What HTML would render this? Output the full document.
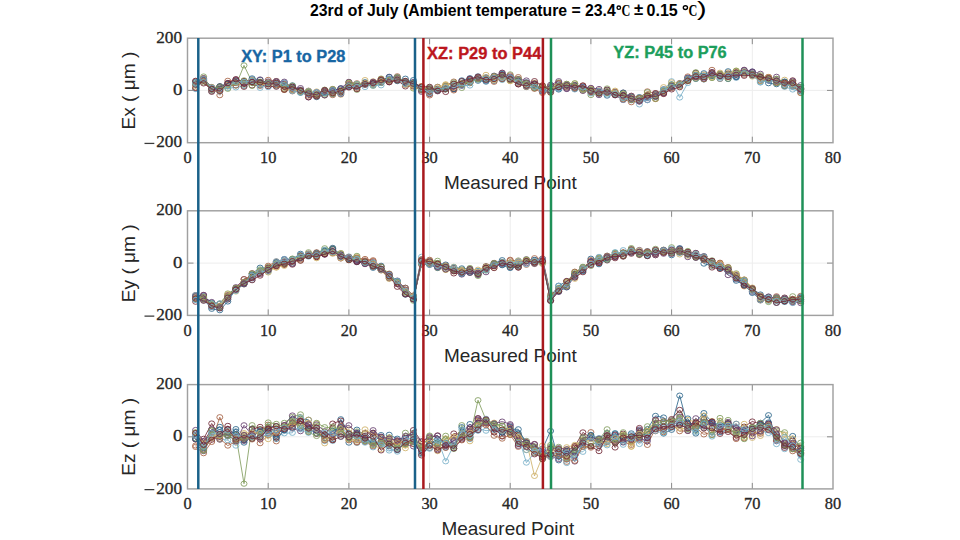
<!DOCTYPE html>
<html><head><meta charset="utf-8"><style>
html,body{margin:0;padding:0;background:#fff;width:960px;height:540px;overflow:hidden}
svg{position:absolute;left:0;top:0}
.tk{font-family:"Liberation Serif",serif;font-size:16.4px;fill:#262626;stroke:#262626;stroke-width:0.3px}
.xl{font-family:"Liberation Sans",sans-serif;font-size:18.2px;fill:#262626}
.ann{font-family:"Liberation Sans",sans-serif;font-size:16px;font-weight:bold;stroke-width:0.35px}
.ti{font-family:"Liberation Sans",sans-serif;font-size:15.8px;font-weight:bold;fill:#000}
.cc{font-family:"Liberation Serif",serif;font-size:16.5px;font-weight:bold;fill:#000}
.pr{font-family:"Liberation Sans",sans-serif;font-size:20.5px;fill:#000}
</style></head><body>
<svg width="960" height="540" viewBox="0 0 960 540">
<defs><clipPath id="c0"><rect x="187.5" y="38.2" width="645.5" height="104.49999999999999"/></clipPath><clipPath id="c1"><rect x="187.5" y="210.8" width="645.5" height="104.59999999999997"/></clipPath><clipPath id="c2"><rect x="187.5" y="384.6" width="645.5" height="104.29999999999995"/></clipPath></defs>
<g stroke="#ededed" stroke-width="1"><line x1="268.2" y1="38.2" x2="268.2" y2="142.7"/><line x1="348.9" y1="38.2" x2="348.9" y2="142.7"/><line x1="429.6" y1="38.2" x2="429.6" y2="142.7"/><line x1="510.2" y1="38.2" x2="510.2" y2="142.7"/><line x1="590.9" y1="38.2" x2="590.9" y2="142.7"/><line x1="671.6" y1="38.2" x2="671.6" y2="142.7"/><line x1="752.3" y1="38.2" x2="752.3" y2="142.7"/><line x1="187.5" y1="90.4" x2="833.0" y2="90.4"/><line x1="268.2" y1="210.8" x2="268.2" y2="315.4"/><line x1="348.9" y1="210.8" x2="348.9" y2="315.4"/><line x1="429.6" y1="210.8" x2="429.6" y2="315.4"/><line x1="510.2" y1="210.8" x2="510.2" y2="315.4"/><line x1="590.9" y1="210.8" x2="590.9" y2="315.4"/><line x1="671.6" y1="210.8" x2="671.6" y2="315.4"/><line x1="752.3" y1="210.8" x2="752.3" y2="315.4"/><line x1="187.5" y1="263.1" x2="833.0" y2="263.1"/><line x1="268.2" y1="384.6" x2="268.2" y2="488.9"/><line x1="348.9" y1="384.6" x2="348.9" y2="488.9"/><line x1="429.6" y1="384.6" x2="429.6" y2="488.9"/><line x1="510.2" y1="384.6" x2="510.2" y2="488.9"/><line x1="590.9" y1="384.6" x2="590.9" y2="488.9"/><line x1="671.6" y1="384.6" x2="671.6" y2="488.9"/><line x1="752.3" y1="384.6" x2="752.3" y2="488.9"/><line x1="187.5" y1="436.8" x2="833.0" y2="436.8"/></g>
<g clip-path="url(#c0)" fill="none" stroke-width="0.85"><path d="M195.6 83.6 L203.6 80.2 L211.7 89.2 L219.8 89.2 L227.8 85.6 L235.9 80.8 L244 82.2 L252.1 80.1 L260.1 83.1 L268.2 82.8 L276.3 83.7 L284.3 89.4 L292.4 86.8 L300.5 90.4 L308.5 92.5 L316.6 97.1 L324.7 95.1 L332.7 94.1 L340.8 92.4 L348.9 85.8 L356.9 85.5 L365 83 L373.1 85 L381.1 80.9 L389.2 79.7 L397.3 81.1 L405.4 78.7 L413.4 83 L421.5 86.9 L429.6 92 L437.6 90.4 L445.7 89 L453.8 85.9 L461.8 83.1 L469.9 80.7 L478 79.3 L486 80.6 L494.1 78.7 L502.2 74.3 L510.2 79.3 L518.3 80.2 L526.4 83 L534.5 88 L542.5 89.3 L550.6 86.6 L558.7 89.5 L566.7 86.4 L574.8 86.4 L582.9 90 L590.9 89.6 L599 91.3 L607.1 95.6 L615.1 92.1 L623.2 94.8 L631.3 96.8 L639.4 97.1 L647.4 95.4 L655.5 94.9 L663.6 92.6 L671.6 84.4 L679.7 85.9 L687.8 80.4 L695.8 78.9 L703.9 79.4 L712 75.8 L720 73.6 L728.1 79 L736.2 76.5 L744.2 71.6 L752.3 71.7 L760.4 76.9 L768.5 83.2 L776.5 84.2 L784.6 81.8 L792.7 86.7 L800.7 91.2" stroke="#2c658a"/><g stroke="#2c658a"><ellipse cx="195.6" cy="83.6" rx="3.0" ry="2.6"/><ellipse cx="203.6" cy="80.2" rx="3.0" ry="2.6"/><ellipse cx="211.7" cy="89.2" rx="3.0" ry="2.6"/><ellipse cx="219.8" cy="89.2" rx="3.0" ry="2.6"/><ellipse cx="227.8" cy="85.6" rx="3.0" ry="2.6"/><ellipse cx="235.9" cy="80.8" rx="3.0" ry="2.6"/><ellipse cx="244" cy="82.2" rx="3.0" ry="2.6"/><ellipse cx="252.1" cy="80.1" rx="3.0" ry="2.6"/><ellipse cx="260.1" cy="83.1" rx="3.0" ry="2.6"/><ellipse cx="268.2" cy="82.8" rx="3.0" ry="2.6"/><ellipse cx="276.3" cy="83.7" rx="3.0" ry="2.6"/><ellipse cx="284.3" cy="89.4" rx="3.0" ry="2.6"/><ellipse cx="292.4" cy="86.8" rx="3.0" ry="2.6"/><ellipse cx="300.5" cy="90.4" rx="3.0" ry="2.6"/><ellipse cx="308.5" cy="92.5" rx="3.0" ry="2.6"/><ellipse cx="316.6" cy="97.1" rx="3.0" ry="2.6"/><ellipse cx="324.7" cy="95.1" rx="3.0" ry="2.6"/><ellipse cx="332.7" cy="94.1" rx="3.0" ry="2.6"/><ellipse cx="340.8" cy="92.4" rx="3.0" ry="2.6"/><ellipse cx="348.9" cy="85.8" rx="3.0" ry="2.6"/><ellipse cx="356.9" cy="85.5" rx="3.0" ry="2.6"/><ellipse cx="365" cy="83" rx="3.0" ry="2.6"/><ellipse cx="373.1" cy="85" rx="3.0" ry="2.6"/><ellipse cx="381.1" cy="80.9" rx="3.0" ry="2.6"/><ellipse cx="389.2" cy="79.7" rx="3.0" ry="2.6"/><ellipse cx="397.3" cy="81.1" rx="3.0" ry="2.6"/><ellipse cx="405.4" cy="78.7" rx="3.0" ry="2.6"/><ellipse cx="413.4" cy="83" rx="3.0" ry="2.6"/><ellipse cx="421.5" cy="86.9" rx="3.0" ry="2.6"/><ellipse cx="429.6" cy="92" rx="3.0" ry="2.6"/><ellipse cx="437.6" cy="90.4" rx="3.0" ry="2.6"/><ellipse cx="445.7" cy="89" rx="3.0" ry="2.6"/><ellipse cx="453.8" cy="85.9" rx="3.0" ry="2.6"/><ellipse cx="461.8" cy="83.1" rx="3.0" ry="2.6"/><ellipse cx="469.9" cy="80.7" rx="3.0" ry="2.6"/><ellipse cx="478" cy="79.3" rx="3.0" ry="2.6"/><ellipse cx="486" cy="80.6" rx="3.0" ry="2.6"/><ellipse cx="494.1" cy="78.7" rx="3.0" ry="2.6"/><ellipse cx="502.2" cy="74.3" rx="3.0" ry="2.6"/><ellipse cx="510.2" cy="79.3" rx="3.0" ry="2.6"/><ellipse cx="518.3" cy="80.2" rx="3.0" ry="2.6"/><ellipse cx="526.4" cy="83" rx="3.0" ry="2.6"/><ellipse cx="534.5" cy="88" rx="3.0" ry="2.6"/><ellipse cx="542.5" cy="89.3" rx="3.0" ry="2.6"/><ellipse cx="550.6" cy="86.6" rx="3.0" ry="2.6"/><ellipse cx="558.7" cy="89.5" rx="3.0" ry="2.6"/><ellipse cx="566.7" cy="86.4" rx="3.0" ry="2.6"/><ellipse cx="574.8" cy="86.4" rx="3.0" ry="2.6"/><ellipse cx="582.9" cy="90" rx="3.0" ry="2.6"/><ellipse cx="590.9" cy="89.6" rx="3.0" ry="2.6"/><ellipse cx="599" cy="91.3" rx="3.0" ry="2.6"/><ellipse cx="607.1" cy="95.6" rx="3.0" ry="2.6"/><ellipse cx="615.1" cy="92.1" rx="3.0" ry="2.6"/><ellipse cx="623.2" cy="94.8" rx="3.0" ry="2.6"/><ellipse cx="631.3" cy="96.8" rx="3.0" ry="2.6"/><ellipse cx="639.4" cy="97.1" rx="3.0" ry="2.6"/><ellipse cx="647.4" cy="95.4" rx="3.0" ry="2.6"/><ellipse cx="655.5" cy="94.9" rx="3.0" ry="2.6"/><ellipse cx="663.6" cy="92.6" rx="3.0" ry="2.6"/><ellipse cx="671.6" cy="84.4" rx="3.0" ry="2.6"/><ellipse cx="679.7" cy="85.9" rx="3.0" ry="2.6"/><ellipse cx="687.8" cy="80.4" rx="3.0" ry="2.6"/><ellipse cx="695.8" cy="78.9" rx="3.0" ry="2.6"/><ellipse cx="703.9" cy="79.4" rx="3.0" ry="2.6"/><ellipse cx="712" cy="75.8" rx="3.0" ry="2.6"/><ellipse cx="720" cy="73.6" rx="3.0" ry="2.6"/><ellipse cx="728.1" cy="79" rx="3.0" ry="2.6"/><ellipse cx="736.2" cy="76.5" rx="3.0" ry="2.6"/><ellipse cx="744.2" cy="71.6" rx="3.0" ry="2.6"/><ellipse cx="752.3" cy="71.7" rx="3.0" ry="2.6"/><ellipse cx="760.4" cy="76.9" rx="3.0" ry="2.6"/><ellipse cx="768.5" cy="83.2" rx="3.0" ry="2.6"/><ellipse cx="776.5" cy="84.2" rx="3.0" ry="2.6"/><ellipse cx="784.6" cy="81.8" rx="3.0" ry="2.6"/><ellipse cx="792.7" cy="86.7" rx="3.0" ry="2.6"/><ellipse cx="800.7" cy="91.2" rx="3.0" ry="2.6"/></g><path d="M195.6 81.3 L203.6 78.3 L211.7 87 L219.8 95.2 L227.8 80.8 L235.9 80.8 L244 81 L252.1 80.1 L260.1 85.9 L268.2 79.9 L276.3 81.1 L284.3 83.8 L292.4 91.3 L300.5 91.7 L308.5 90.7 L316.6 96.3 L324.7 90.8 L332.7 89.1 L340.8 93.2 L348.9 82.1 L356.9 83.3 L365 83.4 L373.1 81.9 L381.1 79.1 L389.2 79.2 L397.3 76.3 L405.4 82.7 L413.4 84 L421.5 86.1 L429.6 89.6 L437.6 89.6 L445.7 85.3 L453.8 81.6 L461.8 84.3 L469.9 83.1 L478 77.6 L486 77.9 L494.1 77.2 L502.2 72.9 L510.2 78.7 L518.3 77.1 L526.4 85.5 L534.5 85.5 L542.5 87 L550.6 86 L558.7 82.9 L566.7 83.9 L574.8 84.9 L582.9 87 L590.9 88.4 L599 90.5 L607.1 90.9 L615.1 91.6 L623.2 95.1 L631.3 96.1 L639.4 97.9 L647.4 91.4 L655.5 93.4 L663.6 89.7 L671.6 85.4 L679.7 83.7 L687.8 76.5 L695.8 76 L703.9 75.5 L712 69.9 L720 79 L728.1 76.6 L736.2 71.9 L744.2 70.3 L752.3 73.2 L760.4 78 L768.5 77 L776.5 78.9 L784.6 82.6 L792.7 80.4 L800.7 87.1" stroke="#a66346"/><g stroke="#a66346"><ellipse cx="195.6" cy="81.3" rx="3.0" ry="2.6"/><ellipse cx="203.6" cy="78.3" rx="3.0" ry="2.6"/><ellipse cx="211.7" cy="87" rx="3.0" ry="2.6"/><ellipse cx="219.8" cy="95.2" rx="3.0" ry="2.6"/><ellipse cx="227.8" cy="80.8" rx="3.0" ry="2.6"/><ellipse cx="235.9" cy="80.8" rx="3.0" ry="2.6"/><ellipse cx="244" cy="81" rx="3.0" ry="2.6"/><ellipse cx="252.1" cy="80.1" rx="3.0" ry="2.6"/><ellipse cx="260.1" cy="85.9" rx="3.0" ry="2.6"/><ellipse cx="268.2" cy="79.9" rx="3.0" ry="2.6"/><ellipse cx="276.3" cy="81.1" rx="3.0" ry="2.6"/><ellipse cx="284.3" cy="83.8" rx="3.0" ry="2.6"/><ellipse cx="292.4" cy="91.3" rx="3.0" ry="2.6"/><ellipse cx="300.5" cy="91.7" rx="3.0" ry="2.6"/><ellipse cx="308.5" cy="90.7" rx="3.0" ry="2.6"/><ellipse cx="316.6" cy="96.3" rx="3.0" ry="2.6"/><ellipse cx="324.7" cy="90.8" rx="3.0" ry="2.6"/><ellipse cx="332.7" cy="89.1" rx="3.0" ry="2.6"/><ellipse cx="340.8" cy="93.2" rx="3.0" ry="2.6"/><ellipse cx="348.9" cy="82.1" rx="3.0" ry="2.6"/><ellipse cx="356.9" cy="83.3" rx="3.0" ry="2.6"/><ellipse cx="365" cy="83.4" rx="3.0" ry="2.6"/><ellipse cx="373.1" cy="81.9" rx="3.0" ry="2.6"/><ellipse cx="381.1" cy="79.1" rx="3.0" ry="2.6"/><ellipse cx="389.2" cy="79.2" rx="3.0" ry="2.6"/><ellipse cx="397.3" cy="76.3" rx="3.0" ry="2.6"/><ellipse cx="405.4" cy="82.7" rx="3.0" ry="2.6"/><ellipse cx="413.4" cy="84" rx="3.0" ry="2.6"/><ellipse cx="421.5" cy="86.1" rx="3.0" ry="2.6"/><ellipse cx="429.6" cy="89.6" rx="3.0" ry="2.6"/><ellipse cx="437.6" cy="89.6" rx="3.0" ry="2.6"/><ellipse cx="445.7" cy="85.3" rx="3.0" ry="2.6"/><ellipse cx="453.8" cy="81.6" rx="3.0" ry="2.6"/><ellipse cx="461.8" cy="84.3" rx="3.0" ry="2.6"/><ellipse cx="469.9" cy="83.1" rx="3.0" ry="2.6"/><ellipse cx="478" cy="77.6" rx="3.0" ry="2.6"/><ellipse cx="486" cy="77.9" rx="3.0" ry="2.6"/><ellipse cx="494.1" cy="77.2" rx="3.0" ry="2.6"/><ellipse cx="502.2" cy="72.9" rx="3.0" ry="2.6"/><ellipse cx="510.2" cy="78.7" rx="3.0" ry="2.6"/><ellipse cx="518.3" cy="77.1" rx="3.0" ry="2.6"/><ellipse cx="526.4" cy="85.5" rx="3.0" ry="2.6"/><ellipse cx="534.5" cy="85.5" rx="3.0" ry="2.6"/><ellipse cx="542.5" cy="87" rx="3.0" ry="2.6"/><ellipse cx="550.6" cy="86" rx="3.0" ry="2.6"/><ellipse cx="558.7" cy="82.9" rx="3.0" ry="2.6"/><ellipse cx="566.7" cy="83.9" rx="3.0" ry="2.6"/><ellipse cx="574.8" cy="84.9" rx="3.0" ry="2.6"/><ellipse cx="582.9" cy="87" rx="3.0" ry="2.6"/><ellipse cx="590.9" cy="88.4" rx="3.0" ry="2.6"/><ellipse cx="599" cy="90.5" rx="3.0" ry="2.6"/><ellipse cx="607.1" cy="90.9" rx="3.0" ry="2.6"/><ellipse cx="615.1" cy="91.6" rx="3.0" ry="2.6"/><ellipse cx="623.2" cy="95.1" rx="3.0" ry="2.6"/><ellipse cx="631.3" cy="96.1" rx="3.0" ry="2.6"/><ellipse cx="639.4" cy="97.9" rx="3.0" ry="2.6"/><ellipse cx="647.4" cy="91.4" rx="3.0" ry="2.6"/><ellipse cx="655.5" cy="93.4" rx="3.0" ry="2.6"/><ellipse cx="663.6" cy="89.7" rx="3.0" ry="2.6"/><ellipse cx="671.6" cy="85.4" rx="3.0" ry="2.6"/><ellipse cx="679.7" cy="83.7" rx="3.0" ry="2.6"/><ellipse cx="687.8" cy="76.5" rx="3.0" ry="2.6"/><ellipse cx="695.8" cy="76" rx="3.0" ry="2.6"/><ellipse cx="703.9" cy="75.5" rx="3.0" ry="2.6"/><ellipse cx="712" cy="69.9" rx="3.0" ry="2.6"/><ellipse cx="720" cy="79" rx="3.0" ry="2.6"/><ellipse cx="728.1" cy="76.6" rx="3.0" ry="2.6"/><ellipse cx="736.2" cy="71.9" rx="3.0" ry="2.6"/><ellipse cx="744.2" cy="70.3" rx="3.0" ry="2.6"/><ellipse cx="752.3" cy="73.2" rx="3.0" ry="2.6"/><ellipse cx="760.4" cy="78" rx="3.0" ry="2.6"/><ellipse cx="768.5" cy="77" rx="3.0" ry="2.6"/><ellipse cx="776.5" cy="78.9" rx="3.0" ry="2.6"/><ellipse cx="784.6" cy="82.6" rx="3.0" ry="2.6"/><ellipse cx="792.7" cy="80.4" rx="3.0" ry="2.6"/><ellipse cx="800.7" cy="87.1" rx="3.0" ry="2.6"/></g><path d="M195.6 85.1 L203.6 80.4 L211.7 89 L219.8 91.3 L227.8 86.4 L235.9 81.2 L244 85.8 L252.1 82.7 L260.1 81.9 L268.2 82.1 L276.3 81.3 L284.3 89.8 L292.4 89.6 L300.5 92.4 L308.5 92.5 L316.6 91.5 L324.7 95.5 L332.7 90.2 L340.8 94.7 L348.9 85.3 L356.9 88.8 L365 84 L373.1 81.4 L381.1 82.1 L389.2 80.3 L397.3 78.3 L405.4 82.3 L413.4 84.6 L421.5 86.4 L429.6 88.7 L437.6 89.7 L445.7 84.8 L453.8 88.3 L461.8 82.7 L469.9 82.1 L478 78.4 L486 77.4 L494.1 77.4 L502.2 75.7 L510.2 81 L518.3 84.1 L526.4 82.8 L534.5 87.2 L542.5 91.8 L550.6 92.7 L558.7 83.3 L566.7 84.4 L574.8 83.4 L582.9 90.5 L590.9 90.9 L599 93.8 L607.1 91.1 L615.1 90.7 L623.2 98.3 L631.3 95.8 L639.4 98.3 L647.4 96.8 L655.5 99.1 L663.6 87.2 L671.6 86.2 L679.7 86.2 L687.8 78.8 L695.8 75.7 L703.9 74.5 L712 77.1 L720 74.2 L728.1 72.4 L736.2 70.6 L744.2 72.7 L752.3 76.5 L760.4 76.2 L768.5 79.4 L776.5 80.5 L784.6 79.8 L792.7 86 L800.7 92.8" stroke="#cfb169"/><g stroke="#cfb169"><ellipse cx="195.6" cy="85.1" rx="3.0" ry="2.6"/><ellipse cx="203.6" cy="80.4" rx="3.0" ry="2.6"/><ellipse cx="211.7" cy="89" rx="3.0" ry="2.6"/><ellipse cx="219.8" cy="91.3" rx="3.0" ry="2.6"/><ellipse cx="227.8" cy="86.4" rx="3.0" ry="2.6"/><ellipse cx="235.9" cy="81.2" rx="3.0" ry="2.6"/><ellipse cx="244" cy="85.8" rx="3.0" ry="2.6"/><ellipse cx="252.1" cy="82.7" rx="3.0" ry="2.6"/><ellipse cx="260.1" cy="81.9" rx="3.0" ry="2.6"/><ellipse cx="268.2" cy="82.1" rx="3.0" ry="2.6"/><ellipse cx="276.3" cy="81.3" rx="3.0" ry="2.6"/><ellipse cx="284.3" cy="89.8" rx="3.0" ry="2.6"/><ellipse cx="292.4" cy="89.6" rx="3.0" ry="2.6"/><ellipse cx="300.5" cy="92.4" rx="3.0" ry="2.6"/><ellipse cx="308.5" cy="92.5" rx="3.0" ry="2.6"/><ellipse cx="316.6" cy="91.5" rx="3.0" ry="2.6"/><ellipse cx="324.7" cy="95.5" rx="3.0" ry="2.6"/><ellipse cx="332.7" cy="90.2" rx="3.0" ry="2.6"/><ellipse cx="340.8" cy="94.7" rx="3.0" ry="2.6"/><ellipse cx="348.9" cy="85.3" rx="3.0" ry="2.6"/><ellipse cx="356.9" cy="88.8" rx="3.0" ry="2.6"/><ellipse cx="365" cy="84" rx="3.0" ry="2.6"/><ellipse cx="373.1" cy="81.4" rx="3.0" ry="2.6"/><ellipse cx="381.1" cy="82.1" rx="3.0" ry="2.6"/><ellipse cx="389.2" cy="80.3" rx="3.0" ry="2.6"/><ellipse cx="397.3" cy="78.3" rx="3.0" ry="2.6"/><ellipse cx="405.4" cy="82.3" rx="3.0" ry="2.6"/><ellipse cx="413.4" cy="84.6" rx="3.0" ry="2.6"/><ellipse cx="421.5" cy="86.4" rx="3.0" ry="2.6"/><ellipse cx="429.6" cy="88.7" rx="3.0" ry="2.6"/><ellipse cx="437.6" cy="89.7" rx="3.0" ry="2.6"/><ellipse cx="445.7" cy="84.8" rx="3.0" ry="2.6"/><ellipse cx="453.8" cy="88.3" rx="3.0" ry="2.6"/><ellipse cx="461.8" cy="82.7" rx="3.0" ry="2.6"/><ellipse cx="469.9" cy="82.1" rx="3.0" ry="2.6"/><ellipse cx="478" cy="78.4" rx="3.0" ry="2.6"/><ellipse cx="486" cy="77.4" rx="3.0" ry="2.6"/><ellipse cx="494.1" cy="77.4" rx="3.0" ry="2.6"/><ellipse cx="502.2" cy="75.7" rx="3.0" ry="2.6"/><ellipse cx="510.2" cy="81" rx="3.0" ry="2.6"/><ellipse cx="518.3" cy="84.1" rx="3.0" ry="2.6"/><ellipse cx="526.4" cy="82.8" rx="3.0" ry="2.6"/><ellipse cx="534.5" cy="87.2" rx="3.0" ry="2.6"/><ellipse cx="542.5" cy="91.8" rx="3.0" ry="2.6"/><ellipse cx="550.6" cy="92.7" rx="3.0" ry="2.6"/><ellipse cx="558.7" cy="83.3" rx="3.0" ry="2.6"/><ellipse cx="566.7" cy="84.4" rx="3.0" ry="2.6"/><ellipse cx="574.8" cy="83.4" rx="3.0" ry="2.6"/><ellipse cx="582.9" cy="90.5" rx="3.0" ry="2.6"/><ellipse cx="590.9" cy="90.9" rx="3.0" ry="2.6"/><ellipse cx="599" cy="93.8" rx="3.0" ry="2.6"/><ellipse cx="607.1" cy="91.1" rx="3.0" ry="2.6"/><ellipse cx="615.1" cy="90.7" rx="3.0" ry="2.6"/><ellipse cx="623.2" cy="98.3" rx="3.0" ry="2.6"/><ellipse cx="631.3" cy="95.8" rx="3.0" ry="2.6"/><ellipse cx="639.4" cy="98.3" rx="3.0" ry="2.6"/><ellipse cx="647.4" cy="96.8" rx="3.0" ry="2.6"/><ellipse cx="655.5" cy="99.1" rx="3.0" ry="2.6"/><ellipse cx="663.6" cy="87.2" rx="3.0" ry="2.6"/><ellipse cx="671.6" cy="86.2" rx="3.0" ry="2.6"/><ellipse cx="679.7" cy="86.2" rx="3.0" ry="2.6"/><ellipse cx="687.8" cy="78.8" rx="3.0" ry="2.6"/><ellipse cx="695.8" cy="75.7" rx="3.0" ry="2.6"/><ellipse cx="703.9" cy="74.5" rx="3.0" ry="2.6"/><ellipse cx="712" cy="77.1" rx="3.0" ry="2.6"/><ellipse cx="720" cy="74.2" rx="3.0" ry="2.6"/><ellipse cx="728.1" cy="72.4" rx="3.0" ry="2.6"/><ellipse cx="736.2" cy="70.6" rx="3.0" ry="2.6"/><ellipse cx="744.2" cy="72.7" rx="3.0" ry="2.6"/><ellipse cx="752.3" cy="76.5" rx="3.0" ry="2.6"/><ellipse cx="760.4" cy="76.2" rx="3.0" ry="2.6"/><ellipse cx="768.5" cy="79.4" rx="3.0" ry="2.6"/><ellipse cx="776.5" cy="80.5" rx="3.0" ry="2.6"/><ellipse cx="784.6" cy="79.8" rx="3.0" ry="2.6"/><ellipse cx="792.7" cy="86" rx="3.0" ry="2.6"/><ellipse cx="800.7" cy="92.8" rx="3.0" ry="2.6"/></g><path d="M195.6 88.5 L203.6 78.1 L211.7 88 L219.8 88.7 L227.8 85.3 L235.9 81.5 L244 83 L252.1 79.6 L260.1 83.8 L268.2 81.5 L276.3 81.1 L284.3 82.7 L292.4 90.1 L300.5 89.7 L308.5 97.4 L316.6 95.9 L324.7 95.3 L332.7 90.1 L340.8 94.1 L348.9 86.6 L356.9 86 L365 84.3 L373.1 85 L381.1 81.1 L389.2 76.8 L397.3 79.7 L405.4 81.3 L413.4 82.2 L421.5 89.9 L429.6 93.4 L437.6 90.1 L445.7 86.2 L453.8 89.3 L461.8 85.8 L469.9 79.3 L478 76.8 L486 78.7 L494.1 76 L502.2 76.6 L510.2 80.2 L518.3 84.1 L526.4 85.3 L534.5 83.1 L542.5 90.6 L550.6 91.4 L558.7 87.4 L566.7 89 L574.8 86.6 L582.9 90.9 L590.9 90 L599 95.1 L607.1 91.9 L615.1 95.2 L623.2 100 L631.3 97.4 L639.4 100.8 L647.4 100 L655.5 97 L663.6 89.4 L671.6 86.8 L679.7 83.1 L687.8 78 L695.8 75 L703.9 76.8 L712 72.1 L720 75 L728.1 74.4 L736.2 77.3 L744.2 70.4 L752.3 72.1 L760.4 78.9 L768.5 80.5 L776.5 76.8 L784.6 86.3 L792.7 84.3 L800.7 85.2" stroke="#67406f"/><g stroke="#67406f"><ellipse cx="195.6" cy="88.5" rx="3.0" ry="2.6"/><ellipse cx="203.6" cy="78.1" rx="3.0" ry="2.6"/><ellipse cx="211.7" cy="88" rx="3.0" ry="2.6"/><ellipse cx="219.8" cy="88.7" rx="3.0" ry="2.6"/><ellipse cx="227.8" cy="85.3" rx="3.0" ry="2.6"/><ellipse cx="235.9" cy="81.5" rx="3.0" ry="2.6"/><ellipse cx="244" cy="83" rx="3.0" ry="2.6"/><ellipse cx="252.1" cy="79.6" rx="3.0" ry="2.6"/><ellipse cx="260.1" cy="83.8" rx="3.0" ry="2.6"/><ellipse cx="268.2" cy="81.5" rx="3.0" ry="2.6"/><ellipse cx="276.3" cy="81.1" rx="3.0" ry="2.6"/><ellipse cx="284.3" cy="82.7" rx="3.0" ry="2.6"/><ellipse cx="292.4" cy="90.1" rx="3.0" ry="2.6"/><ellipse cx="300.5" cy="89.7" rx="3.0" ry="2.6"/><ellipse cx="308.5" cy="97.4" rx="3.0" ry="2.6"/><ellipse cx="316.6" cy="95.9" rx="3.0" ry="2.6"/><ellipse cx="324.7" cy="95.3" rx="3.0" ry="2.6"/><ellipse cx="332.7" cy="90.1" rx="3.0" ry="2.6"/><ellipse cx="340.8" cy="94.1" rx="3.0" ry="2.6"/><ellipse cx="348.9" cy="86.6" rx="3.0" ry="2.6"/><ellipse cx="356.9" cy="86" rx="3.0" ry="2.6"/><ellipse cx="365" cy="84.3" rx="3.0" ry="2.6"/><ellipse cx="373.1" cy="85" rx="3.0" ry="2.6"/><ellipse cx="381.1" cy="81.1" rx="3.0" ry="2.6"/><ellipse cx="389.2" cy="76.8" rx="3.0" ry="2.6"/><ellipse cx="397.3" cy="79.7" rx="3.0" ry="2.6"/><ellipse cx="405.4" cy="81.3" rx="3.0" ry="2.6"/><ellipse cx="413.4" cy="82.2" rx="3.0" ry="2.6"/><ellipse cx="421.5" cy="89.9" rx="3.0" ry="2.6"/><ellipse cx="429.6" cy="93.4" rx="3.0" ry="2.6"/><ellipse cx="437.6" cy="90.1" rx="3.0" ry="2.6"/><ellipse cx="445.7" cy="86.2" rx="3.0" ry="2.6"/><ellipse cx="453.8" cy="89.3" rx="3.0" ry="2.6"/><ellipse cx="461.8" cy="85.8" rx="3.0" ry="2.6"/><ellipse cx="469.9" cy="79.3" rx="3.0" ry="2.6"/><ellipse cx="478" cy="76.8" rx="3.0" ry="2.6"/><ellipse cx="486" cy="78.7" rx="3.0" ry="2.6"/><ellipse cx="494.1" cy="76" rx="3.0" ry="2.6"/><ellipse cx="502.2" cy="76.6" rx="3.0" ry="2.6"/><ellipse cx="510.2" cy="80.2" rx="3.0" ry="2.6"/><ellipse cx="518.3" cy="84.1" rx="3.0" ry="2.6"/><ellipse cx="526.4" cy="85.3" rx="3.0" ry="2.6"/><ellipse cx="534.5" cy="83.1" rx="3.0" ry="2.6"/><ellipse cx="542.5" cy="90.6" rx="3.0" ry="2.6"/><ellipse cx="550.6" cy="91.4" rx="3.0" ry="2.6"/><ellipse cx="558.7" cy="87.4" rx="3.0" ry="2.6"/><ellipse cx="566.7" cy="89" rx="3.0" ry="2.6"/><ellipse cx="574.8" cy="86.6" rx="3.0" ry="2.6"/><ellipse cx="582.9" cy="90.9" rx="3.0" ry="2.6"/><ellipse cx="590.9" cy="90" rx="3.0" ry="2.6"/><ellipse cx="599" cy="95.1" rx="3.0" ry="2.6"/><ellipse cx="607.1" cy="91.9" rx="3.0" ry="2.6"/><ellipse cx="615.1" cy="95.2" rx="3.0" ry="2.6"/><ellipse cx="623.2" cy="100" rx="3.0" ry="2.6"/><ellipse cx="631.3" cy="97.4" rx="3.0" ry="2.6"/><ellipse cx="639.4" cy="100.8" rx="3.0" ry="2.6"/><ellipse cx="647.4" cy="100" rx="3.0" ry="2.6"/><ellipse cx="655.5" cy="97" rx="3.0" ry="2.6"/><ellipse cx="663.6" cy="89.4" rx="3.0" ry="2.6"/><ellipse cx="671.6" cy="86.8" rx="3.0" ry="2.6"/><ellipse cx="679.7" cy="83.1" rx="3.0" ry="2.6"/><ellipse cx="687.8" cy="78" rx="3.0" ry="2.6"/><ellipse cx="695.8" cy="75" rx="3.0" ry="2.6"/><ellipse cx="703.9" cy="76.8" rx="3.0" ry="2.6"/><ellipse cx="712" cy="72.1" rx="3.0" ry="2.6"/><ellipse cx="720" cy="75" rx="3.0" ry="2.6"/><ellipse cx="728.1" cy="74.4" rx="3.0" ry="2.6"/><ellipse cx="736.2" cy="77.3" rx="3.0" ry="2.6"/><ellipse cx="744.2" cy="70.4" rx="3.0" ry="2.6"/><ellipse cx="752.3" cy="72.1" rx="3.0" ry="2.6"/><ellipse cx="760.4" cy="78.9" rx="3.0" ry="2.6"/><ellipse cx="768.5" cy="80.5" rx="3.0" ry="2.6"/><ellipse cx="776.5" cy="76.8" rx="3.0" ry="2.6"/><ellipse cx="784.6" cy="86.3" rx="3.0" ry="2.6"/><ellipse cx="792.7" cy="84.3" rx="3.0" ry="2.6"/><ellipse cx="800.7" cy="85.2" rx="3.0" ry="2.6"/></g><path d="M195.6 83.8 L203.6 76.5 L211.7 89.4 L219.8 86.7 L227.8 83.9 L235.9 85.5 L244 65.4 L252.1 82.3 L260.1 82.4 L268.2 84.2 L276.3 85.1 L284.3 88.6 L292.4 89.9 L300.5 90.1 L308.5 93.9 L316.6 95.9 L324.7 93.8 L332.7 89 L340.8 89.6 L348.9 85.7 L356.9 89.8 L365 83.4 L373.1 83.2 L381.1 78.6 L389.2 80.1 L397.3 80.4 L405.4 81.8 L413.4 88.5 L421.5 87.8 L429.6 90.5 L437.6 90.9 L445.7 86.1 L453.8 82.5 L461.8 87.9 L469.9 83.2 L478 78.3 L486 78.8 L494.1 79 L502.2 79.4 L510.2 74.4 L518.3 79.1 L526.4 86.9 L534.5 88.3 L542.5 86.4 L550.6 87.9 L558.7 82.5 L566.7 84.6 L574.8 88.6 L582.9 88.3 L590.9 95 L599 93.3 L607.1 93.2 L615.1 93.3 L623.2 98.2 L631.3 99.6 L639.4 99.7 L647.4 95.9 L655.5 94.3 L663.6 90 L671.6 86.9 L679.7 83.6 L687.8 79.9 L695.8 78.6 L703.9 79.2 L712 75.3 L720 77.1 L728.1 75.5 L736.2 74 L744.2 72.3 L752.3 75.6 L760.4 81.3 L768.5 79.1 L776.5 78.8 L784.6 82.2 L792.7 86.1 L800.7 88.5" stroke="#829d5f"/><g stroke="#829d5f"><ellipse cx="195.6" cy="83.8" rx="3.0" ry="2.6"/><ellipse cx="203.6" cy="76.5" rx="3.0" ry="2.6"/><ellipse cx="211.7" cy="89.4" rx="3.0" ry="2.6"/><ellipse cx="219.8" cy="86.7" rx="3.0" ry="2.6"/><ellipse cx="227.8" cy="83.9" rx="3.0" ry="2.6"/><ellipse cx="235.9" cy="85.5" rx="3.0" ry="2.6"/><ellipse cx="244" cy="65.4" rx="3.0" ry="2.6"/><ellipse cx="252.1" cy="82.3" rx="3.0" ry="2.6"/><ellipse cx="260.1" cy="82.4" rx="3.0" ry="2.6"/><ellipse cx="268.2" cy="84.2" rx="3.0" ry="2.6"/><ellipse cx="276.3" cy="85.1" rx="3.0" ry="2.6"/><ellipse cx="284.3" cy="88.6" rx="3.0" ry="2.6"/><ellipse cx="292.4" cy="89.9" rx="3.0" ry="2.6"/><ellipse cx="300.5" cy="90.1" rx="3.0" ry="2.6"/><ellipse cx="308.5" cy="93.9" rx="3.0" ry="2.6"/><ellipse cx="316.6" cy="95.9" rx="3.0" ry="2.6"/><ellipse cx="324.7" cy="93.8" rx="3.0" ry="2.6"/><ellipse cx="332.7" cy="89" rx="3.0" ry="2.6"/><ellipse cx="340.8" cy="89.6" rx="3.0" ry="2.6"/><ellipse cx="348.9" cy="85.7" rx="3.0" ry="2.6"/><ellipse cx="356.9" cy="89.8" rx="3.0" ry="2.6"/><ellipse cx="365" cy="83.4" rx="3.0" ry="2.6"/><ellipse cx="373.1" cy="83.2" rx="3.0" ry="2.6"/><ellipse cx="381.1" cy="78.6" rx="3.0" ry="2.6"/><ellipse cx="389.2" cy="80.1" rx="3.0" ry="2.6"/><ellipse cx="397.3" cy="80.4" rx="3.0" ry="2.6"/><ellipse cx="405.4" cy="81.8" rx="3.0" ry="2.6"/><ellipse cx="413.4" cy="88.5" rx="3.0" ry="2.6"/><ellipse cx="421.5" cy="87.8" rx="3.0" ry="2.6"/><ellipse cx="429.6" cy="90.5" rx="3.0" ry="2.6"/><ellipse cx="437.6" cy="90.9" rx="3.0" ry="2.6"/><ellipse cx="445.7" cy="86.1" rx="3.0" ry="2.6"/><ellipse cx="453.8" cy="82.5" rx="3.0" ry="2.6"/><ellipse cx="461.8" cy="87.9" rx="3.0" ry="2.6"/><ellipse cx="469.9" cy="83.2" rx="3.0" ry="2.6"/><ellipse cx="478" cy="78.3" rx="3.0" ry="2.6"/><ellipse cx="486" cy="78.8" rx="3.0" ry="2.6"/><ellipse cx="494.1" cy="79" rx="3.0" ry="2.6"/><ellipse cx="502.2" cy="79.4" rx="3.0" ry="2.6"/><ellipse cx="510.2" cy="74.4" rx="3.0" ry="2.6"/><ellipse cx="518.3" cy="79.1" rx="3.0" ry="2.6"/><ellipse cx="526.4" cy="86.9" rx="3.0" ry="2.6"/><ellipse cx="534.5" cy="88.3" rx="3.0" ry="2.6"/><ellipse cx="542.5" cy="86.4" rx="3.0" ry="2.6"/><ellipse cx="550.6" cy="87.9" rx="3.0" ry="2.6"/><ellipse cx="558.7" cy="82.5" rx="3.0" ry="2.6"/><ellipse cx="566.7" cy="84.6" rx="3.0" ry="2.6"/><ellipse cx="574.8" cy="88.6" rx="3.0" ry="2.6"/><ellipse cx="582.9" cy="88.3" rx="3.0" ry="2.6"/><ellipse cx="590.9" cy="95" rx="3.0" ry="2.6"/><ellipse cx="599" cy="93.3" rx="3.0" ry="2.6"/><ellipse cx="607.1" cy="93.2" rx="3.0" ry="2.6"/><ellipse cx="615.1" cy="93.3" rx="3.0" ry="2.6"/><ellipse cx="623.2" cy="98.2" rx="3.0" ry="2.6"/><ellipse cx="631.3" cy="99.6" rx="3.0" ry="2.6"/><ellipse cx="639.4" cy="99.7" rx="3.0" ry="2.6"/><ellipse cx="647.4" cy="95.9" rx="3.0" ry="2.6"/><ellipse cx="655.5" cy="94.3" rx="3.0" ry="2.6"/><ellipse cx="663.6" cy="90" rx="3.0" ry="2.6"/><ellipse cx="671.6" cy="86.9" rx="3.0" ry="2.6"/><ellipse cx="679.7" cy="83.6" rx="3.0" ry="2.6"/><ellipse cx="687.8" cy="79.9" rx="3.0" ry="2.6"/><ellipse cx="695.8" cy="78.6" rx="3.0" ry="2.6"/><ellipse cx="703.9" cy="79.2" rx="3.0" ry="2.6"/><ellipse cx="712" cy="75.3" rx="3.0" ry="2.6"/><ellipse cx="720" cy="77.1" rx="3.0" ry="2.6"/><ellipse cx="728.1" cy="75.5" rx="3.0" ry="2.6"/><ellipse cx="736.2" cy="74" rx="3.0" ry="2.6"/><ellipse cx="744.2" cy="72.3" rx="3.0" ry="2.6"/><ellipse cx="752.3" cy="75.6" rx="3.0" ry="2.6"/><ellipse cx="760.4" cy="81.3" rx="3.0" ry="2.6"/><ellipse cx="768.5" cy="79.1" rx="3.0" ry="2.6"/><ellipse cx="776.5" cy="78.8" rx="3.0" ry="2.6"/><ellipse cx="784.6" cy="82.2" rx="3.0" ry="2.6"/><ellipse cx="792.7" cy="86.1" rx="3.0" ry="2.6"/><ellipse cx="800.7" cy="88.5" rx="3.0" ry="2.6"/></g><path d="M195.6 89 L203.6 80.2 L211.7 91.1 L219.8 86.3 L227.8 88 L235.9 87.4 L244 85.9 L252.1 79.6 L260.1 85 L268.2 87.1 L276.3 86.3 L284.3 85.5 L292.4 88.1 L300.5 91.7 L308.5 91 L316.6 92.7 L324.7 92.1 L332.7 91.6 L340.8 88.6 L348.9 85 L356.9 83.9 L365 87 L373.1 84.5 L381.1 80.6 L389.2 81.7 L397.3 78.1 L405.4 81.7 L413.4 82.8 L421.5 90.4 L429.6 87.5 L437.6 86.8 L445.7 89.4 L453.8 86.1 L461.8 81.2 L469.9 82.6 L478 77.2 L486 77.2 L494.1 78.2 L502.2 79.9 L510.2 77.8 L518.3 80.6 L526.4 82.1 L534.5 83.9 L542.5 89.9 L550.6 88.2 L558.7 85.2 L566.7 85.9 L574.8 86.7 L582.9 89.4 L590.9 89.8 L599 94 L607.1 94.4 L615.1 94.4 L623.2 99.8 L631.3 100.3 L639.4 104.4 L647.4 98.2 L655.5 94.5 L663.6 89.3 L671.6 81.3 L679.7 97.5 L687.8 83 L695.8 73.1 L703.9 76.9 L712 73 L720 78.7 L728.1 76.2 L736.2 77.8 L744.2 71.1 L752.3 73.4 L760.4 82.5 L768.5 80.1 L776.5 79.8 L784.6 86.8 L792.7 89.5 L800.7 91.7" stroke="#77afc7"/><g stroke="#77afc7"><ellipse cx="195.6" cy="89" rx="3.0" ry="2.6"/><ellipse cx="203.6" cy="80.2" rx="3.0" ry="2.6"/><ellipse cx="211.7" cy="91.1" rx="3.0" ry="2.6"/><ellipse cx="219.8" cy="86.3" rx="3.0" ry="2.6"/><ellipse cx="227.8" cy="88" rx="3.0" ry="2.6"/><ellipse cx="235.9" cy="87.4" rx="3.0" ry="2.6"/><ellipse cx="244" cy="85.9" rx="3.0" ry="2.6"/><ellipse cx="252.1" cy="79.6" rx="3.0" ry="2.6"/><ellipse cx="260.1" cy="85" rx="3.0" ry="2.6"/><ellipse cx="268.2" cy="87.1" rx="3.0" ry="2.6"/><ellipse cx="276.3" cy="86.3" rx="3.0" ry="2.6"/><ellipse cx="284.3" cy="85.5" rx="3.0" ry="2.6"/><ellipse cx="292.4" cy="88.1" rx="3.0" ry="2.6"/><ellipse cx="300.5" cy="91.7" rx="3.0" ry="2.6"/><ellipse cx="308.5" cy="91" rx="3.0" ry="2.6"/><ellipse cx="316.6" cy="92.7" rx="3.0" ry="2.6"/><ellipse cx="324.7" cy="92.1" rx="3.0" ry="2.6"/><ellipse cx="332.7" cy="91.6" rx="3.0" ry="2.6"/><ellipse cx="340.8" cy="88.6" rx="3.0" ry="2.6"/><ellipse cx="348.9" cy="85" rx="3.0" ry="2.6"/><ellipse cx="356.9" cy="83.9" rx="3.0" ry="2.6"/><ellipse cx="365" cy="87" rx="3.0" ry="2.6"/><ellipse cx="373.1" cy="84.5" rx="3.0" ry="2.6"/><ellipse cx="381.1" cy="80.6" rx="3.0" ry="2.6"/><ellipse cx="389.2" cy="81.7" rx="3.0" ry="2.6"/><ellipse cx="397.3" cy="78.1" rx="3.0" ry="2.6"/><ellipse cx="405.4" cy="81.7" rx="3.0" ry="2.6"/><ellipse cx="413.4" cy="82.8" rx="3.0" ry="2.6"/><ellipse cx="421.5" cy="90.4" rx="3.0" ry="2.6"/><ellipse cx="429.6" cy="87.5" rx="3.0" ry="2.6"/><ellipse cx="437.6" cy="86.8" rx="3.0" ry="2.6"/><ellipse cx="445.7" cy="89.4" rx="3.0" ry="2.6"/><ellipse cx="453.8" cy="86.1" rx="3.0" ry="2.6"/><ellipse cx="461.8" cy="81.2" rx="3.0" ry="2.6"/><ellipse cx="469.9" cy="82.6" rx="3.0" ry="2.6"/><ellipse cx="478" cy="77.2" rx="3.0" ry="2.6"/><ellipse cx="486" cy="77.2" rx="3.0" ry="2.6"/><ellipse cx="494.1" cy="78.2" rx="3.0" ry="2.6"/><ellipse cx="502.2" cy="79.9" rx="3.0" ry="2.6"/><ellipse cx="510.2" cy="77.8" rx="3.0" ry="2.6"/><ellipse cx="518.3" cy="80.6" rx="3.0" ry="2.6"/><ellipse cx="526.4" cy="82.1" rx="3.0" ry="2.6"/><ellipse cx="534.5" cy="83.9" rx="3.0" ry="2.6"/><ellipse cx="542.5" cy="89.9" rx="3.0" ry="2.6"/><ellipse cx="550.6" cy="88.2" rx="3.0" ry="2.6"/><ellipse cx="558.7" cy="85.2" rx="3.0" ry="2.6"/><ellipse cx="566.7" cy="85.9" rx="3.0" ry="2.6"/><ellipse cx="574.8" cy="86.7" rx="3.0" ry="2.6"/><ellipse cx="582.9" cy="89.4" rx="3.0" ry="2.6"/><ellipse cx="590.9" cy="89.8" rx="3.0" ry="2.6"/><ellipse cx="599" cy="94" rx="3.0" ry="2.6"/><ellipse cx="607.1" cy="94.4" rx="3.0" ry="2.6"/><ellipse cx="615.1" cy="94.4" rx="3.0" ry="2.6"/><ellipse cx="623.2" cy="99.8" rx="3.0" ry="2.6"/><ellipse cx="631.3" cy="100.3" rx="3.0" ry="2.6"/><ellipse cx="639.4" cy="104.4" rx="3.0" ry="2.6"/><ellipse cx="647.4" cy="98.2" rx="3.0" ry="2.6"/><ellipse cx="655.5" cy="94.5" rx="3.0" ry="2.6"/><ellipse cx="663.6" cy="89.3" rx="3.0" ry="2.6"/><ellipse cx="671.6" cy="81.3" rx="3.0" ry="2.6"/><ellipse cx="679.7" cy="97.5" rx="3.0" ry="2.6"/><ellipse cx="687.8" cy="83" rx="3.0" ry="2.6"/><ellipse cx="695.8" cy="73.1" rx="3.0" ry="2.6"/><ellipse cx="703.9" cy="76.9" rx="3.0" ry="2.6"/><ellipse cx="712" cy="73" rx="3.0" ry="2.6"/><ellipse cx="720" cy="78.7" rx="3.0" ry="2.6"/><ellipse cx="728.1" cy="76.2" rx="3.0" ry="2.6"/><ellipse cx="736.2" cy="77.8" rx="3.0" ry="2.6"/><ellipse cx="744.2" cy="71.1" rx="3.0" ry="2.6"/><ellipse cx="752.3" cy="73.4" rx="3.0" ry="2.6"/><ellipse cx="760.4" cy="82.5" rx="3.0" ry="2.6"/><ellipse cx="768.5" cy="80.1" rx="3.0" ry="2.6"/><ellipse cx="776.5" cy="79.8" rx="3.0" ry="2.6"/><ellipse cx="784.6" cy="86.8" rx="3.0" ry="2.6"/><ellipse cx="792.7" cy="89.5" rx="3.0" ry="2.6"/><ellipse cx="800.7" cy="91.7" rx="3.0" ry="2.6"/></g><path d="M195.6 87.9 L203.6 79.9 L211.7 88.4 L219.8 86.3 L227.8 84 L235.9 80.3 L244 81 L252.1 85.4 L260.1 85 L268.2 86.1 L276.3 86.7 L284.3 86.4 L292.4 88.9 L300.5 90.7 L308.5 97.2 L316.6 96.4 L324.7 91.8 L332.7 93 L340.8 92.4 L348.9 86.9 L356.9 87.3 L365 83 L373.1 83.2 L381.1 82 L389.2 82.2 L397.3 80.4 L405.4 86.4 L413.4 86.5 L421.5 89.6 L429.6 94.1 L437.6 88.7 L445.7 88.3 L453.8 88.9 L461.8 85.2 L469.9 82.2 L478 77.7 L486 77.7 L494.1 78 L502.2 78.9 L510.2 78.2 L518.3 81.2 L526.4 82.6 L534.5 84.6 L542.5 91.2 L550.6 92.5 L558.7 86.8 L566.7 87.6 L574.8 88.9 L582.9 88.9 L590.9 92 L599 91.3 L607.1 91.7 L615.1 95 L623.2 92.7 L631.3 99.7 L639.4 98.1 L647.4 96.2 L655.5 93.1 L663.6 94 L671.6 87.6 L679.7 84.5 L687.8 78.5 L695.8 72.8 L703.9 77 L712 72.4 L720 75 L728.1 73.6 L736.2 72.7 L744.2 72.8 L752.3 74 L760.4 80.7 L768.5 77.3 L776.5 82.9 L784.6 82.4 L792.7 81.7 L800.7 89.6" stroke="#712a38"/><g stroke="#712a38"><ellipse cx="195.6" cy="87.9" rx="3.0" ry="2.6"/><ellipse cx="203.6" cy="79.9" rx="3.0" ry="2.6"/><ellipse cx="211.7" cy="88.4" rx="3.0" ry="2.6"/><ellipse cx="219.8" cy="86.3" rx="3.0" ry="2.6"/><ellipse cx="227.8" cy="84" rx="3.0" ry="2.6"/><ellipse cx="235.9" cy="80.3" rx="3.0" ry="2.6"/><ellipse cx="244" cy="81" rx="3.0" ry="2.6"/><ellipse cx="252.1" cy="85.4" rx="3.0" ry="2.6"/><ellipse cx="260.1" cy="85" rx="3.0" ry="2.6"/><ellipse cx="268.2" cy="86.1" rx="3.0" ry="2.6"/><ellipse cx="276.3" cy="86.7" rx="3.0" ry="2.6"/><ellipse cx="284.3" cy="86.4" rx="3.0" ry="2.6"/><ellipse cx="292.4" cy="88.9" rx="3.0" ry="2.6"/><ellipse cx="300.5" cy="90.7" rx="3.0" ry="2.6"/><ellipse cx="308.5" cy="97.2" rx="3.0" ry="2.6"/><ellipse cx="316.6" cy="96.4" rx="3.0" ry="2.6"/><ellipse cx="324.7" cy="91.8" rx="3.0" ry="2.6"/><ellipse cx="332.7" cy="93" rx="3.0" ry="2.6"/><ellipse cx="340.8" cy="92.4" rx="3.0" ry="2.6"/><ellipse cx="348.9" cy="86.9" rx="3.0" ry="2.6"/><ellipse cx="356.9" cy="87.3" rx="3.0" ry="2.6"/><ellipse cx="365" cy="83" rx="3.0" ry="2.6"/><ellipse cx="373.1" cy="83.2" rx="3.0" ry="2.6"/><ellipse cx="381.1" cy="82" rx="3.0" ry="2.6"/><ellipse cx="389.2" cy="82.2" rx="3.0" ry="2.6"/><ellipse cx="397.3" cy="80.4" rx="3.0" ry="2.6"/><ellipse cx="405.4" cy="86.4" rx="3.0" ry="2.6"/><ellipse cx="413.4" cy="86.5" rx="3.0" ry="2.6"/><ellipse cx="421.5" cy="89.6" rx="3.0" ry="2.6"/><ellipse cx="429.6" cy="94.1" rx="3.0" ry="2.6"/><ellipse cx="437.6" cy="88.7" rx="3.0" ry="2.6"/><ellipse cx="445.7" cy="88.3" rx="3.0" ry="2.6"/><ellipse cx="453.8" cy="88.9" rx="3.0" ry="2.6"/><ellipse cx="461.8" cy="85.2" rx="3.0" ry="2.6"/><ellipse cx="469.9" cy="82.2" rx="3.0" ry="2.6"/><ellipse cx="478" cy="77.7" rx="3.0" ry="2.6"/><ellipse cx="486" cy="77.7" rx="3.0" ry="2.6"/><ellipse cx="494.1" cy="78" rx="3.0" ry="2.6"/><ellipse cx="502.2" cy="78.9" rx="3.0" ry="2.6"/><ellipse cx="510.2" cy="78.2" rx="3.0" ry="2.6"/><ellipse cx="518.3" cy="81.2" rx="3.0" ry="2.6"/><ellipse cx="526.4" cy="82.6" rx="3.0" ry="2.6"/><ellipse cx="534.5" cy="84.6" rx="3.0" ry="2.6"/><ellipse cx="542.5" cy="91.2" rx="3.0" ry="2.6"/><ellipse cx="550.6" cy="92.5" rx="3.0" ry="2.6"/><ellipse cx="558.7" cy="86.8" rx="3.0" ry="2.6"/><ellipse cx="566.7" cy="87.6" rx="3.0" ry="2.6"/><ellipse cx="574.8" cy="88.9" rx="3.0" ry="2.6"/><ellipse cx="582.9" cy="88.9" rx="3.0" ry="2.6"/><ellipse cx="590.9" cy="92" rx="3.0" ry="2.6"/><ellipse cx="599" cy="91.3" rx="3.0" ry="2.6"/><ellipse cx="607.1" cy="91.7" rx="3.0" ry="2.6"/><ellipse cx="615.1" cy="95" rx="3.0" ry="2.6"/><ellipse cx="623.2" cy="92.7" rx="3.0" ry="2.6"/><ellipse cx="631.3" cy="99.7" rx="3.0" ry="2.6"/><ellipse cx="639.4" cy="98.1" rx="3.0" ry="2.6"/><ellipse cx="647.4" cy="96.2" rx="3.0" ry="2.6"/><ellipse cx="655.5" cy="93.1" rx="3.0" ry="2.6"/><ellipse cx="663.6" cy="94" rx="3.0" ry="2.6"/><ellipse cx="671.6" cy="87.6" rx="3.0" ry="2.6"/><ellipse cx="679.7" cy="84.5" rx="3.0" ry="2.6"/><ellipse cx="687.8" cy="78.5" rx="3.0" ry="2.6"/><ellipse cx="695.8" cy="72.8" rx="3.0" ry="2.6"/><ellipse cx="703.9" cy="77" rx="3.0" ry="2.6"/><ellipse cx="712" cy="72.4" rx="3.0" ry="2.6"/><ellipse cx="720" cy="75" rx="3.0" ry="2.6"/><ellipse cx="728.1" cy="73.6" rx="3.0" ry="2.6"/><ellipse cx="736.2" cy="72.7" rx="3.0" ry="2.6"/><ellipse cx="744.2" cy="72.8" rx="3.0" ry="2.6"/><ellipse cx="752.3" cy="74" rx="3.0" ry="2.6"/><ellipse cx="760.4" cy="80.7" rx="3.0" ry="2.6"/><ellipse cx="768.5" cy="77.3" rx="3.0" ry="2.6"/><ellipse cx="776.5" cy="82.9" rx="3.0" ry="2.6"/><ellipse cx="784.6" cy="82.4" rx="3.0" ry="2.6"/><ellipse cx="792.7" cy="81.7" rx="3.0" ry="2.6"/><ellipse cx="800.7" cy="89.6" rx="3.0" ry="2.6"/></g><path d="M195.6 82 L203.6 79.4 L211.7 90 L219.8 86.5 L227.8 83.7 L235.9 81.4 L244 84.5 L252.1 78.4 L260.1 79.9 L268.2 83.3 L276.3 83.3 L284.3 86.6 L292.4 85.4 L300.5 92.7 L308.5 91.9 L316.6 94.3 L324.7 92.7 L332.7 90.5 L340.8 88.4 L348.9 86.3 L356.9 86.6 L365 82.2 L373.1 83.5 L381.1 80.6 L389.2 77.1 L397.3 77.1 L405.4 83.2 L413.4 80.1 L421.5 89.1 L429.6 88.8 L437.6 90 L445.7 88.2 L453.8 89.1 L461.8 80.4 L469.9 78.2 L478 80.7 L486 81.6 L494.1 80.8 L502.2 74.1 L510.2 78.3 L518.3 80.6 L526.4 84.3 L534.5 84.9 L542.5 91.4 L550.6 89.1 L558.7 88.5 L566.7 85.6 L574.8 85.3 L582.9 87.1 L590.9 90.9 L599 92.8 L607.1 91.9 L615.1 94.6 L623.2 92.6 L631.3 96.9 L639.4 100.1 L647.4 96.9 L655.5 96.3 L663.6 91.6 L671.6 86.2 L679.7 83.8 L687.8 78.1 L695.8 74.9 L703.9 73.3 L712 76 L720 76 L728.1 71.3 L736.2 77 L744.2 73 L752.3 74.1 L760.4 77.6 L768.5 78.3 L776.5 80.7 L784.6 81.6 L792.7 84.8 L800.7 87" stroke="#2c658a"/><g stroke="#2c658a"><ellipse cx="195.6" cy="82" rx="3.0" ry="2.6"/><ellipse cx="203.6" cy="79.4" rx="3.0" ry="2.6"/><ellipse cx="211.7" cy="90" rx="3.0" ry="2.6"/><ellipse cx="219.8" cy="86.5" rx="3.0" ry="2.6"/><ellipse cx="227.8" cy="83.7" rx="3.0" ry="2.6"/><ellipse cx="235.9" cy="81.4" rx="3.0" ry="2.6"/><ellipse cx="244" cy="84.5" rx="3.0" ry="2.6"/><ellipse cx="252.1" cy="78.4" rx="3.0" ry="2.6"/><ellipse cx="260.1" cy="79.9" rx="3.0" ry="2.6"/><ellipse cx="268.2" cy="83.3" rx="3.0" ry="2.6"/><ellipse cx="276.3" cy="83.3" rx="3.0" ry="2.6"/><ellipse cx="284.3" cy="86.6" rx="3.0" ry="2.6"/><ellipse cx="292.4" cy="85.4" rx="3.0" ry="2.6"/><ellipse cx="300.5" cy="92.7" rx="3.0" ry="2.6"/><ellipse cx="308.5" cy="91.9" rx="3.0" ry="2.6"/><ellipse cx="316.6" cy="94.3" rx="3.0" ry="2.6"/><ellipse cx="324.7" cy="92.7" rx="3.0" ry="2.6"/><ellipse cx="332.7" cy="90.5" rx="3.0" ry="2.6"/><ellipse cx="340.8" cy="88.4" rx="3.0" ry="2.6"/><ellipse cx="348.9" cy="86.3" rx="3.0" ry="2.6"/><ellipse cx="356.9" cy="86.6" rx="3.0" ry="2.6"/><ellipse cx="365" cy="82.2" rx="3.0" ry="2.6"/><ellipse cx="373.1" cy="83.5" rx="3.0" ry="2.6"/><ellipse cx="381.1" cy="80.6" rx="3.0" ry="2.6"/><ellipse cx="389.2" cy="77.1" rx="3.0" ry="2.6"/><ellipse cx="397.3" cy="77.1" rx="3.0" ry="2.6"/><ellipse cx="405.4" cy="83.2" rx="3.0" ry="2.6"/><ellipse cx="413.4" cy="80.1" rx="3.0" ry="2.6"/><ellipse cx="421.5" cy="89.1" rx="3.0" ry="2.6"/><ellipse cx="429.6" cy="88.8" rx="3.0" ry="2.6"/><ellipse cx="437.6" cy="90" rx="3.0" ry="2.6"/><ellipse cx="445.7" cy="88.2" rx="3.0" ry="2.6"/><ellipse cx="453.8" cy="89.1" rx="3.0" ry="2.6"/><ellipse cx="461.8" cy="80.4" rx="3.0" ry="2.6"/><ellipse cx="469.9" cy="78.2" rx="3.0" ry="2.6"/><ellipse cx="478" cy="80.7" rx="3.0" ry="2.6"/><ellipse cx="486" cy="81.6" rx="3.0" ry="2.6"/><ellipse cx="494.1" cy="80.8" rx="3.0" ry="2.6"/><ellipse cx="502.2" cy="74.1" rx="3.0" ry="2.6"/><ellipse cx="510.2" cy="78.3" rx="3.0" ry="2.6"/><ellipse cx="518.3" cy="80.6" rx="3.0" ry="2.6"/><ellipse cx="526.4" cy="84.3" rx="3.0" ry="2.6"/><ellipse cx="534.5" cy="84.9" rx="3.0" ry="2.6"/><ellipse cx="542.5" cy="91.4" rx="3.0" ry="2.6"/><ellipse cx="550.6" cy="89.1" rx="3.0" ry="2.6"/><ellipse cx="558.7" cy="88.5" rx="3.0" ry="2.6"/><ellipse cx="566.7" cy="85.6" rx="3.0" ry="2.6"/><ellipse cx="574.8" cy="85.3" rx="3.0" ry="2.6"/><ellipse cx="582.9" cy="87.1" rx="3.0" ry="2.6"/><ellipse cx="590.9" cy="90.9" rx="3.0" ry="2.6"/><ellipse cx="599" cy="92.8" rx="3.0" ry="2.6"/><ellipse cx="607.1" cy="91.9" rx="3.0" ry="2.6"/><ellipse cx="615.1" cy="94.6" rx="3.0" ry="2.6"/><ellipse cx="623.2" cy="92.6" rx="3.0" ry="2.6"/><ellipse cx="631.3" cy="96.9" rx="3.0" ry="2.6"/><ellipse cx="639.4" cy="100.1" rx="3.0" ry="2.6"/><ellipse cx="647.4" cy="96.9" rx="3.0" ry="2.6"/><ellipse cx="655.5" cy="96.3" rx="3.0" ry="2.6"/><ellipse cx="663.6" cy="91.6" rx="3.0" ry="2.6"/><ellipse cx="671.6" cy="86.2" rx="3.0" ry="2.6"/><ellipse cx="679.7" cy="83.8" rx="3.0" ry="2.6"/><ellipse cx="687.8" cy="78.1" rx="3.0" ry="2.6"/><ellipse cx="695.8" cy="74.9" rx="3.0" ry="2.6"/><ellipse cx="703.9" cy="73.3" rx="3.0" ry="2.6"/><ellipse cx="712" cy="76" rx="3.0" ry="2.6"/><ellipse cx="720" cy="76" rx="3.0" ry="2.6"/><ellipse cx="728.1" cy="71.3" rx="3.0" ry="2.6"/><ellipse cx="736.2" cy="77" rx="3.0" ry="2.6"/><ellipse cx="744.2" cy="73" rx="3.0" ry="2.6"/><ellipse cx="752.3" cy="74.1" rx="3.0" ry="2.6"/><ellipse cx="760.4" cy="77.6" rx="3.0" ry="2.6"/><ellipse cx="768.5" cy="78.3" rx="3.0" ry="2.6"/><ellipse cx="776.5" cy="80.7" rx="3.0" ry="2.6"/><ellipse cx="784.6" cy="81.6" rx="3.0" ry="2.6"/><ellipse cx="792.7" cy="84.8" rx="3.0" ry="2.6"/><ellipse cx="800.7" cy="87" rx="3.0" ry="2.6"/></g><path d="M195.6 87.5 L203.6 80.7 L211.7 91.8 L219.8 90.5 L227.8 84.9 L235.9 85.5 L244 82.8 L252.1 81.8 L260.1 84 L268.2 83.6 L276.3 85.4 L284.3 89.9 L292.4 89.7 L300.5 91.5 L308.5 95.7 L316.6 94.8 L324.7 90.9 L332.7 95.1 L340.8 91.2 L348.9 83.8 L356.9 87.6 L365 84.9 L373.1 85 L381.1 79.3 L389.2 80.9 L397.3 78.9 L405.4 84.8 L413.4 85.2 L421.5 90.4 L429.6 95.4 L437.6 86.9 L445.7 87.5 L453.8 90.4 L461.8 83.9 L469.9 82.6 L478 78.5 L486 78.9 L494.1 81.8 L502.2 78.3 L510.2 75.5 L518.3 83 L526.4 87 L534.5 88.8 L542.5 92.9 L550.6 89.7 L558.7 83.2 L566.7 85.8 L574.8 86.7 L582.9 85.6 L590.9 92.8 L599 93.6 L607.1 92.4 L615.1 93.7 L623.2 99.3 L631.3 102.2 L639.4 100.5 L647.4 96.7 L655.5 98.9 L663.6 91.3 L671.6 87.9 L679.7 84.7 L687.8 80.7 L695.8 77.5 L703.9 79.1 L712 73.6 L720 74.4 L728.1 77.1 L736.2 72.7 L744.2 74.7 L752.3 75.6 L760.4 77.6 L768.5 77.3 L776.5 82.3 L784.6 83.8 L792.7 85.8 L800.7 93" stroke="#a66346"/><g stroke="#a66346"><ellipse cx="195.6" cy="87.5" rx="3.0" ry="2.6"/><ellipse cx="203.6" cy="80.7" rx="3.0" ry="2.6"/><ellipse cx="211.7" cy="91.8" rx="3.0" ry="2.6"/><ellipse cx="219.8" cy="90.5" rx="3.0" ry="2.6"/><ellipse cx="227.8" cy="84.9" rx="3.0" ry="2.6"/><ellipse cx="235.9" cy="85.5" rx="3.0" ry="2.6"/><ellipse cx="244" cy="82.8" rx="3.0" ry="2.6"/><ellipse cx="252.1" cy="81.8" rx="3.0" ry="2.6"/><ellipse cx="260.1" cy="84" rx="3.0" ry="2.6"/><ellipse cx="268.2" cy="83.6" rx="3.0" ry="2.6"/><ellipse cx="276.3" cy="85.4" rx="3.0" ry="2.6"/><ellipse cx="284.3" cy="89.9" rx="3.0" ry="2.6"/><ellipse cx="292.4" cy="89.7" rx="3.0" ry="2.6"/><ellipse cx="300.5" cy="91.5" rx="3.0" ry="2.6"/><ellipse cx="308.5" cy="95.7" rx="3.0" ry="2.6"/><ellipse cx="316.6" cy="94.8" rx="3.0" ry="2.6"/><ellipse cx="324.7" cy="90.9" rx="3.0" ry="2.6"/><ellipse cx="332.7" cy="95.1" rx="3.0" ry="2.6"/><ellipse cx="340.8" cy="91.2" rx="3.0" ry="2.6"/><ellipse cx="348.9" cy="83.8" rx="3.0" ry="2.6"/><ellipse cx="356.9" cy="87.6" rx="3.0" ry="2.6"/><ellipse cx="365" cy="84.9" rx="3.0" ry="2.6"/><ellipse cx="373.1" cy="85" rx="3.0" ry="2.6"/><ellipse cx="381.1" cy="79.3" rx="3.0" ry="2.6"/><ellipse cx="389.2" cy="80.9" rx="3.0" ry="2.6"/><ellipse cx="397.3" cy="78.9" rx="3.0" ry="2.6"/><ellipse cx="405.4" cy="84.8" rx="3.0" ry="2.6"/><ellipse cx="413.4" cy="85.2" rx="3.0" ry="2.6"/><ellipse cx="421.5" cy="90.4" rx="3.0" ry="2.6"/><ellipse cx="429.6" cy="95.4" rx="3.0" ry="2.6"/><ellipse cx="437.6" cy="86.9" rx="3.0" ry="2.6"/><ellipse cx="445.7" cy="87.5" rx="3.0" ry="2.6"/><ellipse cx="453.8" cy="90.4" rx="3.0" ry="2.6"/><ellipse cx="461.8" cy="83.9" rx="3.0" ry="2.6"/><ellipse cx="469.9" cy="82.6" rx="3.0" ry="2.6"/><ellipse cx="478" cy="78.5" rx="3.0" ry="2.6"/><ellipse cx="486" cy="78.9" rx="3.0" ry="2.6"/><ellipse cx="494.1" cy="81.8" rx="3.0" ry="2.6"/><ellipse cx="502.2" cy="78.3" rx="3.0" ry="2.6"/><ellipse cx="510.2" cy="75.5" rx="3.0" ry="2.6"/><ellipse cx="518.3" cy="83" rx="3.0" ry="2.6"/><ellipse cx="526.4" cy="87" rx="3.0" ry="2.6"/><ellipse cx="534.5" cy="88.8" rx="3.0" ry="2.6"/><ellipse cx="542.5" cy="92.9" rx="3.0" ry="2.6"/><ellipse cx="550.6" cy="89.7" rx="3.0" ry="2.6"/><ellipse cx="558.7" cy="83.2" rx="3.0" ry="2.6"/><ellipse cx="566.7" cy="85.8" rx="3.0" ry="2.6"/><ellipse cx="574.8" cy="86.7" rx="3.0" ry="2.6"/><ellipse cx="582.9" cy="85.6" rx="3.0" ry="2.6"/><ellipse cx="590.9" cy="92.8" rx="3.0" ry="2.6"/><ellipse cx="599" cy="93.6" rx="3.0" ry="2.6"/><ellipse cx="607.1" cy="92.4" rx="3.0" ry="2.6"/><ellipse cx="615.1" cy="93.7" rx="3.0" ry="2.6"/><ellipse cx="623.2" cy="99.3" rx="3.0" ry="2.6"/><ellipse cx="631.3" cy="102.2" rx="3.0" ry="2.6"/><ellipse cx="639.4" cy="100.5" rx="3.0" ry="2.6"/><ellipse cx="647.4" cy="96.7" rx="3.0" ry="2.6"/><ellipse cx="655.5" cy="98.9" rx="3.0" ry="2.6"/><ellipse cx="663.6" cy="91.3" rx="3.0" ry="2.6"/><ellipse cx="671.6" cy="87.9" rx="3.0" ry="2.6"/><ellipse cx="679.7" cy="84.7" rx="3.0" ry="2.6"/><ellipse cx="687.8" cy="80.7" rx="3.0" ry="2.6"/><ellipse cx="695.8" cy="77.5" rx="3.0" ry="2.6"/><ellipse cx="703.9" cy="79.1" rx="3.0" ry="2.6"/><ellipse cx="712" cy="73.6" rx="3.0" ry="2.6"/><ellipse cx="720" cy="74.4" rx="3.0" ry="2.6"/><ellipse cx="728.1" cy="77.1" rx="3.0" ry="2.6"/><ellipse cx="736.2" cy="72.7" rx="3.0" ry="2.6"/><ellipse cx="744.2" cy="74.7" rx="3.0" ry="2.6"/><ellipse cx="752.3" cy="75.6" rx="3.0" ry="2.6"/><ellipse cx="760.4" cy="77.6" rx="3.0" ry="2.6"/><ellipse cx="768.5" cy="77.3" rx="3.0" ry="2.6"/><ellipse cx="776.5" cy="82.3" rx="3.0" ry="2.6"/><ellipse cx="784.6" cy="83.8" rx="3.0" ry="2.6"/><ellipse cx="792.7" cy="85.8" rx="3.0" ry="2.6"/><ellipse cx="800.7" cy="93" rx="3.0" ry="2.6"/></g><path d="M195.6 85.8 L203.6 78.7 L211.7 90.7 L219.8 90.8 L227.8 84.9 L235.9 82.3 L244 84 L252.1 80.2 L260.1 84 L268.2 84.6 L276.3 82.9 L284.3 89 L292.4 89.8 L300.5 91.3 L308.5 91.5 L316.6 93.7 L324.7 90.6 L332.7 93.4 L340.8 90.6 L348.9 82.8 L356.9 86.6 L365 80.1 L373.1 84.7 L381.1 81.3 L389.2 79.9 L397.3 77.3 L405.4 84.7 L413.4 87.7 L421.5 87.9 L429.6 88.8 L437.6 87.3 L445.7 84.3 L453.8 85 L461.8 83.6 L469.9 79.1 L478 77.4 L486 74.9 L494.1 80 L502.2 77.4 L510.2 81.1 L518.3 78.8 L526.4 84.4 L534.5 82.8 L542.5 85.4 L550.6 89.1 L558.7 86 L566.7 86.5 L574.8 87.7 L582.9 89.4 L590.9 89.1 L599 90.9 L607.1 92.1 L615.1 93.9 L623.2 94 L631.3 97.5 L639.4 100.1 L647.4 94.5 L655.5 95.2 L663.6 92.1 L671.6 82.4 L679.7 83.5 L687.8 81.2 L695.8 73.8 L703.9 76.4 L712 77.8 L720 72.7 L728.1 74.3 L736.2 71.3 L744.2 71.5 L752.3 74.8 L760.4 81.1 L768.5 77.2 L776.5 80.2 L784.6 82.9 L792.7 84.2 L800.7 88.4" stroke="#cfb169"/><g stroke="#cfb169"><ellipse cx="195.6" cy="85.8" rx="3.0" ry="2.6"/><ellipse cx="203.6" cy="78.7" rx="3.0" ry="2.6"/><ellipse cx="211.7" cy="90.7" rx="3.0" ry="2.6"/><ellipse cx="219.8" cy="90.8" rx="3.0" ry="2.6"/><ellipse cx="227.8" cy="84.9" rx="3.0" ry="2.6"/><ellipse cx="235.9" cy="82.3" rx="3.0" ry="2.6"/><ellipse cx="244" cy="84" rx="3.0" ry="2.6"/><ellipse cx="252.1" cy="80.2" rx="3.0" ry="2.6"/><ellipse cx="260.1" cy="84" rx="3.0" ry="2.6"/><ellipse cx="268.2" cy="84.6" rx="3.0" ry="2.6"/><ellipse cx="276.3" cy="82.9" rx="3.0" ry="2.6"/><ellipse cx="284.3" cy="89" rx="3.0" ry="2.6"/><ellipse cx="292.4" cy="89.8" rx="3.0" ry="2.6"/><ellipse cx="300.5" cy="91.3" rx="3.0" ry="2.6"/><ellipse cx="308.5" cy="91.5" rx="3.0" ry="2.6"/><ellipse cx="316.6" cy="93.7" rx="3.0" ry="2.6"/><ellipse cx="324.7" cy="90.6" rx="3.0" ry="2.6"/><ellipse cx="332.7" cy="93.4" rx="3.0" ry="2.6"/><ellipse cx="340.8" cy="90.6" rx="3.0" ry="2.6"/><ellipse cx="348.9" cy="82.8" rx="3.0" ry="2.6"/><ellipse cx="356.9" cy="86.6" rx="3.0" ry="2.6"/><ellipse cx="365" cy="80.1" rx="3.0" ry="2.6"/><ellipse cx="373.1" cy="84.7" rx="3.0" ry="2.6"/><ellipse cx="381.1" cy="81.3" rx="3.0" ry="2.6"/><ellipse cx="389.2" cy="79.9" rx="3.0" ry="2.6"/><ellipse cx="397.3" cy="77.3" rx="3.0" ry="2.6"/><ellipse cx="405.4" cy="84.7" rx="3.0" ry="2.6"/><ellipse cx="413.4" cy="87.7" rx="3.0" ry="2.6"/><ellipse cx="421.5" cy="87.9" rx="3.0" ry="2.6"/><ellipse cx="429.6" cy="88.8" rx="3.0" ry="2.6"/><ellipse cx="437.6" cy="87.3" rx="3.0" ry="2.6"/><ellipse cx="445.7" cy="84.3" rx="3.0" ry="2.6"/><ellipse cx="453.8" cy="85" rx="3.0" ry="2.6"/><ellipse cx="461.8" cy="83.6" rx="3.0" ry="2.6"/><ellipse cx="469.9" cy="79.1" rx="3.0" ry="2.6"/><ellipse cx="478" cy="77.4" rx="3.0" ry="2.6"/><ellipse cx="486" cy="74.9" rx="3.0" ry="2.6"/><ellipse cx="494.1" cy="80" rx="3.0" ry="2.6"/><ellipse cx="502.2" cy="77.4" rx="3.0" ry="2.6"/><ellipse cx="510.2" cy="81.1" rx="3.0" ry="2.6"/><ellipse cx="518.3" cy="78.8" rx="3.0" ry="2.6"/><ellipse cx="526.4" cy="84.4" rx="3.0" ry="2.6"/><ellipse cx="534.5" cy="82.8" rx="3.0" ry="2.6"/><ellipse cx="542.5" cy="85.4" rx="3.0" ry="2.6"/><ellipse cx="550.6" cy="89.1" rx="3.0" ry="2.6"/><ellipse cx="558.7" cy="86" rx="3.0" ry="2.6"/><ellipse cx="566.7" cy="86.5" rx="3.0" ry="2.6"/><ellipse cx="574.8" cy="87.7" rx="3.0" ry="2.6"/><ellipse cx="582.9" cy="89.4" rx="3.0" ry="2.6"/><ellipse cx="590.9" cy="89.1" rx="3.0" ry="2.6"/><ellipse cx="599" cy="90.9" rx="3.0" ry="2.6"/><ellipse cx="607.1" cy="92.1" rx="3.0" ry="2.6"/><ellipse cx="615.1" cy="93.9" rx="3.0" ry="2.6"/><ellipse cx="623.2" cy="94" rx="3.0" ry="2.6"/><ellipse cx="631.3" cy="97.5" rx="3.0" ry="2.6"/><ellipse cx="639.4" cy="100.1" rx="3.0" ry="2.6"/><ellipse cx="647.4" cy="94.5" rx="3.0" ry="2.6"/><ellipse cx="655.5" cy="95.2" rx="3.0" ry="2.6"/><ellipse cx="663.6" cy="92.1" rx="3.0" ry="2.6"/><ellipse cx="671.6" cy="82.4" rx="3.0" ry="2.6"/><ellipse cx="679.7" cy="83.5" rx="3.0" ry="2.6"/><ellipse cx="687.8" cy="81.2" rx="3.0" ry="2.6"/><ellipse cx="695.8" cy="73.8" rx="3.0" ry="2.6"/><ellipse cx="703.9" cy="76.4" rx="3.0" ry="2.6"/><ellipse cx="712" cy="77.8" rx="3.0" ry="2.6"/><ellipse cx="720" cy="72.7" rx="3.0" ry="2.6"/><ellipse cx="728.1" cy="74.3" rx="3.0" ry="2.6"/><ellipse cx="736.2" cy="71.3" rx="3.0" ry="2.6"/><ellipse cx="744.2" cy="71.5" rx="3.0" ry="2.6"/><ellipse cx="752.3" cy="74.8" rx="3.0" ry="2.6"/><ellipse cx="760.4" cy="81.1" rx="3.0" ry="2.6"/><ellipse cx="768.5" cy="77.2" rx="3.0" ry="2.6"/><ellipse cx="776.5" cy="80.2" rx="3.0" ry="2.6"/><ellipse cx="784.6" cy="82.9" rx="3.0" ry="2.6"/><ellipse cx="792.7" cy="84.2" rx="3.0" ry="2.6"/><ellipse cx="800.7" cy="88.4" rx="3.0" ry="2.6"/></g><path d="M195.6 84.7 L203.6 79 L211.7 91.6 L219.8 87.4 L227.8 83 L235.9 79.5 L244 83.1 L252.1 81.8 L260.1 79.5 L268.2 83.5 L276.3 81.8 L284.3 81.7 L292.4 87.7 L300.5 88.1 L308.5 94.2 L316.6 92.3 L324.7 90.8 L332.7 91.2 L340.8 88.3 L348.9 81.9 L356.9 86.1 L365 84.6 L373.1 81.8 L381.1 82.9 L389.2 78.7 L397.3 77.7 L405.4 82.1 L413.4 82.2 L421.5 91.8 L429.6 88.3 L437.6 91.3 L445.7 89 L453.8 86.1 L461.8 84.5 L469.9 78.7 L478 77.4 L486 78.7 L494.1 75.7 L502.2 72.7 L510.2 76.8 L518.3 79.2 L526.4 80.5 L534.5 83.6 L542.5 91.3 L550.6 84.8 L558.7 81.2 L566.7 88.7 L574.8 85.5 L582.9 86.7 L590.9 87.9 L599 89 L607.1 92.3 L615.1 95.2 L623.2 95.2 L631.3 95.8 L639.4 101.6 L647.4 97.5 L655.5 94.4 L663.6 92.9 L671.6 85.5 L679.7 84.8 L687.8 77.7 L695.8 77 L703.9 78.4 L712 74.8 L720 75.6 L728.1 75.9 L736.2 72.6 L744.2 69.8 L752.3 71.5 L760.4 73.8 L768.5 80.3 L776.5 80.6 L784.6 85.5 L792.7 80.6 L800.7 89.6" stroke="#67406f"/><g stroke="#67406f"><ellipse cx="195.6" cy="84.7" rx="3.0" ry="2.6"/><ellipse cx="203.6" cy="79" rx="3.0" ry="2.6"/><ellipse cx="211.7" cy="91.6" rx="3.0" ry="2.6"/><ellipse cx="219.8" cy="87.4" rx="3.0" ry="2.6"/><ellipse cx="227.8" cy="83" rx="3.0" ry="2.6"/><ellipse cx="235.9" cy="79.5" rx="3.0" ry="2.6"/><ellipse cx="244" cy="83.1" rx="3.0" ry="2.6"/><ellipse cx="252.1" cy="81.8" rx="3.0" ry="2.6"/><ellipse cx="260.1" cy="79.5" rx="3.0" ry="2.6"/><ellipse cx="268.2" cy="83.5" rx="3.0" ry="2.6"/><ellipse cx="276.3" cy="81.8" rx="3.0" ry="2.6"/><ellipse cx="284.3" cy="81.7" rx="3.0" ry="2.6"/><ellipse cx="292.4" cy="87.7" rx="3.0" ry="2.6"/><ellipse cx="300.5" cy="88.1" rx="3.0" ry="2.6"/><ellipse cx="308.5" cy="94.2" rx="3.0" ry="2.6"/><ellipse cx="316.6" cy="92.3" rx="3.0" ry="2.6"/><ellipse cx="324.7" cy="90.8" rx="3.0" ry="2.6"/><ellipse cx="332.7" cy="91.2" rx="3.0" ry="2.6"/><ellipse cx="340.8" cy="88.3" rx="3.0" ry="2.6"/><ellipse cx="348.9" cy="81.9" rx="3.0" ry="2.6"/><ellipse cx="356.9" cy="86.1" rx="3.0" ry="2.6"/><ellipse cx="365" cy="84.6" rx="3.0" ry="2.6"/><ellipse cx="373.1" cy="81.8" rx="3.0" ry="2.6"/><ellipse cx="381.1" cy="82.9" rx="3.0" ry="2.6"/><ellipse cx="389.2" cy="78.7" rx="3.0" ry="2.6"/><ellipse cx="397.3" cy="77.7" rx="3.0" ry="2.6"/><ellipse cx="405.4" cy="82.1" rx="3.0" ry="2.6"/><ellipse cx="413.4" cy="82.2" rx="3.0" ry="2.6"/><ellipse cx="421.5" cy="91.8" rx="3.0" ry="2.6"/><ellipse cx="429.6" cy="88.3" rx="3.0" ry="2.6"/><ellipse cx="437.6" cy="91.3" rx="3.0" ry="2.6"/><ellipse cx="445.7" cy="89" rx="3.0" ry="2.6"/><ellipse cx="453.8" cy="86.1" rx="3.0" ry="2.6"/><ellipse cx="461.8" cy="84.5" rx="3.0" ry="2.6"/><ellipse cx="469.9" cy="78.7" rx="3.0" ry="2.6"/><ellipse cx="478" cy="77.4" rx="3.0" ry="2.6"/><ellipse cx="486" cy="78.7" rx="3.0" ry="2.6"/><ellipse cx="494.1" cy="75.7" rx="3.0" ry="2.6"/><ellipse cx="502.2" cy="72.7" rx="3.0" ry="2.6"/><ellipse cx="510.2" cy="76.8" rx="3.0" ry="2.6"/><ellipse cx="518.3" cy="79.2" rx="3.0" ry="2.6"/><ellipse cx="526.4" cy="80.5" rx="3.0" ry="2.6"/><ellipse cx="534.5" cy="83.6" rx="3.0" ry="2.6"/><ellipse cx="542.5" cy="91.3" rx="3.0" ry="2.6"/><ellipse cx="550.6" cy="84.8" rx="3.0" ry="2.6"/><ellipse cx="558.7" cy="81.2" rx="3.0" ry="2.6"/><ellipse cx="566.7" cy="88.7" rx="3.0" ry="2.6"/><ellipse cx="574.8" cy="85.5" rx="3.0" ry="2.6"/><ellipse cx="582.9" cy="86.7" rx="3.0" ry="2.6"/><ellipse cx="590.9" cy="87.9" rx="3.0" ry="2.6"/><ellipse cx="599" cy="89" rx="3.0" ry="2.6"/><ellipse cx="607.1" cy="92.3" rx="3.0" ry="2.6"/><ellipse cx="615.1" cy="95.2" rx="3.0" ry="2.6"/><ellipse cx="623.2" cy="95.2" rx="3.0" ry="2.6"/><ellipse cx="631.3" cy="95.8" rx="3.0" ry="2.6"/><ellipse cx="639.4" cy="101.6" rx="3.0" ry="2.6"/><ellipse cx="647.4" cy="97.5" rx="3.0" ry="2.6"/><ellipse cx="655.5" cy="94.4" rx="3.0" ry="2.6"/><ellipse cx="663.6" cy="92.9" rx="3.0" ry="2.6"/><ellipse cx="671.6" cy="85.5" rx="3.0" ry="2.6"/><ellipse cx="679.7" cy="84.8" rx="3.0" ry="2.6"/><ellipse cx="687.8" cy="77.7" rx="3.0" ry="2.6"/><ellipse cx="695.8" cy="77" rx="3.0" ry="2.6"/><ellipse cx="703.9" cy="78.4" rx="3.0" ry="2.6"/><ellipse cx="712" cy="74.8" rx="3.0" ry="2.6"/><ellipse cx="720" cy="75.6" rx="3.0" ry="2.6"/><ellipse cx="728.1" cy="75.9" rx="3.0" ry="2.6"/><ellipse cx="736.2" cy="72.6" rx="3.0" ry="2.6"/><ellipse cx="744.2" cy="69.8" rx="3.0" ry="2.6"/><ellipse cx="752.3" cy="71.5" rx="3.0" ry="2.6"/><ellipse cx="760.4" cy="73.8" rx="3.0" ry="2.6"/><ellipse cx="768.5" cy="80.3" rx="3.0" ry="2.6"/><ellipse cx="776.5" cy="80.6" rx="3.0" ry="2.6"/><ellipse cx="784.6" cy="85.5" rx="3.0" ry="2.6"/><ellipse cx="792.7" cy="80.6" rx="3.0" ry="2.6"/><ellipse cx="800.7" cy="89.6" rx="3.0" ry="2.6"/></g><path d="M195.6 83.4 L203.6 82.3 L211.7 87.4 L219.8 87.1 L227.8 88.8 L235.9 82.3 L244 80.4 L252.1 85.9 L260.1 81.7 L268.2 83 L276.3 83 L284.3 84.9 L292.4 85.7 L300.5 91.7 L308.5 91.5 L316.6 94.2 L324.7 89.7 L332.7 93.7 L340.8 91.5 L348.9 82.7 L356.9 84.3 L365 84.3 L373.1 85.8 L381.1 83 L389.2 79.9 L397.3 77.5 L405.4 81.2 L413.4 82.9 L421.5 89.3 L429.6 87.7 L437.6 89.5 L445.7 89.3 L453.8 83.7 L461.8 84.1 L469.9 81.7 L478 79.4 L486 79 L494.1 76.1 L502.2 75.9 L510.2 79.9 L518.3 79.7 L526.4 83.3 L534.5 86.8 L542.5 87.6 L550.6 89.8 L558.7 86.2 L566.7 83.9 L574.8 83.3 L582.9 89.6 L590.9 89.6 L599 92.8 L607.1 88.5 L615.1 94.6 L623.2 93.5 L631.3 99.9 L639.4 98.2 L647.4 92.2 L655.5 98.7 L663.6 90.6 L671.6 84.5 L679.7 84.7 L687.8 80.6 L695.8 72.3 L703.9 77 L712 78 L720 74.3 L728.1 78.7 L736.2 70.8 L744.2 73.1 L752.3 74.2 L760.4 75.3 L768.5 79 L776.5 83.2 L784.6 85.9 L792.7 82.5 L800.7 87.1" stroke="#829d5f"/><g stroke="#829d5f"><ellipse cx="195.6" cy="83.4" rx="3.0" ry="2.6"/><ellipse cx="203.6" cy="82.3" rx="3.0" ry="2.6"/><ellipse cx="211.7" cy="87.4" rx="3.0" ry="2.6"/><ellipse cx="219.8" cy="87.1" rx="3.0" ry="2.6"/><ellipse cx="227.8" cy="88.8" rx="3.0" ry="2.6"/><ellipse cx="235.9" cy="82.3" rx="3.0" ry="2.6"/><ellipse cx="244" cy="80.4" rx="3.0" ry="2.6"/><ellipse cx="252.1" cy="85.9" rx="3.0" ry="2.6"/><ellipse cx="260.1" cy="81.7" rx="3.0" ry="2.6"/><ellipse cx="268.2" cy="83" rx="3.0" ry="2.6"/><ellipse cx="276.3" cy="83" rx="3.0" ry="2.6"/><ellipse cx="284.3" cy="84.9" rx="3.0" ry="2.6"/><ellipse cx="292.4" cy="85.7" rx="3.0" ry="2.6"/><ellipse cx="300.5" cy="91.7" rx="3.0" ry="2.6"/><ellipse cx="308.5" cy="91.5" rx="3.0" ry="2.6"/><ellipse cx="316.6" cy="94.2" rx="3.0" ry="2.6"/><ellipse cx="324.7" cy="89.7" rx="3.0" ry="2.6"/><ellipse cx="332.7" cy="93.7" rx="3.0" ry="2.6"/><ellipse cx="340.8" cy="91.5" rx="3.0" ry="2.6"/><ellipse cx="348.9" cy="82.7" rx="3.0" ry="2.6"/><ellipse cx="356.9" cy="84.3" rx="3.0" ry="2.6"/><ellipse cx="365" cy="84.3" rx="3.0" ry="2.6"/><ellipse cx="373.1" cy="85.8" rx="3.0" ry="2.6"/><ellipse cx="381.1" cy="83" rx="3.0" ry="2.6"/><ellipse cx="389.2" cy="79.9" rx="3.0" ry="2.6"/><ellipse cx="397.3" cy="77.5" rx="3.0" ry="2.6"/><ellipse cx="405.4" cy="81.2" rx="3.0" ry="2.6"/><ellipse cx="413.4" cy="82.9" rx="3.0" ry="2.6"/><ellipse cx="421.5" cy="89.3" rx="3.0" ry="2.6"/><ellipse cx="429.6" cy="87.7" rx="3.0" ry="2.6"/><ellipse cx="437.6" cy="89.5" rx="3.0" ry="2.6"/><ellipse cx="445.7" cy="89.3" rx="3.0" ry="2.6"/><ellipse cx="453.8" cy="83.7" rx="3.0" ry="2.6"/><ellipse cx="461.8" cy="84.1" rx="3.0" ry="2.6"/><ellipse cx="469.9" cy="81.7" rx="3.0" ry="2.6"/><ellipse cx="478" cy="79.4" rx="3.0" ry="2.6"/><ellipse cx="486" cy="79" rx="3.0" ry="2.6"/><ellipse cx="494.1" cy="76.1" rx="3.0" ry="2.6"/><ellipse cx="502.2" cy="75.9" rx="3.0" ry="2.6"/><ellipse cx="510.2" cy="79.9" rx="3.0" ry="2.6"/><ellipse cx="518.3" cy="79.7" rx="3.0" ry="2.6"/><ellipse cx="526.4" cy="83.3" rx="3.0" ry="2.6"/><ellipse cx="534.5" cy="86.8" rx="3.0" ry="2.6"/><ellipse cx="542.5" cy="87.6" rx="3.0" ry="2.6"/><ellipse cx="550.6" cy="89.8" rx="3.0" ry="2.6"/><ellipse cx="558.7" cy="86.2" rx="3.0" ry="2.6"/><ellipse cx="566.7" cy="83.9" rx="3.0" ry="2.6"/><ellipse cx="574.8" cy="83.3" rx="3.0" ry="2.6"/><ellipse cx="582.9" cy="89.6" rx="3.0" ry="2.6"/><ellipse cx="590.9" cy="89.6" rx="3.0" ry="2.6"/><ellipse cx="599" cy="92.8" rx="3.0" ry="2.6"/><ellipse cx="607.1" cy="88.5" rx="3.0" ry="2.6"/><ellipse cx="615.1" cy="94.6" rx="3.0" ry="2.6"/><ellipse cx="623.2" cy="93.5" rx="3.0" ry="2.6"/><ellipse cx="631.3" cy="99.9" rx="3.0" ry="2.6"/><ellipse cx="639.4" cy="98.2" rx="3.0" ry="2.6"/><ellipse cx="647.4" cy="92.2" rx="3.0" ry="2.6"/><ellipse cx="655.5" cy="98.7" rx="3.0" ry="2.6"/><ellipse cx="663.6" cy="90.6" rx="3.0" ry="2.6"/><ellipse cx="671.6" cy="84.5" rx="3.0" ry="2.6"/><ellipse cx="679.7" cy="84.7" rx="3.0" ry="2.6"/><ellipse cx="687.8" cy="80.6" rx="3.0" ry="2.6"/><ellipse cx="695.8" cy="72.3" rx="3.0" ry="2.6"/><ellipse cx="703.9" cy="77" rx="3.0" ry="2.6"/><ellipse cx="712" cy="78" rx="3.0" ry="2.6"/><ellipse cx="720" cy="74.3" rx="3.0" ry="2.6"/><ellipse cx="728.1" cy="78.7" rx="3.0" ry="2.6"/><ellipse cx="736.2" cy="70.8" rx="3.0" ry="2.6"/><ellipse cx="744.2" cy="73.1" rx="3.0" ry="2.6"/><ellipse cx="752.3" cy="74.2" rx="3.0" ry="2.6"/><ellipse cx="760.4" cy="75.3" rx="3.0" ry="2.6"/><ellipse cx="768.5" cy="79" rx="3.0" ry="2.6"/><ellipse cx="776.5" cy="83.2" rx="3.0" ry="2.6"/><ellipse cx="784.6" cy="85.9" rx="3.0" ry="2.6"/><ellipse cx="792.7" cy="82.5" rx="3.0" ry="2.6"/><ellipse cx="800.7" cy="87.1" rx="3.0" ry="2.6"/></g><path d="M195.6 83.3 L203.6 79.1 L211.7 87.7 L219.8 91.5 L227.8 86.3 L235.9 81.7 L244 82 L252.1 80.9 L260.1 87.8 L268.2 83.7 L276.3 83.6 L284.3 82.7 L292.4 91 L300.5 92.6 L308.5 93.9 L316.6 92.2 L324.7 92.8 L332.7 90.3 L340.8 93.6 L348.9 86.4 L356.9 87 L365 84.3 L373.1 85.5 L381.1 85.3 L389.2 78.7 L397.3 79.5 L405.4 83.9 L413.4 84.2 L421.5 87.8 L429.6 93.2 L437.6 89.5 L445.7 87.7 L453.8 85.1 L461.8 85.6 L469.9 85.5 L478 76.3 L486 78.4 L494.1 78 L502.2 77.9 L510.2 77.5 L518.3 82.1 L526.4 86.5 L534.5 86.9 L542.5 91.1 L550.6 91.1 L558.7 88.6 L566.7 84.8 L574.8 89.4 L582.9 87.4 L590.9 93.3 L599 90.9 L607.1 90.1 L615.1 93.8 L623.2 98.1 L631.3 99.1 L639.4 100.2 L647.4 100.2 L655.5 96.8 L663.6 90 L671.6 87.1 L679.7 85 L687.8 78.4 L695.8 75.2 L703.9 75.9 L712 74 L720 77.4 L728.1 75.8 L736.2 74.5 L744.2 73.2 L752.3 75.6 L760.4 82.2 L768.5 80.6 L776.5 81 L784.6 85.1 L792.7 85.7 L800.7 88.2" stroke="#77afc7"/><g stroke="#77afc7"><ellipse cx="195.6" cy="83.3" rx="3.0" ry="2.6"/><ellipse cx="203.6" cy="79.1" rx="3.0" ry="2.6"/><ellipse cx="211.7" cy="87.7" rx="3.0" ry="2.6"/><ellipse cx="219.8" cy="91.5" rx="3.0" ry="2.6"/><ellipse cx="227.8" cy="86.3" rx="3.0" ry="2.6"/><ellipse cx="235.9" cy="81.7" rx="3.0" ry="2.6"/><ellipse cx="244" cy="82" rx="3.0" ry="2.6"/><ellipse cx="252.1" cy="80.9" rx="3.0" ry="2.6"/><ellipse cx="260.1" cy="87.8" rx="3.0" ry="2.6"/><ellipse cx="268.2" cy="83.7" rx="3.0" ry="2.6"/><ellipse cx="276.3" cy="83.6" rx="3.0" ry="2.6"/><ellipse cx="284.3" cy="82.7" rx="3.0" ry="2.6"/><ellipse cx="292.4" cy="91" rx="3.0" ry="2.6"/><ellipse cx="300.5" cy="92.6" rx="3.0" ry="2.6"/><ellipse cx="308.5" cy="93.9" rx="3.0" ry="2.6"/><ellipse cx="316.6" cy="92.2" rx="3.0" ry="2.6"/><ellipse cx="324.7" cy="92.8" rx="3.0" ry="2.6"/><ellipse cx="332.7" cy="90.3" rx="3.0" ry="2.6"/><ellipse cx="340.8" cy="93.6" rx="3.0" ry="2.6"/><ellipse cx="348.9" cy="86.4" rx="3.0" ry="2.6"/><ellipse cx="356.9" cy="87" rx="3.0" ry="2.6"/><ellipse cx="365" cy="84.3" rx="3.0" ry="2.6"/><ellipse cx="373.1" cy="85.5" rx="3.0" ry="2.6"/><ellipse cx="381.1" cy="85.3" rx="3.0" ry="2.6"/><ellipse cx="389.2" cy="78.7" rx="3.0" ry="2.6"/><ellipse cx="397.3" cy="79.5" rx="3.0" ry="2.6"/><ellipse cx="405.4" cy="83.9" rx="3.0" ry="2.6"/><ellipse cx="413.4" cy="84.2" rx="3.0" ry="2.6"/><ellipse cx="421.5" cy="87.8" rx="3.0" ry="2.6"/><ellipse cx="429.6" cy="93.2" rx="3.0" ry="2.6"/><ellipse cx="437.6" cy="89.5" rx="3.0" ry="2.6"/><ellipse cx="445.7" cy="87.7" rx="3.0" ry="2.6"/><ellipse cx="453.8" cy="85.1" rx="3.0" ry="2.6"/><ellipse cx="461.8" cy="85.6" rx="3.0" ry="2.6"/><ellipse cx="469.9" cy="85.5" rx="3.0" ry="2.6"/><ellipse cx="478" cy="76.3" rx="3.0" ry="2.6"/><ellipse cx="486" cy="78.4" rx="3.0" ry="2.6"/><ellipse cx="494.1" cy="78" rx="3.0" ry="2.6"/><ellipse cx="502.2" cy="77.9" rx="3.0" ry="2.6"/><ellipse cx="510.2" cy="77.5" rx="3.0" ry="2.6"/><ellipse cx="518.3" cy="82.1" rx="3.0" ry="2.6"/><ellipse cx="526.4" cy="86.5" rx="3.0" ry="2.6"/><ellipse cx="534.5" cy="86.9" rx="3.0" ry="2.6"/><ellipse cx="542.5" cy="91.1" rx="3.0" ry="2.6"/><ellipse cx="550.6" cy="91.1" rx="3.0" ry="2.6"/><ellipse cx="558.7" cy="88.6" rx="3.0" ry="2.6"/><ellipse cx="566.7" cy="84.8" rx="3.0" ry="2.6"/><ellipse cx="574.8" cy="89.4" rx="3.0" ry="2.6"/><ellipse cx="582.9" cy="87.4" rx="3.0" ry="2.6"/><ellipse cx="590.9" cy="93.3" rx="3.0" ry="2.6"/><ellipse cx="599" cy="90.9" rx="3.0" ry="2.6"/><ellipse cx="607.1" cy="90.1" rx="3.0" ry="2.6"/><ellipse cx="615.1" cy="93.8" rx="3.0" ry="2.6"/><ellipse cx="623.2" cy="98.1" rx="3.0" ry="2.6"/><ellipse cx="631.3" cy="99.1" rx="3.0" ry="2.6"/><ellipse cx="639.4" cy="100.2" rx="3.0" ry="2.6"/><ellipse cx="647.4" cy="100.2" rx="3.0" ry="2.6"/><ellipse cx="655.5" cy="96.8" rx="3.0" ry="2.6"/><ellipse cx="663.6" cy="90" rx="3.0" ry="2.6"/><ellipse cx="671.6" cy="87.1" rx="3.0" ry="2.6"/><ellipse cx="679.7" cy="85" rx="3.0" ry="2.6"/><ellipse cx="687.8" cy="78.4" rx="3.0" ry="2.6"/><ellipse cx="695.8" cy="75.2" rx="3.0" ry="2.6"/><ellipse cx="703.9" cy="75.9" rx="3.0" ry="2.6"/><ellipse cx="712" cy="74" rx="3.0" ry="2.6"/><ellipse cx="720" cy="77.4" rx="3.0" ry="2.6"/><ellipse cx="728.1" cy="75.8" rx="3.0" ry="2.6"/><ellipse cx="736.2" cy="74.5" rx="3.0" ry="2.6"/><ellipse cx="744.2" cy="73.2" rx="3.0" ry="2.6"/><ellipse cx="752.3" cy="75.6" rx="3.0" ry="2.6"/><ellipse cx="760.4" cy="82.2" rx="3.0" ry="2.6"/><ellipse cx="768.5" cy="80.6" rx="3.0" ry="2.6"/><ellipse cx="776.5" cy="81" rx="3.0" ry="2.6"/><ellipse cx="784.6" cy="85.1" rx="3.0" ry="2.6"/><ellipse cx="792.7" cy="85.7" rx="3.0" ry="2.6"/><ellipse cx="800.7" cy="88.2" rx="3.0" ry="2.6"/></g><path d="M195.6 80.8 L203.6 83.4 L211.7 88.9 L219.8 91 L227.8 83.1 L235.9 79.2 L244 86.8 L252.1 82 L260.1 82.4 L268.2 84.2 L276.3 82.9 L284.3 89.6 L292.4 86.7 L300.5 90.6 L308.5 93.4 L316.6 94.7 L324.7 90 L332.7 93.2 L340.8 90.9 L348.9 87.5 L356.9 89.1 L365 84.1 L373.1 83.1 L381.1 79.9 L389.2 82.2 L397.3 79.7 L405.4 80.9 L413.4 83.8 L421.5 86.7 L429.6 86.8 L437.6 90.7 L445.7 92 L453.8 83.8 L461.8 81.1 L469.9 79.3 L478 76.6 L486 79.9 L494.1 79 L502.2 74.9 L510.2 79.4 L518.3 84.4 L526.4 85.9 L534.5 81.1 L542.5 85.5 L550.6 90.7 L558.7 87.1 L566.7 85.1 L574.8 87.7 L582.9 85.5 L590.9 90.8 L599 93.4 L607.1 89.7 L615.1 94.9 L623.2 95.6 L631.3 98.7 L639.4 100.6 L647.4 95.4 L655.5 96.5 L663.6 93.6 L671.6 89.4 L679.7 87.2 L687.8 80.9 L695.8 76.3 L703.9 77.1 L712 73.5 L720 76 L728.1 76.8 L736.2 74.8 L744.2 75.8 L752.3 75 L760.4 77 L768.5 78.2 L776.5 80.7 L784.6 82.9 L792.7 83.1 L800.7 88.7" stroke="#712a38"/><g stroke="#712a38"><ellipse cx="195.6" cy="80.8" rx="3.0" ry="2.6"/><ellipse cx="203.6" cy="83.4" rx="3.0" ry="2.6"/><ellipse cx="211.7" cy="88.9" rx="3.0" ry="2.6"/><ellipse cx="219.8" cy="91" rx="3.0" ry="2.6"/><ellipse cx="227.8" cy="83.1" rx="3.0" ry="2.6"/><ellipse cx="235.9" cy="79.2" rx="3.0" ry="2.6"/><ellipse cx="244" cy="86.8" rx="3.0" ry="2.6"/><ellipse cx="252.1" cy="82" rx="3.0" ry="2.6"/><ellipse cx="260.1" cy="82.4" rx="3.0" ry="2.6"/><ellipse cx="268.2" cy="84.2" rx="3.0" ry="2.6"/><ellipse cx="276.3" cy="82.9" rx="3.0" ry="2.6"/><ellipse cx="284.3" cy="89.6" rx="3.0" ry="2.6"/><ellipse cx="292.4" cy="86.7" rx="3.0" ry="2.6"/><ellipse cx="300.5" cy="90.6" rx="3.0" ry="2.6"/><ellipse cx="308.5" cy="93.4" rx="3.0" ry="2.6"/><ellipse cx="316.6" cy="94.7" rx="3.0" ry="2.6"/><ellipse cx="324.7" cy="90" rx="3.0" ry="2.6"/><ellipse cx="332.7" cy="93.2" rx="3.0" ry="2.6"/><ellipse cx="340.8" cy="90.9" rx="3.0" ry="2.6"/><ellipse cx="348.9" cy="87.5" rx="3.0" ry="2.6"/><ellipse cx="356.9" cy="89.1" rx="3.0" ry="2.6"/><ellipse cx="365" cy="84.1" rx="3.0" ry="2.6"/><ellipse cx="373.1" cy="83.1" rx="3.0" ry="2.6"/><ellipse cx="381.1" cy="79.9" rx="3.0" ry="2.6"/><ellipse cx="389.2" cy="82.2" rx="3.0" ry="2.6"/><ellipse cx="397.3" cy="79.7" rx="3.0" ry="2.6"/><ellipse cx="405.4" cy="80.9" rx="3.0" ry="2.6"/><ellipse cx="413.4" cy="83.8" rx="3.0" ry="2.6"/><ellipse cx="421.5" cy="86.7" rx="3.0" ry="2.6"/><ellipse cx="429.6" cy="86.8" rx="3.0" ry="2.6"/><ellipse cx="437.6" cy="90.7" rx="3.0" ry="2.6"/><ellipse cx="445.7" cy="92" rx="3.0" ry="2.6"/><ellipse cx="453.8" cy="83.8" rx="3.0" ry="2.6"/><ellipse cx="461.8" cy="81.1" rx="3.0" ry="2.6"/><ellipse cx="469.9" cy="79.3" rx="3.0" ry="2.6"/><ellipse cx="478" cy="76.6" rx="3.0" ry="2.6"/><ellipse cx="486" cy="79.9" rx="3.0" ry="2.6"/><ellipse cx="494.1" cy="79" rx="3.0" ry="2.6"/><ellipse cx="502.2" cy="74.9" rx="3.0" ry="2.6"/><ellipse cx="510.2" cy="79.4" rx="3.0" ry="2.6"/><ellipse cx="518.3" cy="84.4" rx="3.0" ry="2.6"/><ellipse cx="526.4" cy="85.9" rx="3.0" ry="2.6"/><ellipse cx="534.5" cy="81.1" rx="3.0" ry="2.6"/><ellipse cx="542.5" cy="85.5" rx="3.0" ry="2.6"/><ellipse cx="550.6" cy="90.7" rx="3.0" ry="2.6"/><ellipse cx="558.7" cy="87.1" rx="3.0" ry="2.6"/><ellipse cx="566.7" cy="85.1" rx="3.0" ry="2.6"/><ellipse cx="574.8" cy="87.7" rx="3.0" ry="2.6"/><ellipse cx="582.9" cy="85.5" rx="3.0" ry="2.6"/><ellipse cx="590.9" cy="90.8" rx="3.0" ry="2.6"/><ellipse cx="599" cy="93.4" rx="3.0" ry="2.6"/><ellipse cx="607.1" cy="89.7" rx="3.0" ry="2.6"/><ellipse cx="615.1" cy="94.9" rx="3.0" ry="2.6"/><ellipse cx="623.2" cy="95.6" rx="3.0" ry="2.6"/><ellipse cx="631.3" cy="98.7" rx="3.0" ry="2.6"/><ellipse cx="639.4" cy="100.6" rx="3.0" ry="2.6"/><ellipse cx="647.4" cy="95.4" rx="3.0" ry="2.6"/><ellipse cx="655.5" cy="96.5" rx="3.0" ry="2.6"/><ellipse cx="663.6" cy="93.6" rx="3.0" ry="2.6"/><ellipse cx="671.6" cy="89.4" rx="3.0" ry="2.6"/><ellipse cx="679.7" cy="87.2" rx="3.0" ry="2.6"/><ellipse cx="687.8" cy="80.9" rx="3.0" ry="2.6"/><ellipse cx="695.8" cy="76.3" rx="3.0" ry="2.6"/><ellipse cx="703.9" cy="77.1" rx="3.0" ry="2.6"/><ellipse cx="712" cy="73.5" rx="3.0" ry="2.6"/><ellipse cx="720" cy="76" rx="3.0" ry="2.6"/><ellipse cx="728.1" cy="76.8" rx="3.0" ry="2.6"/><ellipse cx="736.2" cy="74.8" rx="3.0" ry="2.6"/><ellipse cx="744.2" cy="75.8" rx="3.0" ry="2.6"/><ellipse cx="752.3" cy="75" rx="3.0" ry="2.6"/><ellipse cx="760.4" cy="77" rx="3.0" ry="2.6"/><ellipse cx="768.5" cy="78.2" rx="3.0" ry="2.6"/><ellipse cx="776.5" cy="80.7" rx="3.0" ry="2.6"/><ellipse cx="784.6" cy="82.9" rx="3.0" ry="2.6"/><ellipse cx="792.7" cy="83.1" rx="3.0" ry="2.6"/><ellipse cx="800.7" cy="88.7" rx="3.0" ry="2.6"/></g></g>
<g clip-path="url(#c1)" fill="none" stroke-width="0.85"><path d="M195.6 296.8 L203.6 296.2 L211.7 302.8 L219.8 307.5 L227.8 297.2 L235.9 289.7 L244 283.6 L252.1 273.6 L260.1 267.7 L268.2 268.5 L276.3 262 L284.3 259.4 L292.4 259 L300.5 253.8 L308.5 255.5 L316.6 255.1 L324.7 250.2 L332.7 247.9 L340.8 254.5 L348.9 258.9 L356.9 259.5 L365 262.7 L373.1 265.2 L381.1 265.8 L389.2 276.8 L397.3 282.1 L405.4 287.8 L413.4 296 L421.5 259.3 L429.6 262.6 L437.6 263.1 L445.7 264.6 L453.8 268 L461.8 268.4 L469.9 269.2 L478 271 L486 268.7 L494.1 263.1 L502.2 260.2 L510.2 265.7 L518.3 262.9 L526.4 261.1 L534.5 262.6 L542.5 260.5 L550.6 296.2 L558.7 285.7 L566.7 281.3 L574.8 274 L582.9 270.4 L590.9 258.7 L599 259.3 L607.1 255.8 L615.1 256.5 L623.2 253.2 L631.3 252.8 L639.4 252.2 L647.4 251.2 L655.5 251.8 L663.6 249.8 L671.6 251.8 L679.7 248.2 L687.8 254.6 L695.8 257.7 L703.9 259 L712 264.2 L720 267.8 L728.1 270.8 L736.2 275.9 L744.2 284.1 L752.3 288.2 L760.4 294.5 L768.5 296.9 L776.5 298.4 L784.6 298.9 L792.7 299.4 L800.7 299.3" stroke="#2c658a"/><g stroke="#2c658a"><ellipse cx="195.6" cy="296.8" rx="3.0" ry="2.6"/><ellipse cx="203.6" cy="296.2" rx="3.0" ry="2.6"/><ellipse cx="211.7" cy="302.8" rx="3.0" ry="2.6"/><ellipse cx="219.8" cy="307.5" rx="3.0" ry="2.6"/><ellipse cx="227.8" cy="297.2" rx="3.0" ry="2.6"/><ellipse cx="235.9" cy="289.7" rx="3.0" ry="2.6"/><ellipse cx="244" cy="283.6" rx="3.0" ry="2.6"/><ellipse cx="252.1" cy="273.6" rx="3.0" ry="2.6"/><ellipse cx="260.1" cy="267.7" rx="3.0" ry="2.6"/><ellipse cx="268.2" cy="268.5" rx="3.0" ry="2.6"/><ellipse cx="276.3" cy="262" rx="3.0" ry="2.6"/><ellipse cx="284.3" cy="259.4" rx="3.0" ry="2.6"/><ellipse cx="292.4" cy="259" rx="3.0" ry="2.6"/><ellipse cx="300.5" cy="253.8" rx="3.0" ry="2.6"/><ellipse cx="308.5" cy="255.5" rx="3.0" ry="2.6"/><ellipse cx="316.6" cy="255.1" rx="3.0" ry="2.6"/><ellipse cx="324.7" cy="250.2" rx="3.0" ry="2.6"/><ellipse cx="332.7" cy="247.9" rx="3.0" ry="2.6"/><ellipse cx="340.8" cy="254.5" rx="3.0" ry="2.6"/><ellipse cx="348.9" cy="258.9" rx="3.0" ry="2.6"/><ellipse cx="356.9" cy="259.5" rx="3.0" ry="2.6"/><ellipse cx="365" cy="262.7" rx="3.0" ry="2.6"/><ellipse cx="373.1" cy="265.2" rx="3.0" ry="2.6"/><ellipse cx="381.1" cy="265.8" rx="3.0" ry="2.6"/><ellipse cx="389.2" cy="276.8" rx="3.0" ry="2.6"/><ellipse cx="397.3" cy="282.1" rx="3.0" ry="2.6"/><ellipse cx="405.4" cy="287.8" rx="3.0" ry="2.6"/><ellipse cx="413.4" cy="296" rx="3.0" ry="2.6"/><ellipse cx="421.5" cy="259.3" rx="3.0" ry="2.6"/><ellipse cx="429.6" cy="262.6" rx="3.0" ry="2.6"/><ellipse cx="437.6" cy="263.1" rx="3.0" ry="2.6"/><ellipse cx="445.7" cy="264.6" rx="3.0" ry="2.6"/><ellipse cx="453.8" cy="268" rx="3.0" ry="2.6"/><ellipse cx="461.8" cy="268.4" rx="3.0" ry="2.6"/><ellipse cx="469.9" cy="269.2" rx="3.0" ry="2.6"/><ellipse cx="478" cy="271" rx="3.0" ry="2.6"/><ellipse cx="486" cy="268.7" rx="3.0" ry="2.6"/><ellipse cx="494.1" cy="263.1" rx="3.0" ry="2.6"/><ellipse cx="502.2" cy="260.2" rx="3.0" ry="2.6"/><ellipse cx="510.2" cy="265.7" rx="3.0" ry="2.6"/><ellipse cx="518.3" cy="262.9" rx="3.0" ry="2.6"/><ellipse cx="526.4" cy="261.1" rx="3.0" ry="2.6"/><ellipse cx="534.5" cy="262.6" rx="3.0" ry="2.6"/><ellipse cx="542.5" cy="260.5" rx="3.0" ry="2.6"/><ellipse cx="550.6" cy="296.2" rx="3.0" ry="2.6"/><ellipse cx="558.7" cy="285.7" rx="3.0" ry="2.6"/><ellipse cx="566.7" cy="281.3" rx="3.0" ry="2.6"/><ellipse cx="574.8" cy="274" rx="3.0" ry="2.6"/><ellipse cx="582.9" cy="270.4" rx="3.0" ry="2.6"/><ellipse cx="590.9" cy="258.7" rx="3.0" ry="2.6"/><ellipse cx="599" cy="259.3" rx="3.0" ry="2.6"/><ellipse cx="607.1" cy="255.8" rx="3.0" ry="2.6"/><ellipse cx="615.1" cy="256.5" rx="3.0" ry="2.6"/><ellipse cx="623.2" cy="253.2" rx="3.0" ry="2.6"/><ellipse cx="631.3" cy="252.8" rx="3.0" ry="2.6"/><ellipse cx="639.4" cy="252.2" rx="3.0" ry="2.6"/><ellipse cx="647.4" cy="251.2" rx="3.0" ry="2.6"/><ellipse cx="655.5" cy="251.8" rx="3.0" ry="2.6"/><ellipse cx="663.6" cy="249.8" rx="3.0" ry="2.6"/><ellipse cx="671.6" cy="251.8" rx="3.0" ry="2.6"/><ellipse cx="679.7" cy="248.2" rx="3.0" ry="2.6"/><ellipse cx="687.8" cy="254.6" rx="3.0" ry="2.6"/><ellipse cx="695.8" cy="257.7" rx="3.0" ry="2.6"/><ellipse cx="703.9" cy="259" rx="3.0" ry="2.6"/><ellipse cx="712" cy="264.2" rx="3.0" ry="2.6"/><ellipse cx="720" cy="267.8" rx="3.0" ry="2.6"/><ellipse cx="728.1" cy="270.8" rx="3.0" ry="2.6"/><ellipse cx="736.2" cy="275.9" rx="3.0" ry="2.6"/><ellipse cx="744.2" cy="284.1" rx="3.0" ry="2.6"/><ellipse cx="752.3" cy="288.2" rx="3.0" ry="2.6"/><ellipse cx="760.4" cy="294.5" rx="3.0" ry="2.6"/><ellipse cx="768.5" cy="296.9" rx="3.0" ry="2.6"/><ellipse cx="776.5" cy="298.4" rx="3.0" ry="2.6"/><ellipse cx="784.6" cy="298.9" rx="3.0" ry="2.6"/><ellipse cx="792.7" cy="299.4" rx="3.0" ry="2.6"/><ellipse cx="800.7" cy="299.3" rx="3.0" ry="2.6"/></g><path d="M195.6 298 L203.6 299.9 L211.7 305.2 L219.8 308.1 L227.8 295.4 L235.9 289.3 L244 281.9 L252.1 273.1 L260.1 272.8 L268.2 270.6 L276.3 265.7 L284.3 264.8 L292.4 263.8 L300.5 255.4 L308.5 254.3 L316.6 257.2 L324.7 253.8 L332.7 249.4 L340.8 256.1 L348.9 258 L356.9 258.3 L365 259 L373.1 260.3 L381.1 266.7 L389.2 275.4 L397.3 281.8 L405.4 287.8 L413.4 295.5 L421.5 260.5 L429.6 260.7 L437.6 263.3 L445.7 267.4 L453.8 270 L461.8 273.1 L469.9 270.3 L478 274.8 L486 266.1 L494.1 262.9 L502.2 264.8 L510.2 260.5 L518.3 261.2 L526.4 264.8 L534.5 258.2 L542.5 258.5 L550.6 294.3 L558.7 291.2 L566.7 281.5 L574.8 273.8 L582.9 267.2 L590.9 261.7 L599 257.5 L607.1 258.5 L615.1 256.7 L623.2 255.7 L631.3 251.8 L639.4 253.5 L647.4 251.4 L655.5 251.4 L663.6 250.2 L671.6 251.5 L679.7 251.6 L687.8 251.7 L695.8 253.1 L703.9 258.5 L712 263.4 L720 263.1 L728.1 271.2 L736.2 275.2 L744.2 279.8 L752.3 288.4 L760.4 295.6 L768.5 300.2 L776.5 296.3 L784.6 298.8 L792.7 302.1 L800.7 297.9" stroke="#a66346"/><g stroke="#a66346"><ellipse cx="195.6" cy="298" rx="3.0" ry="2.6"/><ellipse cx="203.6" cy="299.9" rx="3.0" ry="2.6"/><ellipse cx="211.7" cy="305.2" rx="3.0" ry="2.6"/><ellipse cx="219.8" cy="308.1" rx="3.0" ry="2.6"/><ellipse cx="227.8" cy="295.4" rx="3.0" ry="2.6"/><ellipse cx="235.9" cy="289.3" rx="3.0" ry="2.6"/><ellipse cx="244" cy="281.9" rx="3.0" ry="2.6"/><ellipse cx="252.1" cy="273.1" rx="3.0" ry="2.6"/><ellipse cx="260.1" cy="272.8" rx="3.0" ry="2.6"/><ellipse cx="268.2" cy="270.6" rx="3.0" ry="2.6"/><ellipse cx="276.3" cy="265.7" rx="3.0" ry="2.6"/><ellipse cx="284.3" cy="264.8" rx="3.0" ry="2.6"/><ellipse cx="292.4" cy="263.8" rx="3.0" ry="2.6"/><ellipse cx="300.5" cy="255.4" rx="3.0" ry="2.6"/><ellipse cx="308.5" cy="254.3" rx="3.0" ry="2.6"/><ellipse cx="316.6" cy="257.2" rx="3.0" ry="2.6"/><ellipse cx="324.7" cy="253.8" rx="3.0" ry="2.6"/><ellipse cx="332.7" cy="249.4" rx="3.0" ry="2.6"/><ellipse cx="340.8" cy="256.1" rx="3.0" ry="2.6"/><ellipse cx="348.9" cy="258" rx="3.0" ry="2.6"/><ellipse cx="356.9" cy="258.3" rx="3.0" ry="2.6"/><ellipse cx="365" cy="259" rx="3.0" ry="2.6"/><ellipse cx="373.1" cy="260.3" rx="3.0" ry="2.6"/><ellipse cx="381.1" cy="266.7" rx="3.0" ry="2.6"/><ellipse cx="389.2" cy="275.4" rx="3.0" ry="2.6"/><ellipse cx="397.3" cy="281.8" rx="3.0" ry="2.6"/><ellipse cx="405.4" cy="287.8" rx="3.0" ry="2.6"/><ellipse cx="413.4" cy="295.5" rx="3.0" ry="2.6"/><ellipse cx="421.5" cy="260.5" rx="3.0" ry="2.6"/><ellipse cx="429.6" cy="260.7" rx="3.0" ry="2.6"/><ellipse cx="437.6" cy="263.3" rx="3.0" ry="2.6"/><ellipse cx="445.7" cy="267.4" rx="3.0" ry="2.6"/><ellipse cx="453.8" cy="270" rx="3.0" ry="2.6"/><ellipse cx="461.8" cy="273.1" rx="3.0" ry="2.6"/><ellipse cx="469.9" cy="270.3" rx="3.0" ry="2.6"/><ellipse cx="478" cy="274.8" rx="3.0" ry="2.6"/><ellipse cx="486" cy="266.1" rx="3.0" ry="2.6"/><ellipse cx="494.1" cy="262.9" rx="3.0" ry="2.6"/><ellipse cx="502.2" cy="264.8" rx="3.0" ry="2.6"/><ellipse cx="510.2" cy="260.5" rx="3.0" ry="2.6"/><ellipse cx="518.3" cy="261.2" rx="3.0" ry="2.6"/><ellipse cx="526.4" cy="264.8" rx="3.0" ry="2.6"/><ellipse cx="534.5" cy="258.2" rx="3.0" ry="2.6"/><ellipse cx="542.5" cy="258.5" rx="3.0" ry="2.6"/><ellipse cx="550.6" cy="294.3" rx="3.0" ry="2.6"/><ellipse cx="558.7" cy="291.2" rx="3.0" ry="2.6"/><ellipse cx="566.7" cy="281.5" rx="3.0" ry="2.6"/><ellipse cx="574.8" cy="273.8" rx="3.0" ry="2.6"/><ellipse cx="582.9" cy="267.2" rx="3.0" ry="2.6"/><ellipse cx="590.9" cy="261.7" rx="3.0" ry="2.6"/><ellipse cx="599" cy="257.5" rx="3.0" ry="2.6"/><ellipse cx="607.1" cy="258.5" rx="3.0" ry="2.6"/><ellipse cx="615.1" cy="256.7" rx="3.0" ry="2.6"/><ellipse cx="623.2" cy="255.7" rx="3.0" ry="2.6"/><ellipse cx="631.3" cy="251.8" rx="3.0" ry="2.6"/><ellipse cx="639.4" cy="253.5" rx="3.0" ry="2.6"/><ellipse cx="647.4" cy="251.4" rx="3.0" ry="2.6"/><ellipse cx="655.5" cy="251.4" rx="3.0" ry="2.6"/><ellipse cx="663.6" cy="250.2" rx="3.0" ry="2.6"/><ellipse cx="671.6" cy="251.5" rx="3.0" ry="2.6"/><ellipse cx="679.7" cy="251.6" rx="3.0" ry="2.6"/><ellipse cx="687.8" cy="251.7" rx="3.0" ry="2.6"/><ellipse cx="695.8" cy="253.1" rx="3.0" ry="2.6"/><ellipse cx="703.9" cy="258.5" rx="3.0" ry="2.6"/><ellipse cx="712" cy="263.4" rx="3.0" ry="2.6"/><ellipse cx="720" cy="263.1" rx="3.0" ry="2.6"/><ellipse cx="728.1" cy="271.2" rx="3.0" ry="2.6"/><ellipse cx="736.2" cy="275.2" rx="3.0" ry="2.6"/><ellipse cx="744.2" cy="279.8" rx="3.0" ry="2.6"/><ellipse cx="752.3" cy="288.4" rx="3.0" ry="2.6"/><ellipse cx="760.4" cy="295.6" rx="3.0" ry="2.6"/><ellipse cx="768.5" cy="300.2" rx="3.0" ry="2.6"/><ellipse cx="776.5" cy="296.3" rx="3.0" ry="2.6"/><ellipse cx="784.6" cy="298.8" rx="3.0" ry="2.6"/><ellipse cx="792.7" cy="302.1" rx="3.0" ry="2.6"/><ellipse cx="800.7" cy="297.9" rx="3.0" ry="2.6"/></g><path d="M195.6 296.7 L203.6 299 L211.7 306.7 L219.8 307.2 L227.8 298.4 L235.9 288.9 L244 284.4 L252.1 276.4 L260.1 272.1 L268.2 269.4 L276.3 267.6 L284.3 260.6 L292.4 261.6 L300.5 260.5 L308.5 254.2 L316.6 254.3 L324.7 250.3 L332.7 253.7 L340.8 253.1 L348.9 258.8 L356.9 256.8 L365 263 L373.1 263.6 L381.1 270.4 L389.2 278.9 L397.3 281.4 L405.4 290.6 L413.4 296.5 L421.5 259.6 L429.6 263.8 L437.6 268.1 L445.7 269.9 L453.8 271.5 L461.8 273.4 L469.9 269.5 L478 272.6 L486 270 L494.1 264.7 L502.2 264 L510.2 263.9 L518.3 262.6 L526.4 261 L534.5 264 L542.5 263.9 L550.6 296.2 L558.7 290 L566.7 281.6 L574.8 278.8 L582.9 269.3 L590.9 263.2 L599 263.3 L607.1 257.9 L615.1 254.3 L623.2 252.4 L631.3 249.1 L639.4 255.1 L647.4 255.9 L655.5 252.1 L663.6 249.7 L671.6 251.1 L679.7 254.4 L687.8 253.2 L695.8 254.2 L703.9 258.8 L712 264.9 L720 266.6 L728.1 269.9 L736.2 278.6 L744.2 286.4 L752.3 288.5 L760.4 297.4 L768.5 299.3 L776.5 297.7 L784.6 301.4 L792.7 300.5 L800.7 300.9" stroke="#cfb169"/><g stroke="#cfb169"><ellipse cx="195.6" cy="296.7" rx="3.0" ry="2.6"/><ellipse cx="203.6" cy="299" rx="3.0" ry="2.6"/><ellipse cx="211.7" cy="306.7" rx="3.0" ry="2.6"/><ellipse cx="219.8" cy="307.2" rx="3.0" ry="2.6"/><ellipse cx="227.8" cy="298.4" rx="3.0" ry="2.6"/><ellipse cx="235.9" cy="288.9" rx="3.0" ry="2.6"/><ellipse cx="244" cy="284.4" rx="3.0" ry="2.6"/><ellipse cx="252.1" cy="276.4" rx="3.0" ry="2.6"/><ellipse cx="260.1" cy="272.1" rx="3.0" ry="2.6"/><ellipse cx="268.2" cy="269.4" rx="3.0" ry="2.6"/><ellipse cx="276.3" cy="267.6" rx="3.0" ry="2.6"/><ellipse cx="284.3" cy="260.6" rx="3.0" ry="2.6"/><ellipse cx="292.4" cy="261.6" rx="3.0" ry="2.6"/><ellipse cx="300.5" cy="260.5" rx="3.0" ry="2.6"/><ellipse cx="308.5" cy="254.2" rx="3.0" ry="2.6"/><ellipse cx="316.6" cy="254.3" rx="3.0" ry="2.6"/><ellipse cx="324.7" cy="250.3" rx="3.0" ry="2.6"/><ellipse cx="332.7" cy="253.7" rx="3.0" ry="2.6"/><ellipse cx="340.8" cy="253.1" rx="3.0" ry="2.6"/><ellipse cx="348.9" cy="258.8" rx="3.0" ry="2.6"/><ellipse cx="356.9" cy="256.8" rx="3.0" ry="2.6"/><ellipse cx="365" cy="263" rx="3.0" ry="2.6"/><ellipse cx="373.1" cy="263.6" rx="3.0" ry="2.6"/><ellipse cx="381.1" cy="270.4" rx="3.0" ry="2.6"/><ellipse cx="389.2" cy="278.9" rx="3.0" ry="2.6"/><ellipse cx="397.3" cy="281.4" rx="3.0" ry="2.6"/><ellipse cx="405.4" cy="290.6" rx="3.0" ry="2.6"/><ellipse cx="413.4" cy="296.5" rx="3.0" ry="2.6"/><ellipse cx="421.5" cy="259.6" rx="3.0" ry="2.6"/><ellipse cx="429.6" cy="263.8" rx="3.0" ry="2.6"/><ellipse cx="437.6" cy="268.1" rx="3.0" ry="2.6"/><ellipse cx="445.7" cy="269.9" rx="3.0" ry="2.6"/><ellipse cx="453.8" cy="271.5" rx="3.0" ry="2.6"/><ellipse cx="461.8" cy="273.4" rx="3.0" ry="2.6"/><ellipse cx="469.9" cy="269.5" rx="3.0" ry="2.6"/><ellipse cx="478" cy="272.6" rx="3.0" ry="2.6"/><ellipse cx="486" cy="270" rx="3.0" ry="2.6"/><ellipse cx="494.1" cy="264.7" rx="3.0" ry="2.6"/><ellipse cx="502.2" cy="264" rx="3.0" ry="2.6"/><ellipse cx="510.2" cy="263.9" rx="3.0" ry="2.6"/><ellipse cx="518.3" cy="262.6" rx="3.0" ry="2.6"/><ellipse cx="526.4" cy="261" rx="3.0" ry="2.6"/><ellipse cx="534.5" cy="264" rx="3.0" ry="2.6"/><ellipse cx="542.5" cy="263.9" rx="3.0" ry="2.6"/><ellipse cx="550.6" cy="296.2" rx="3.0" ry="2.6"/><ellipse cx="558.7" cy="290" rx="3.0" ry="2.6"/><ellipse cx="566.7" cy="281.6" rx="3.0" ry="2.6"/><ellipse cx="574.8" cy="278.8" rx="3.0" ry="2.6"/><ellipse cx="582.9" cy="269.3" rx="3.0" ry="2.6"/><ellipse cx="590.9" cy="263.2" rx="3.0" ry="2.6"/><ellipse cx="599" cy="263.3" rx="3.0" ry="2.6"/><ellipse cx="607.1" cy="257.9" rx="3.0" ry="2.6"/><ellipse cx="615.1" cy="254.3" rx="3.0" ry="2.6"/><ellipse cx="623.2" cy="252.4" rx="3.0" ry="2.6"/><ellipse cx="631.3" cy="249.1" rx="3.0" ry="2.6"/><ellipse cx="639.4" cy="255.1" rx="3.0" ry="2.6"/><ellipse cx="647.4" cy="255.9" rx="3.0" ry="2.6"/><ellipse cx="655.5" cy="252.1" rx="3.0" ry="2.6"/><ellipse cx="663.6" cy="249.7" rx="3.0" ry="2.6"/><ellipse cx="671.6" cy="251.1" rx="3.0" ry="2.6"/><ellipse cx="679.7" cy="254.4" rx="3.0" ry="2.6"/><ellipse cx="687.8" cy="253.2" rx="3.0" ry="2.6"/><ellipse cx="695.8" cy="254.2" rx="3.0" ry="2.6"/><ellipse cx="703.9" cy="258.8" rx="3.0" ry="2.6"/><ellipse cx="712" cy="264.9" rx="3.0" ry="2.6"/><ellipse cx="720" cy="266.6" rx="3.0" ry="2.6"/><ellipse cx="728.1" cy="269.9" rx="3.0" ry="2.6"/><ellipse cx="736.2" cy="278.6" rx="3.0" ry="2.6"/><ellipse cx="744.2" cy="286.4" rx="3.0" ry="2.6"/><ellipse cx="752.3" cy="288.5" rx="3.0" ry="2.6"/><ellipse cx="760.4" cy="297.4" rx="3.0" ry="2.6"/><ellipse cx="768.5" cy="299.3" rx="3.0" ry="2.6"/><ellipse cx="776.5" cy="297.7" rx="3.0" ry="2.6"/><ellipse cx="784.6" cy="301.4" rx="3.0" ry="2.6"/><ellipse cx="792.7" cy="300.5" rx="3.0" ry="2.6"/><ellipse cx="800.7" cy="300.9" rx="3.0" ry="2.6"/></g><path d="M195.6 295.1 L203.6 297.1 L211.7 302 L219.8 303.8 L227.8 295.2 L235.9 287.2 L244 279.1 L252.1 276.9 L260.1 271.3 L268.2 270.6 L276.3 262.3 L284.3 259.2 L292.4 259.6 L300.5 255.4 L308.5 253.6 L316.6 253.7 L324.7 253.8 L332.7 248.7 L340.8 255.6 L348.9 259.5 L356.9 260.4 L365 263.1 L373.1 262.2 L381.1 266.8 L389.2 278.2 L397.3 280.6 L405.4 289.6 L413.4 299.3 L421.5 262.8 L429.6 263 L437.6 265.1 L445.7 267 L453.8 269.9 L461.8 274.1 L469.9 269.1 L478 274.9 L486 266.8 L494.1 266.2 L502.2 263.9 L510.2 264.8 L518.3 263.9 L526.4 259.3 L534.5 260.1 L542.5 259 L550.6 297.1 L558.7 291.9 L566.7 283.5 L574.8 275.7 L582.9 269.4 L590.9 261.2 L599 260.9 L607.1 257.2 L615.1 256.5 L623.2 256.6 L631.3 249.8 L639.4 250 L647.4 251.9 L655.5 253.7 L663.6 253.7 L671.6 250.1 L679.7 248.7 L687.8 253 L695.8 252.9 L703.9 256.1 L712 260.9 L720 266.9 L728.1 268.3 L736.2 275.1 L744.2 284.8 L752.3 288.8 L760.4 299.8 L768.5 298.4 L776.5 297.2 L784.6 301.2 L792.7 302.6 L800.7 296.9" stroke="#67406f"/><g stroke="#67406f"><ellipse cx="195.6" cy="295.1" rx="3.0" ry="2.6"/><ellipse cx="203.6" cy="297.1" rx="3.0" ry="2.6"/><ellipse cx="211.7" cy="302" rx="3.0" ry="2.6"/><ellipse cx="219.8" cy="303.8" rx="3.0" ry="2.6"/><ellipse cx="227.8" cy="295.2" rx="3.0" ry="2.6"/><ellipse cx="235.9" cy="287.2" rx="3.0" ry="2.6"/><ellipse cx="244" cy="279.1" rx="3.0" ry="2.6"/><ellipse cx="252.1" cy="276.9" rx="3.0" ry="2.6"/><ellipse cx="260.1" cy="271.3" rx="3.0" ry="2.6"/><ellipse cx="268.2" cy="270.6" rx="3.0" ry="2.6"/><ellipse cx="276.3" cy="262.3" rx="3.0" ry="2.6"/><ellipse cx="284.3" cy="259.2" rx="3.0" ry="2.6"/><ellipse cx="292.4" cy="259.6" rx="3.0" ry="2.6"/><ellipse cx="300.5" cy="255.4" rx="3.0" ry="2.6"/><ellipse cx="308.5" cy="253.6" rx="3.0" ry="2.6"/><ellipse cx="316.6" cy="253.7" rx="3.0" ry="2.6"/><ellipse cx="324.7" cy="253.8" rx="3.0" ry="2.6"/><ellipse cx="332.7" cy="248.7" rx="3.0" ry="2.6"/><ellipse cx="340.8" cy="255.6" rx="3.0" ry="2.6"/><ellipse cx="348.9" cy="259.5" rx="3.0" ry="2.6"/><ellipse cx="356.9" cy="260.4" rx="3.0" ry="2.6"/><ellipse cx="365" cy="263.1" rx="3.0" ry="2.6"/><ellipse cx="373.1" cy="262.2" rx="3.0" ry="2.6"/><ellipse cx="381.1" cy="266.8" rx="3.0" ry="2.6"/><ellipse cx="389.2" cy="278.2" rx="3.0" ry="2.6"/><ellipse cx="397.3" cy="280.6" rx="3.0" ry="2.6"/><ellipse cx="405.4" cy="289.6" rx="3.0" ry="2.6"/><ellipse cx="413.4" cy="299.3" rx="3.0" ry="2.6"/><ellipse cx="421.5" cy="262.8" rx="3.0" ry="2.6"/><ellipse cx="429.6" cy="263" rx="3.0" ry="2.6"/><ellipse cx="437.6" cy="265.1" rx="3.0" ry="2.6"/><ellipse cx="445.7" cy="267" rx="3.0" ry="2.6"/><ellipse cx="453.8" cy="269.9" rx="3.0" ry="2.6"/><ellipse cx="461.8" cy="274.1" rx="3.0" ry="2.6"/><ellipse cx="469.9" cy="269.1" rx="3.0" ry="2.6"/><ellipse cx="478" cy="274.9" rx="3.0" ry="2.6"/><ellipse cx="486" cy="266.8" rx="3.0" ry="2.6"/><ellipse cx="494.1" cy="266.2" rx="3.0" ry="2.6"/><ellipse cx="502.2" cy="263.9" rx="3.0" ry="2.6"/><ellipse cx="510.2" cy="264.8" rx="3.0" ry="2.6"/><ellipse cx="518.3" cy="263.9" rx="3.0" ry="2.6"/><ellipse cx="526.4" cy="259.3" rx="3.0" ry="2.6"/><ellipse cx="534.5" cy="260.1" rx="3.0" ry="2.6"/><ellipse cx="542.5" cy="259" rx="3.0" ry="2.6"/><ellipse cx="550.6" cy="297.1" rx="3.0" ry="2.6"/><ellipse cx="558.7" cy="291.9" rx="3.0" ry="2.6"/><ellipse cx="566.7" cy="283.5" rx="3.0" ry="2.6"/><ellipse cx="574.8" cy="275.7" rx="3.0" ry="2.6"/><ellipse cx="582.9" cy="269.4" rx="3.0" ry="2.6"/><ellipse cx="590.9" cy="261.2" rx="3.0" ry="2.6"/><ellipse cx="599" cy="260.9" rx="3.0" ry="2.6"/><ellipse cx="607.1" cy="257.2" rx="3.0" ry="2.6"/><ellipse cx="615.1" cy="256.5" rx="3.0" ry="2.6"/><ellipse cx="623.2" cy="256.6" rx="3.0" ry="2.6"/><ellipse cx="631.3" cy="249.8" rx="3.0" ry="2.6"/><ellipse cx="639.4" cy="250" rx="3.0" ry="2.6"/><ellipse cx="647.4" cy="251.9" rx="3.0" ry="2.6"/><ellipse cx="655.5" cy="253.7" rx="3.0" ry="2.6"/><ellipse cx="663.6" cy="253.7" rx="3.0" ry="2.6"/><ellipse cx="671.6" cy="250.1" rx="3.0" ry="2.6"/><ellipse cx="679.7" cy="248.7" rx="3.0" ry="2.6"/><ellipse cx="687.8" cy="253" rx="3.0" ry="2.6"/><ellipse cx="695.8" cy="252.9" rx="3.0" ry="2.6"/><ellipse cx="703.9" cy="256.1" rx="3.0" ry="2.6"/><ellipse cx="712" cy="260.9" rx="3.0" ry="2.6"/><ellipse cx="720" cy="266.9" rx="3.0" ry="2.6"/><ellipse cx="728.1" cy="268.3" rx="3.0" ry="2.6"/><ellipse cx="736.2" cy="275.1" rx="3.0" ry="2.6"/><ellipse cx="744.2" cy="284.8" rx="3.0" ry="2.6"/><ellipse cx="752.3" cy="288.8" rx="3.0" ry="2.6"/><ellipse cx="760.4" cy="299.8" rx="3.0" ry="2.6"/><ellipse cx="768.5" cy="298.4" rx="3.0" ry="2.6"/><ellipse cx="776.5" cy="297.2" rx="3.0" ry="2.6"/><ellipse cx="784.6" cy="301.2" rx="3.0" ry="2.6"/><ellipse cx="792.7" cy="302.6" rx="3.0" ry="2.6"/><ellipse cx="800.7" cy="296.9" rx="3.0" ry="2.6"/></g><path d="M195.6 295.4 L203.6 299.2 L211.7 303.5 L219.8 303.5 L227.8 293.5 L235.9 288.8 L244 281.9 L252.1 277 L260.1 269.4 L268.2 266.9 L276.3 263.2 L284.3 264.3 L292.4 259.4 L300.5 257.1 L308.5 252.3 L316.6 253.7 L324.7 248.3 L332.7 248.7 L340.8 255.8 L348.9 257 L356.9 255.9 L365 262.8 L373.1 263.1 L381.1 266.7 L389.2 273.6 L397.3 281.5 L405.4 293.7 L413.4 300.7 L421.5 259.8 L429.6 261.1 L437.6 260.8 L445.7 269.4 L453.8 267.3 L461.8 269.5 L469.9 272.7 L478 273.7 L486 268.3 L494.1 265 L502.2 263.1 L510.2 262.5 L518.3 264.6 L526.4 260.9 L534.5 262.9 L542.5 261.2 L550.6 296.9 L558.7 290.3 L566.7 282.2 L574.8 271.9 L582.9 267.7 L590.9 262.6 L599 258.3 L607.1 256.7 L615.1 252.7 L623.2 255.8 L631.3 249.9 L639.4 253.6 L647.4 253.8 L655.5 248.9 L663.6 252.1 L671.6 247.3 L679.7 249.9 L687.8 251 L695.8 256.5 L703.9 256.7 L712 260.4 L720 266.4 L728.1 270.6 L736.2 273.4 L744.2 281.9 L752.3 289 L760.4 298.5 L768.5 297.6 L776.5 297.8 L784.6 299.1 L792.7 296.3 L800.7 300" stroke="#829d5f"/><g stroke="#829d5f"><ellipse cx="195.6" cy="295.4" rx="3.0" ry="2.6"/><ellipse cx="203.6" cy="299.2" rx="3.0" ry="2.6"/><ellipse cx="211.7" cy="303.5" rx="3.0" ry="2.6"/><ellipse cx="219.8" cy="303.5" rx="3.0" ry="2.6"/><ellipse cx="227.8" cy="293.5" rx="3.0" ry="2.6"/><ellipse cx="235.9" cy="288.8" rx="3.0" ry="2.6"/><ellipse cx="244" cy="281.9" rx="3.0" ry="2.6"/><ellipse cx="252.1" cy="277" rx="3.0" ry="2.6"/><ellipse cx="260.1" cy="269.4" rx="3.0" ry="2.6"/><ellipse cx="268.2" cy="266.9" rx="3.0" ry="2.6"/><ellipse cx="276.3" cy="263.2" rx="3.0" ry="2.6"/><ellipse cx="284.3" cy="264.3" rx="3.0" ry="2.6"/><ellipse cx="292.4" cy="259.4" rx="3.0" ry="2.6"/><ellipse cx="300.5" cy="257.1" rx="3.0" ry="2.6"/><ellipse cx="308.5" cy="252.3" rx="3.0" ry="2.6"/><ellipse cx="316.6" cy="253.7" rx="3.0" ry="2.6"/><ellipse cx="324.7" cy="248.3" rx="3.0" ry="2.6"/><ellipse cx="332.7" cy="248.7" rx="3.0" ry="2.6"/><ellipse cx="340.8" cy="255.8" rx="3.0" ry="2.6"/><ellipse cx="348.9" cy="257" rx="3.0" ry="2.6"/><ellipse cx="356.9" cy="255.9" rx="3.0" ry="2.6"/><ellipse cx="365" cy="262.8" rx="3.0" ry="2.6"/><ellipse cx="373.1" cy="263.1" rx="3.0" ry="2.6"/><ellipse cx="381.1" cy="266.7" rx="3.0" ry="2.6"/><ellipse cx="389.2" cy="273.6" rx="3.0" ry="2.6"/><ellipse cx="397.3" cy="281.5" rx="3.0" ry="2.6"/><ellipse cx="405.4" cy="293.7" rx="3.0" ry="2.6"/><ellipse cx="413.4" cy="300.7" rx="3.0" ry="2.6"/><ellipse cx="421.5" cy="259.8" rx="3.0" ry="2.6"/><ellipse cx="429.6" cy="261.1" rx="3.0" ry="2.6"/><ellipse cx="437.6" cy="260.8" rx="3.0" ry="2.6"/><ellipse cx="445.7" cy="269.4" rx="3.0" ry="2.6"/><ellipse cx="453.8" cy="267.3" rx="3.0" ry="2.6"/><ellipse cx="461.8" cy="269.5" rx="3.0" ry="2.6"/><ellipse cx="469.9" cy="272.7" rx="3.0" ry="2.6"/><ellipse cx="478" cy="273.7" rx="3.0" ry="2.6"/><ellipse cx="486" cy="268.3" rx="3.0" ry="2.6"/><ellipse cx="494.1" cy="265" rx="3.0" ry="2.6"/><ellipse cx="502.2" cy="263.1" rx="3.0" ry="2.6"/><ellipse cx="510.2" cy="262.5" rx="3.0" ry="2.6"/><ellipse cx="518.3" cy="264.6" rx="3.0" ry="2.6"/><ellipse cx="526.4" cy="260.9" rx="3.0" ry="2.6"/><ellipse cx="534.5" cy="262.9" rx="3.0" ry="2.6"/><ellipse cx="542.5" cy="261.2" rx="3.0" ry="2.6"/><ellipse cx="550.6" cy="296.9" rx="3.0" ry="2.6"/><ellipse cx="558.7" cy="290.3" rx="3.0" ry="2.6"/><ellipse cx="566.7" cy="282.2" rx="3.0" ry="2.6"/><ellipse cx="574.8" cy="271.9" rx="3.0" ry="2.6"/><ellipse cx="582.9" cy="267.7" rx="3.0" ry="2.6"/><ellipse cx="590.9" cy="262.6" rx="3.0" ry="2.6"/><ellipse cx="599" cy="258.3" rx="3.0" ry="2.6"/><ellipse cx="607.1" cy="256.7" rx="3.0" ry="2.6"/><ellipse cx="615.1" cy="252.7" rx="3.0" ry="2.6"/><ellipse cx="623.2" cy="255.8" rx="3.0" ry="2.6"/><ellipse cx="631.3" cy="249.9" rx="3.0" ry="2.6"/><ellipse cx="639.4" cy="253.6" rx="3.0" ry="2.6"/><ellipse cx="647.4" cy="253.8" rx="3.0" ry="2.6"/><ellipse cx="655.5" cy="248.9" rx="3.0" ry="2.6"/><ellipse cx="663.6" cy="252.1" rx="3.0" ry="2.6"/><ellipse cx="671.6" cy="247.3" rx="3.0" ry="2.6"/><ellipse cx="679.7" cy="249.9" rx="3.0" ry="2.6"/><ellipse cx="687.8" cy="251" rx="3.0" ry="2.6"/><ellipse cx="695.8" cy="256.5" rx="3.0" ry="2.6"/><ellipse cx="703.9" cy="256.7" rx="3.0" ry="2.6"/><ellipse cx="712" cy="260.4" rx="3.0" ry="2.6"/><ellipse cx="720" cy="266.4" rx="3.0" ry="2.6"/><ellipse cx="728.1" cy="270.6" rx="3.0" ry="2.6"/><ellipse cx="736.2" cy="273.4" rx="3.0" ry="2.6"/><ellipse cx="744.2" cy="281.9" rx="3.0" ry="2.6"/><ellipse cx="752.3" cy="289" rx="3.0" ry="2.6"/><ellipse cx="760.4" cy="298.5" rx="3.0" ry="2.6"/><ellipse cx="768.5" cy="297.6" rx="3.0" ry="2.6"/><ellipse cx="776.5" cy="297.8" rx="3.0" ry="2.6"/><ellipse cx="784.6" cy="299.1" rx="3.0" ry="2.6"/><ellipse cx="792.7" cy="296.3" rx="3.0" ry="2.6"/><ellipse cx="800.7" cy="300" rx="3.0" ry="2.6"/></g><path d="M195.6 295.4 L203.6 298.6 L211.7 303.5 L219.8 303.4 L227.8 299.2 L235.9 290.4 L244 284.3 L252.1 279.9 L260.1 270.3 L268.2 272.1 L276.3 262.4 L284.3 259 L292.4 263.6 L300.5 256.8 L308.5 256.6 L316.6 252.7 L324.7 252.6 L332.7 251.2 L340.8 254.8 L348.9 256.5 L356.9 259.7 L365 261.7 L373.1 264.8 L381.1 268.6 L389.2 278 L397.3 282.2 L405.4 294.6 L413.4 299.2 L421.5 256.8 L429.6 261.6 L437.6 266.4 L445.7 267.3 L453.8 271.1 L461.8 273.9 L469.9 270.9 L478 270.8 L486 267.8 L494.1 264.2 L502.2 264.4 L510.2 265.3 L518.3 260.5 L526.4 261.3 L534.5 263.4 L542.5 263.4 L550.6 300.3 L558.7 285.9 L566.7 284.7 L574.8 274.9 L582.9 267.3 L590.9 262.5 L599 260.1 L607.1 258.5 L615.1 256.6 L623.2 250.2 L631.3 252.4 L639.4 251 L647.4 255.4 L655.5 252.5 L663.6 250 L671.6 248.6 L679.7 253 L687.8 252.5 L695.8 253.9 L703.9 260.2 L712 262.1 L720 267.8 L728.1 271.8 L736.2 276.6 L744.2 285.4 L752.3 288.3 L760.4 299.1 L768.5 301 L776.5 299.1 L784.6 298 L792.7 300.1 L800.7 297" stroke="#77afc7"/><g stroke="#77afc7"><ellipse cx="195.6" cy="295.4" rx="3.0" ry="2.6"/><ellipse cx="203.6" cy="298.6" rx="3.0" ry="2.6"/><ellipse cx="211.7" cy="303.5" rx="3.0" ry="2.6"/><ellipse cx="219.8" cy="303.4" rx="3.0" ry="2.6"/><ellipse cx="227.8" cy="299.2" rx="3.0" ry="2.6"/><ellipse cx="235.9" cy="290.4" rx="3.0" ry="2.6"/><ellipse cx="244" cy="284.3" rx="3.0" ry="2.6"/><ellipse cx="252.1" cy="279.9" rx="3.0" ry="2.6"/><ellipse cx="260.1" cy="270.3" rx="3.0" ry="2.6"/><ellipse cx="268.2" cy="272.1" rx="3.0" ry="2.6"/><ellipse cx="276.3" cy="262.4" rx="3.0" ry="2.6"/><ellipse cx="284.3" cy="259" rx="3.0" ry="2.6"/><ellipse cx="292.4" cy="263.6" rx="3.0" ry="2.6"/><ellipse cx="300.5" cy="256.8" rx="3.0" ry="2.6"/><ellipse cx="308.5" cy="256.6" rx="3.0" ry="2.6"/><ellipse cx="316.6" cy="252.7" rx="3.0" ry="2.6"/><ellipse cx="324.7" cy="252.6" rx="3.0" ry="2.6"/><ellipse cx="332.7" cy="251.2" rx="3.0" ry="2.6"/><ellipse cx="340.8" cy="254.8" rx="3.0" ry="2.6"/><ellipse cx="348.9" cy="256.5" rx="3.0" ry="2.6"/><ellipse cx="356.9" cy="259.7" rx="3.0" ry="2.6"/><ellipse cx="365" cy="261.7" rx="3.0" ry="2.6"/><ellipse cx="373.1" cy="264.8" rx="3.0" ry="2.6"/><ellipse cx="381.1" cy="268.6" rx="3.0" ry="2.6"/><ellipse cx="389.2" cy="278" rx="3.0" ry="2.6"/><ellipse cx="397.3" cy="282.2" rx="3.0" ry="2.6"/><ellipse cx="405.4" cy="294.6" rx="3.0" ry="2.6"/><ellipse cx="413.4" cy="299.2" rx="3.0" ry="2.6"/><ellipse cx="421.5" cy="256.8" rx="3.0" ry="2.6"/><ellipse cx="429.6" cy="261.6" rx="3.0" ry="2.6"/><ellipse cx="437.6" cy="266.4" rx="3.0" ry="2.6"/><ellipse cx="445.7" cy="267.3" rx="3.0" ry="2.6"/><ellipse cx="453.8" cy="271.1" rx="3.0" ry="2.6"/><ellipse cx="461.8" cy="273.9" rx="3.0" ry="2.6"/><ellipse cx="469.9" cy="270.9" rx="3.0" ry="2.6"/><ellipse cx="478" cy="270.8" rx="3.0" ry="2.6"/><ellipse cx="486" cy="267.8" rx="3.0" ry="2.6"/><ellipse cx="494.1" cy="264.2" rx="3.0" ry="2.6"/><ellipse cx="502.2" cy="264.4" rx="3.0" ry="2.6"/><ellipse cx="510.2" cy="265.3" rx="3.0" ry="2.6"/><ellipse cx="518.3" cy="260.5" rx="3.0" ry="2.6"/><ellipse cx="526.4" cy="261.3" rx="3.0" ry="2.6"/><ellipse cx="534.5" cy="263.4" rx="3.0" ry="2.6"/><ellipse cx="542.5" cy="263.4" rx="3.0" ry="2.6"/><ellipse cx="550.6" cy="300.3" rx="3.0" ry="2.6"/><ellipse cx="558.7" cy="285.9" rx="3.0" ry="2.6"/><ellipse cx="566.7" cy="284.7" rx="3.0" ry="2.6"/><ellipse cx="574.8" cy="274.9" rx="3.0" ry="2.6"/><ellipse cx="582.9" cy="267.3" rx="3.0" ry="2.6"/><ellipse cx="590.9" cy="262.5" rx="3.0" ry="2.6"/><ellipse cx="599" cy="260.1" rx="3.0" ry="2.6"/><ellipse cx="607.1" cy="258.5" rx="3.0" ry="2.6"/><ellipse cx="615.1" cy="256.6" rx="3.0" ry="2.6"/><ellipse cx="623.2" cy="250.2" rx="3.0" ry="2.6"/><ellipse cx="631.3" cy="252.4" rx="3.0" ry="2.6"/><ellipse cx="639.4" cy="251" rx="3.0" ry="2.6"/><ellipse cx="647.4" cy="255.4" rx="3.0" ry="2.6"/><ellipse cx="655.5" cy="252.5" rx="3.0" ry="2.6"/><ellipse cx="663.6" cy="250" rx="3.0" ry="2.6"/><ellipse cx="671.6" cy="248.6" rx="3.0" ry="2.6"/><ellipse cx="679.7" cy="253" rx="3.0" ry="2.6"/><ellipse cx="687.8" cy="252.5" rx="3.0" ry="2.6"/><ellipse cx="695.8" cy="253.9" rx="3.0" ry="2.6"/><ellipse cx="703.9" cy="260.2" rx="3.0" ry="2.6"/><ellipse cx="712" cy="262.1" rx="3.0" ry="2.6"/><ellipse cx="720" cy="267.8" rx="3.0" ry="2.6"/><ellipse cx="728.1" cy="271.8" rx="3.0" ry="2.6"/><ellipse cx="736.2" cy="276.6" rx="3.0" ry="2.6"/><ellipse cx="744.2" cy="285.4" rx="3.0" ry="2.6"/><ellipse cx="752.3" cy="288.3" rx="3.0" ry="2.6"/><ellipse cx="760.4" cy="299.1" rx="3.0" ry="2.6"/><ellipse cx="768.5" cy="301" rx="3.0" ry="2.6"/><ellipse cx="776.5" cy="299.1" rx="3.0" ry="2.6"/><ellipse cx="784.6" cy="298" rx="3.0" ry="2.6"/><ellipse cx="792.7" cy="300.1" rx="3.0" ry="2.6"/><ellipse cx="800.7" cy="297" rx="3.0" ry="2.6"/></g><path d="M195.6 301.7 L203.6 295.1 L211.7 305.8 L219.8 306.2 L227.8 299.5 L235.9 288.1 L244 283.1 L252.1 276.6 L260.1 272.3 L268.2 267.8 L276.3 265.7 L284.3 264.7 L292.4 264.6 L300.5 255.3 L308.5 255.9 L316.6 257.2 L324.7 254.2 L332.7 252.7 L340.8 258.4 L348.9 259.3 L356.9 261.4 L365 263.9 L373.1 266.8 L381.1 269.9 L389.2 277.9 L397.3 283.4 L405.4 292 L413.4 298.9 L421.5 264.6 L429.6 263.9 L437.6 266.7 L445.7 267.5 L453.8 273.4 L461.8 273.4 L469.9 271.3 L478 274 L486 267.9 L494.1 266.1 L502.2 262.2 L510.2 267.2 L518.3 267.5 L526.4 260.7 L534.5 262.1 L542.5 260.4 L550.6 298.8 L558.7 289.5 L566.7 286 L574.8 274.2 L582.9 269.9 L590.9 261.6 L599 260.7 L607.1 260.4 L615.1 258.2 L623.2 252.5 L631.3 252.4 L639.4 254.5 L647.4 253 L655.5 254 L663.6 252.7 L671.6 251.5 L679.7 251.9 L687.8 252 L695.8 255.8 L703.9 256.7 L712 260.9 L720 264.2 L728.1 269.6 L736.2 277.6 L744.2 283 L752.3 289.6 L760.4 299.8 L768.5 299.6 L776.5 300.7 L784.6 297.6 L792.7 299.6 L800.7 301.4" stroke="#712a38"/><g stroke="#712a38"><ellipse cx="195.6" cy="301.7" rx="3.0" ry="2.6"/><ellipse cx="203.6" cy="295.1" rx="3.0" ry="2.6"/><ellipse cx="211.7" cy="305.8" rx="3.0" ry="2.6"/><ellipse cx="219.8" cy="306.2" rx="3.0" ry="2.6"/><ellipse cx="227.8" cy="299.5" rx="3.0" ry="2.6"/><ellipse cx="235.9" cy="288.1" rx="3.0" ry="2.6"/><ellipse cx="244" cy="283.1" rx="3.0" ry="2.6"/><ellipse cx="252.1" cy="276.6" rx="3.0" ry="2.6"/><ellipse cx="260.1" cy="272.3" rx="3.0" ry="2.6"/><ellipse cx="268.2" cy="267.8" rx="3.0" ry="2.6"/><ellipse cx="276.3" cy="265.7" rx="3.0" ry="2.6"/><ellipse cx="284.3" cy="264.7" rx="3.0" ry="2.6"/><ellipse cx="292.4" cy="264.6" rx="3.0" ry="2.6"/><ellipse cx="300.5" cy="255.3" rx="3.0" ry="2.6"/><ellipse cx="308.5" cy="255.9" rx="3.0" ry="2.6"/><ellipse cx="316.6" cy="257.2" rx="3.0" ry="2.6"/><ellipse cx="324.7" cy="254.2" rx="3.0" ry="2.6"/><ellipse cx="332.7" cy="252.7" rx="3.0" ry="2.6"/><ellipse cx="340.8" cy="258.4" rx="3.0" ry="2.6"/><ellipse cx="348.9" cy="259.3" rx="3.0" ry="2.6"/><ellipse cx="356.9" cy="261.4" rx="3.0" ry="2.6"/><ellipse cx="365" cy="263.9" rx="3.0" ry="2.6"/><ellipse cx="373.1" cy="266.8" rx="3.0" ry="2.6"/><ellipse cx="381.1" cy="269.9" rx="3.0" ry="2.6"/><ellipse cx="389.2" cy="277.9" rx="3.0" ry="2.6"/><ellipse cx="397.3" cy="283.4" rx="3.0" ry="2.6"/><ellipse cx="405.4" cy="292" rx="3.0" ry="2.6"/><ellipse cx="413.4" cy="298.9" rx="3.0" ry="2.6"/><ellipse cx="421.5" cy="264.6" rx="3.0" ry="2.6"/><ellipse cx="429.6" cy="263.9" rx="3.0" ry="2.6"/><ellipse cx="437.6" cy="266.7" rx="3.0" ry="2.6"/><ellipse cx="445.7" cy="267.5" rx="3.0" ry="2.6"/><ellipse cx="453.8" cy="273.4" rx="3.0" ry="2.6"/><ellipse cx="461.8" cy="273.4" rx="3.0" ry="2.6"/><ellipse cx="469.9" cy="271.3" rx="3.0" ry="2.6"/><ellipse cx="478" cy="274" rx="3.0" ry="2.6"/><ellipse cx="486" cy="267.9" rx="3.0" ry="2.6"/><ellipse cx="494.1" cy="266.1" rx="3.0" ry="2.6"/><ellipse cx="502.2" cy="262.2" rx="3.0" ry="2.6"/><ellipse cx="510.2" cy="267.2" rx="3.0" ry="2.6"/><ellipse cx="518.3" cy="267.5" rx="3.0" ry="2.6"/><ellipse cx="526.4" cy="260.7" rx="3.0" ry="2.6"/><ellipse cx="534.5" cy="262.1" rx="3.0" ry="2.6"/><ellipse cx="542.5" cy="260.4" rx="3.0" ry="2.6"/><ellipse cx="550.6" cy="298.8" rx="3.0" ry="2.6"/><ellipse cx="558.7" cy="289.5" rx="3.0" ry="2.6"/><ellipse cx="566.7" cy="286" rx="3.0" ry="2.6"/><ellipse cx="574.8" cy="274.2" rx="3.0" ry="2.6"/><ellipse cx="582.9" cy="269.9" rx="3.0" ry="2.6"/><ellipse cx="590.9" cy="261.6" rx="3.0" ry="2.6"/><ellipse cx="599" cy="260.7" rx="3.0" ry="2.6"/><ellipse cx="607.1" cy="260.4" rx="3.0" ry="2.6"/><ellipse cx="615.1" cy="258.2" rx="3.0" ry="2.6"/><ellipse cx="623.2" cy="252.5" rx="3.0" ry="2.6"/><ellipse cx="631.3" cy="252.4" rx="3.0" ry="2.6"/><ellipse cx="639.4" cy="254.5" rx="3.0" ry="2.6"/><ellipse cx="647.4" cy="253" rx="3.0" ry="2.6"/><ellipse cx="655.5" cy="254" rx="3.0" ry="2.6"/><ellipse cx="663.6" cy="252.7" rx="3.0" ry="2.6"/><ellipse cx="671.6" cy="251.5" rx="3.0" ry="2.6"/><ellipse cx="679.7" cy="251.9" rx="3.0" ry="2.6"/><ellipse cx="687.8" cy="252" rx="3.0" ry="2.6"/><ellipse cx="695.8" cy="255.8" rx="3.0" ry="2.6"/><ellipse cx="703.9" cy="256.7" rx="3.0" ry="2.6"/><ellipse cx="712" cy="260.9" rx="3.0" ry="2.6"/><ellipse cx="720" cy="264.2" rx="3.0" ry="2.6"/><ellipse cx="728.1" cy="269.6" rx="3.0" ry="2.6"/><ellipse cx="736.2" cy="277.6" rx="3.0" ry="2.6"/><ellipse cx="744.2" cy="283" rx="3.0" ry="2.6"/><ellipse cx="752.3" cy="289.6" rx="3.0" ry="2.6"/><ellipse cx="760.4" cy="299.8" rx="3.0" ry="2.6"/><ellipse cx="768.5" cy="299.6" rx="3.0" ry="2.6"/><ellipse cx="776.5" cy="300.7" rx="3.0" ry="2.6"/><ellipse cx="784.6" cy="297.6" rx="3.0" ry="2.6"/><ellipse cx="792.7" cy="299.6" rx="3.0" ry="2.6"/><ellipse cx="800.7" cy="301.4" rx="3.0" ry="2.6"/></g><path d="M195.6 299.6 L203.6 299 L211.7 308.8 L219.8 310.2 L227.8 301.5 L235.9 288.8 L244 283.9 L252.1 274.8 L260.1 272.6 L268.2 270.5 L276.3 262.1 L284.3 262.9 L292.4 261.8 L300.5 258.3 L308.5 255.9 L316.6 252.8 L324.7 250.9 L332.7 249 L340.8 257 L348.9 258.9 L356.9 262.1 L365 261.4 L373.1 267.8 L381.1 269.2 L389.2 275.3 L397.3 281.2 L405.4 294.4 L413.4 297.8 L421.5 262.9 L429.6 264.5 L437.6 267.9 L445.7 267.1 L453.8 267.7 L461.8 273.4 L469.9 272.4 L478 274.2 L486 266.7 L494.1 263.7 L502.2 265.2 L510.2 268 L518.3 265.7 L526.4 261 L534.5 259.9 L542.5 262.1 L550.6 300.5 L558.7 291.5 L566.7 287.4 L574.8 274.6 L582.9 271.2 L590.9 261.7 L599 264.2 L607.1 259.7 L615.1 255.6 L623.2 256.2 L631.3 251 L639.4 254 L647.4 255.9 L655.5 252.3 L663.6 250.4 L671.6 255.2 L679.7 249.1 L687.8 254.1 L695.8 254.7 L703.9 263.6 L712 265.8 L720 268.2 L728.1 269.8 L736.2 280.7 L744.2 285.2 L752.3 292.9 L760.4 299.2 L768.5 299.1 L776.5 302.8 L784.6 301.9 L792.7 299.9 L800.7 297.9" stroke="#2c658a"/><g stroke="#2c658a"><ellipse cx="195.6" cy="299.6" rx="3.0" ry="2.6"/><ellipse cx="203.6" cy="299" rx="3.0" ry="2.6"/><ellipse cx="211.7" cy="308.8" rx="3.0" ry="2.6"/><ellipse cx="219.8" cy="310.2" rx="3.0" ry="2.6"/><ellipse cx="227.8" cy="301.5" rx="3.0" ry="2.6"/><ellipse cx="235.9" cy="288.8" rx="3.0" ry="2.6"/><ellipse cx="244" cy="283.9" rx="3.0" ry="2.6"/><ellipse cx="252.1" cy="274.8" rx="3.0" ry="2.6"/><ellipse cx="260.1" cy="272.6" rx="3.0" ry="2.6"/><ellipse cx="268.2" cy="270.5" rx="3.0" ry="2.6"/><ellipse cx="276.3" cy="262.1" rx="3.0" ry="2.6"/><ellipse cx="284.3" cy="262.9" rx="3.0" ry="2.6"/><ellipse cx="292.4" cy="261.8" rx="3.0" ry="2.6"/><ellipse cx="300.5" cy="258.3" rx="3.0" ry="2.6"/><ellipse cx="308.5" cy="255.9" rx="3.0" ry="2.6"/><ellipse cx="316.6" cy="252.8" rx="3.0" ry="2.6"/><ellipse cx="324.7" cy="250.9" rx="3.0" ry="2.6"/><ellipse cx="332.7" cy="249" rx="3.0" ry="2.6"/><ellipse cx="340.8" cy="257" rx="3.0" ry="2.6"/><ellipse cx="348.9" cy="258.9" rx="3.0" ry="2.6"/><ellipse cx="356.9" cy="262.1" rx="3.0" ry="2.6"/><ellipse cx="365" cy="261.4" rx="3.0" ry="2.6"/><ellipse cx="373.1" cy="267.8" rx="3.0" ry="2.6"/><ellipse cx="381.1" cy="269.2" rx="3.0" ry="2.6"/><ellipse cx="389.2" cy="275.3" rx="3.0" ry="2.6"/><ellipse cx="397.3" cy="281.2" rx="3.0" ry="2.6"/><ellipse cx="405.4" cy="294.4" rx="3.0" ry="2.6"/><ellipse cx="413.4" cy="297.8" rx="3.0" ry="2.6"/><ellipse cx="421.5" cy="262.9" rx="3.0" ry="2.6"/><ellipse cx="429.6" cy="264.5" rx="3.0" ry="2.6"/><ellipse cx="437.6" cy="267.9" rx="3.0" ry="2.6"/><ellipse cx="445.7" cy="267.1" rx="3.0" ry="2.6"/><ellipse cx="453.8" cy="267.7" rx="3.0" ry="2.6"/><ellipse cx="461.8" cy="273.4" rx="3.0" ry="2.6"/><ellipse cx="469.9" cy="272.4" rx="3.0" ry="2.6"/><ellipse cx="478" cy="274.2" rx="3.0" ry="2.6"/><ellipse cx="486" cy="266.7" rx="3.0" ry="2.6"/><ellipse cx="494.1" cy="263.7" rx="3.0" ry="2.6"/><ellipse cx="502.2" cy="265.2" rx="3.0" ry="2.6"/><ellipse cx="510.2" cy="268" rx="3.0" ry="2.6"/><ellipse cx="518.3" cy="265.7" rx="3.0" ry="2.6"/><ellipse cx="526.4" cy="261" rx="3.0" ry="2.6"/><ellipse cx="534.5" cy="259.9" rx="3.0" ry="2.6"/><ellipse cx="542.5" cy="262.1" rx="3.0" ry="2.6"/><ellipse cx="550.6" cy="300.5" rx="3.0" ry="2.6"/><ellipse cx="558.7" cy="291.5" rx="3.0" ry="2.6"/><ellipse cx="566.7" cy="287.4" rx="3.0" ry="2.6"/><ellipse cx="574.8" cy="274.6" rx="3.0" ry="2.6"/><ellipse cx="582.9" cy="271.2" rx="3.0" ry="2.6"/><ellipse cx="590.9" cy="261.7" rx="3.0" ry="2.6"/><ellipse cx="599" cy="264.2" rx="3.0" ry="2.6"/><ellipse cx="607.1" cy="259.7" rx="3.0" ry="2.6"/><ellipse cx="615.1" cy="255.6" rx="3.0" ry="2.6"/><ellipse cx="623.2" cy="256.2" rx="3.0" ry="2.6"/><ellipse cx="631.3" cy="251" rx="3.0" ry="2.6"/><ellipse cx="639.4" cy="254" rx="3.0" ry="2.6"/><ellipse cx="647.4" cy="255.9" rx="3.0" ry="2.6"/><ellipse cx="655.5" cy="252.3" rx="3.0" ry="2.6"/><ellipse cx="663.6" cy="250.4" rx="3.0" ry="2.6"/><ellipse cx="671.6" cy="255.2" rx="3.0" ry="2.6"/><ellipse cx="679.7" cy="249.1" rx="3.0" ry="2.6"/><ellipse cx="687.8" cy="254.1" rx="3.0" ry="2.6"/><ellipse cx="695.8" cy="254.7" rx="3.0" ry="2.6"/><ellipse cx="703.9" cy="263.6" rx="3.0" ry="2.6"/><ellipse cx="712" cy="265.8" rx="3.0" ry="2.6"/><ellipse cx="720" cy="268.2" rx="3.0" ry="2.6"/><ellipse cx="728.1" cy="269.8" rx="3.0" ry="2.6"/><ellipse cx="736.2" cy="280.7" rx="3.0" ry="2.6"/><ellipse cx="744.2" cy="285.2" rx="3.0" ry="2.6"/><ellipse cx="752.3" cy="292.9" rx="3.0" ry="2.6"/><ellipse cx="760.4" cy="299.2" rx="3.0" ry="2.6"/><ellipse cx="768.5" cy="299.1" rx="3.0" ry="2.6"/><ellipse cx="776.5" cy="302.8" rx="3.0" ry="2.6"/><ellipse cx="784.6" cy="301.9" rx="3.0" ry="2.6"/><ellipse cx="792.7" cy="299.9" rx="3.0" ry="2.6"/><ellipse cx="800.7" cy="297.9" rx="3.0" ry="2.6"/></g><path d="M195.6 298.5 L203.6 298.8 L211.7 307 L219.8 307.8 L227.8 296.3 L235.9 288.3 L244 279.2 L252.1 275.9 L260.1 272.9 L268.2 265.8 L276.3 261.4 L284.3 261.4 L292.4 261.8 L300.5 259.4 L308.5 255.1 L316.6 252.3 L324.7 252.6 L332.7 253 L340.8 254.4 L348.9 256.9 L356.9 257.8 L365 260.4 L373.1 261.1 L381.1 270.2 L389.2 273.9 L397.3 284 L405.4 289.8 L413.4 297.9 L421.5 259.6 L429.6 259.8 L437.6 264 L445.7 265.5 L453.8 267.5 L461.8 270.5 L469.9 270.5 L478 273.4 L486 269.3 L494.1 264.3 L502.2 262.7 L510.2 259.8 L518.3 261.7 L526.4 260.2 L534.5 263.1 L542.5 261.3 L550.6 298.2 L558.7 288.7 L566.7 284.4 L574.8 271.7 L582.9 268.6 L590.9 260.1 L599 262.8 L607.1 255.8 L615.1 254 L623.2 252.8 L631.3 249.7 L639.4 251.9 L647.4 251.9 L655.5 255.2 L663.6 251.6 L671.6 253.6 L679.7 249.7 L687.8 252.9 L695.8 254.9 L703.9 260.2 L712 263.9 L720 262.7 L728.1 267 L736.2 276.6 L744.2 279.6 L752.3 290.9 L760.4 300.4 L768.5 299.1 L776.5 299.8 L784.6 300.2 L792.7 298.9 L800.7 295.9" stroke="#a66346"/><g stroke="#a66346"><ellipse cx="195.6" cy="298.5" rx="3.0" ry="2.6"/><ellipse cx="203.6" cy="298.8" rx="3.0" ry="2.6"/><ellipse cx="211.7" cy="307" rx="3.0" ry="2.6"/><ellipse cx="219.8" cy="307.8" rx="3.0" ry="2.6"/><ellipse cx="227.8" cy="296.3" rx="3.0" ry="2.6"/><ellipse cx="235.9" cy="288.3" rx="3.0" ry="2.6"/><ellipse cx="244" cy="279.2" rx="3.0" ry="2.6"/><ellipse cx="252.1" cy="275.9" rx="3.0" ry="2.6"/><ellipse cx="260.1" cy="272.9" rx="3.0" ry="2.6"/><ellipse cx="268.2" cy="265.8" rx="3.0" ry="2.6"/><ellipse cx="276.3" cy="261.4" rx="3.0" ry="2.6"/><ellipse cx="284.3" cy="261.4" rx="3.0" ry="2.6"/><ellipse cx="292.4" cy="261.8" rx="3.0" ry="2.6"/><ellipse cx="300.5" cy="259.4" rx="3.0" ry="2.6"/><ellipse cx="308.5" cy="255.1" rx="3.0" ry="2.6"/><ellipse cx="316.6" cy="252.3" rx="3.0" ry="2.6"/><ellipse cx="324.7" cy="252.6" rx="3.0" ry="2.6"/><ellipse cx="332.7" cy="253" rx="3.0" ry="2.6"/><ellipse cx="340.8" cy="254.4" rx="3.0" ry="2.6"/><ellipse cx="348.9" cy="256.9" rx="3.0" ry="2.6"/><ellipse cx="356.9" cy="257.8" rx="3.0" ry="2.6"/><ellipse cx="365" cy="260.4" rx="3.0" ry="2.6"/><ellipse cx="373.1" cy="261.1" rx="3.0" ry="2.6"/><ellipse cx="381.1" cy="270.2" rx="3.0" ry="2.6"/><ellipse cx="389.2" cy="273.9" rx="3.0" ry="2.6"/><ellipse cx="397.3" cy="284" rx="3.0" ry="2.6"/><ellipse cx="405.4" cy="289.8" rx="3.0" ry="2.6"/><ellipse cx="413.4" cy="297.9" rx="3.0" ry="2.6"/><ellipse cx="421.5" cy="259.6" rx="3.0" ry="2.6"/><ellipse cx="429.6" cy="259.8" rx="3.0" ry="2.6"/><ellipse cx="437.6" cy="264" rx="3.0" ry="2.6"/><ellipse cx="445.7" cy="265.5" rx="3.0" ry="2.6"/><ellipse cx="453.8" cy="267.5" rx="3.0" ry="2.6"/><ellipse cx="461.8" cy="270.5" rx="3.0" ry="2.6"/><ellipse cx="469.9" cy="270.5" rx="3.0" ry="2.6"/><ellipse cx="478" cy="273.4" rx="3.0" ry="2.6"/><ellipse cx="486" cy="269.3" rx="3.0" ry="2.6"/><ellipse cx="494.1" cy="264.3" rx="3.0" ry="2.6"/><ellipse cx="502.2" cy="262.7" rx="3.0" ry="2.6"/><ellipse cx="510.2" cy="259.8" rx="3.0" ry="2.6"/><ellipse cx="518.3" cy="261.7" rx="3.0" ry="2.6"/><ellipse cx="526.4" cy="260.2" rx="3.0" ry="2.6"/><ellipse cx="534.5" cy="263.1" rx="3.0" ry="2.6"/><ellipse cx="542.5" cy="261.3" rx="3.0" ry="2.6"/><ellipse cx="550.6" cy="298.2" rx="3.0" ry="2.6"/><ellipse cx="558.7" cy="288.7" rx="3.0" ry="2.6"/><ellipse cx="566.7" cy="284.4" rx="3.0" ry="2.6"/><ellipse cx="574.8" cy="271.7" rx="3.0" ry="2.6"/><ellipse cx="582.9" cy="268.6" rx="3.0" ry="2.6"/><ellipse cx="590.9" cy="260.1" rx="3.0" ry="2.6"/><ellipse cx="599" cy="262.8" rx="3.0" ry="2.6"/><ellipse cx="607.1" cy="255.8" rx="3.0" ry="2.6"/><ellipse cx="615.1" cy="254" rx="3.0" ry="2.6"/><ellipse cx="623.2" cy="252.8" rx="3.0" ry="2.6"/><ellipse cx="631.3" cy="249.7" rx="3.0" ry="2.6"/><ellipse cx="639.4" cy="251.9" rx="3.0" ry="2.6"/><ellipse cx="647.4" cy="251.9" rx="3.0" ry="2.6"/><ellipse cx="655.5" cy="255.2" rx="3.0" ry="2.6"/><ellipse cx="663.6" cy="251.6" rx="3.0" ry="2.6"/><ellipse cx="671.6" cy="253.6" rx="3.0" ry="2.6"/><ellipse cx="679.7" cy="249.7" rx="3.0" ry="2.6"/><ellipse cx="687.8" cy="252.9" rx="3.0" ry="2.6"/><ellipse cx="695.8" cy="254.9" rx="3.0" ry="2.6"/><ellipse cx="703.9" cy="260.2" rx="3.0" ry="2.6"/><ellipse cx="712" cy="263.9" rx="3.0" ry="2.6"/><ellipse cx="720" cy="262.7" rx="3.0" ry="2.6"/><ellipse cx="728.1" cy="267" rx="3.0" ry="2.6"/><ellipse cx="736.2" cy="276.6" rx="3.0" ry="2.6"/><ellipse cx="744.2" cy="279.6" rx="3.0" ry="2.6"/><ellipse cx="752.3" cy="290.9" rx="3.0" ry="2.6"/><ellipse cx="760.4" cy="300.4" rx="3.0" ry="2.6"/><ellipse cx="768.5" cy="299.1" rx="3.0" ry="2.6"/><ellipse cx="776.5" cy="299.8" rx="3.0" ry="2.6"/><ellipse cx="784.6" cy="300.2" rx="3.0" ry="2.6"/><ellipse cx="792.7" cy="298.9" rx="3.0" ry="2.6"/><ellipse cx="800.7" cy="295.9" rx="3.0" ry="2.6"/></g><path d="M195.6 298.8 L203.6 297.1 L211.7 306.3 L219.8 305.8 L227.8 294.3 L235.9 291.5 L244 282.9 L252.1 277.9 L260.1 271.3 L268.2 272.4 L276.3 267.3 L284.3 265.8 L292.4 260.5 L300.5 256.7 L308.5 254 L316.6 258.2 L324.7 252.8 L332.7 252.9 L340.8 258.3 L348.9 260 L356.9 258.6 L365 261.5 L373.1 264.7 L381.1 268.7 L389.2 277.8 L397.3 283.1 L405.4 292 L413.4 298.1 L421.5 261.1 L429.6 262.8 L437.6 265.1 L445.7 269.7 L453.8 266.8 L461.8 270.7 L469.9 269.6 L478 269.7 L486 266.8 L494.1 267.7 L502.2 262.3 L510.2 262.6 L518.3 260.6 L526.4 260.1 L534.5 261.1 L542.5 263.1 L550.6 300.2 L558.7 289.5 L566.7 282.5 L574.8 277.5 L582.9 269.3 L590.9 263.8 L599 260.3 L607.1 256.2 L615.1 256 L623.2 256.4 L631.3 249.5 L639.4 250.5 L647.4 253.3 L655.5 251 L663.6 250.5 L671.6 250.1 L679.7 250.9 L687.8 255.8 L695.8 254.4 L703.9 257.8 L712 265.5 L720 263.7 L728.1 267.9 L736.2 274.1 L744.2 279.6 L752.3 287.6 L760.4 298.7 L768.5 300.2 L776.5 300.6 L784.6 300 L792.7 300.3 L800.7 299" stroke="#cfb169"/><g stroke="#cfb169"><ellipse cx="195.6" cy="298.8" rx="3.0" ry="2.6"/><ellipse cx="203.6" cy="297.1" rx="3.0" ry="2.6"/><ellipse cx="211.7" cy="306.3" rx="3.0" ry="2.6"/><ellipse cx="219.8" cy="305.8" rx="3.0" ry="2.6"/><ellipse cx="227.8" cy="294.3" rx="3.0" ry="2.6"/><ellipse cx="235.9" cy="291.5" rx="3.0" ry="2.6"/><ellipse cx="244" cy="282.9" rx="3.0" ry="2.6"/><ellipse cx="252.1" cy="277.9" rx="3.0" ry="2.6"/><ellipse cx="260.1" cy="271.3" rx="3.0" ry="2.6"/><ellipse cx="268.2" cy="272.4" rx="3.0" ry="2.6"/><ellipse cx="276.3" cy="267.3" rx="3.0" ry="2.6"/><ellipse cx="284.3" cy="265.8" rx="3.0" ry="2.6"/><ellipse cx="292.4" cy="260.5" rx="3.0" ry="2.6"/><ellipse cx="300.5" cy="256.7" rx="3.0" ry="2.6"/><ellipse cx="308.5" cy="254" rx="3.0" ry="2.6"/><ellipse cx="316.6" cy="258.2" rx="3.0" ry="2.6"/><ellipse cx="324.7" cy="252.8" rx="3.0" ry="2.6"/><ellipse cx="332.7" cy="252.9" rx="3.0" ry="2.6"/><ellipse cx="340.8" cy="258.3" rx="3.0" ry="2.6"/><ellipse cx="348.9" cy="260" rx="3.0" ry="2.6"/><ellipse cx="356.9" cy="258.6" rx="3.0" ry="2.6"/><ellipse cx="365" cy="261.5" rx="3.0" ry="2.6"/><ellipse cx="373.1" cy="264.7" rx="3.0" ry="2.6"/><ellipse cx="381.1" cy="268.7" rx="3.0" ry="2.6"/><ellipse cx="389.2" cy="277.8" rx="3.0" ry="2.6"/><ellipse cx="397.3" cy="283.1" rx="3.0" ry="2.6"/><ellipse cx="405.4" cy="292" rx="3.0" ry="2.6"/><ellipse cx="413.4" cy="298.1" rx="3.0" ry="2.6"/><ellipse cx="421.5" cy="261.1" rx="3.0" ry="2.6"/><ellipse cx="429.6" cy="262.8" rx="3.0" ry="2.6"/><ellipse cx="437.6" cy="265.1" rx="3.0" ry="2.6"/><ellipse cx="445.7" cy="269.7" rx="3.0" ry="2.6"/><ellipse cx="453.8" cy="266.8" rx="3.0" ry="2.6"/><ellipse cx="461.8" cy="270.7" rx="3.0" ry="2.6"/><ellipse cx="469.9" cy="269.6" rx="3.0" ry="2.6"/><ellipse cx="478" cy="269.7" rx="3.0" ry="2.6"/><ellipse cx="486" cy="266.8" rx="3.0" ry="2.6"/><ellipse cx="494.1" cy="267.7" rx="3.0" ry="2.6"/><ellipse cx="502.2" cy="262.3" rx="3.0" ry="2.6"/><ellipse cx="510.2" cy="262.6" rx="3.0" ry="2.6"/><ellipse cx="518.3" cy="260.6" rx="3.0" ry="2.6"/><ellipse cx="526.4" cy="260.1" rx="3.0" ry="2.6"/><ellipse cx="534.5" cy="261.1" rx="3.0" ry="2.6"/><ellipse cx="542.5" cy="263.1" rx="3.0" ry="2.6"/><ellipse cx="550.6" cy="300.2" rx="3.0" ry="2.6"/><ellipse cx="558.7" cy="289.5" rx="3.0" ry="2.6"/><ellipse cx="566.7" cy="282.5" rx="3.0" ry="2.6"/><ellipse cx="574.8" cy="277.5" rx="3.0" ry="2.6"/><ellipse cx="582.9" cy="269.3" rx="3.0" ry="2.6"/><ellipse cx="590.9" cy="263.8" rx="3.0" ry="2.6"/><ellipse cx="599" cy="260.3" rx="3.0" ry="2.6"/><ellipse cx="607.1" cy="256.2" rx="3.0" ry="2.6"/><ellipse cx="615.1" cy="256" rx="3.0" ry="2.6"/><ellipse cx="623.2" cy="256.4" rx="3.0" ry="2.6"/><ellipse cx="631.3" cy="249.5" rx="3.0" ry="2.6"/><ellipse cx="639.4" cy="250.5" rx="3.0" ry="2.6"/><ellipse cx="647.4" cy="253.3" rx="3.0" ry="2.6"/><ellipse cx="655.5" cy="251" rx="3.0" ry="2.6"/><ellipse cx="663.6" cy="250.5" rx="3.0" ry="2.6"/><ellipse cx="671.6" cy="250.1" rx="3.0" ry="2.6"/><ellipse cx="679.7" cy="250.9" rx="3.0" ry="2.6"/><ellipse cx="687.8" cy="255.8" rx="3.0" ry="2.6"/><ellipse cx="695.8" cy="254.4" rx="3.0" ry="2.6"/><ellipse cx="703.9" cy="257.8" rx="3.0" ry="2.6"/><ellipse cx="712" cy="265.5" rx="3.0" ry="2.6"/><ellipse cx="720" cy="263.7" rx="3.0" ry="2.6"/><ellipse cx="728.1" cy="267.9" rx="3.0" ry="2.6"/><ellipse cx="736.2" cy="274.1" rx="3.0" ry="2.6"/><ellipse cx="744.2" cy="279.6" rx="3.0" ry="2.6"/><ellipse cx="752.3" cy="287.6" rx="3.0" ry="2.6"/><ellipse cx="760.4" cy="298.7" rx="3.0" ry="2.6"/><ellipse cx="768.5" cy="300.2" rx="3.0" ry="2.6"/><ellipse cx="776.5" cy="300.6" rx="3.0" ry="2.6"/><ellipse cx="784.6" cy="300" rx="3.0" ry="2.6"/><ellipse cx="792.7" cy="300.3" rx="3.0" ry="2.6"/><ellipse cx="800.7" cy="299" rx="3.0" ry="2.6"/></g><path d="M195.6 296.2 L203.6 294.9 L211.7 306.9 L219.8 306.9 L227.8 297.3 L235.9 289.3 L244 284.2 L252.1 278.3 L260.1 274.1 L268.2 269.9 L276.3 264.8 L284.3 262.6 L292.4 263.7 L300.5 257.6 L308.5 254.7 L316.6 254.5 L324.7 254.6 L332.7 251.4 L340.8 254.6 L348.9 257.9 L356.9 261.2 L365 264.1 L373.1 265.7 L381.1 268.9 L389.2 274.4 L397.3 284.1 L405.4 293.9 L413.4 299.1 L421.5 261.2 L429.6 264.8 L437.6 266.9 L445.7 269.4 L453.8 269.5 L461.8 274.5 L469.9 272.9 L478 272.7 L486 272.2 L494.1 265.3 L502.2 263.6 L510.2 264.9 L518.3 266.3 L526.4 263.3 L534.5 263.8 L542.5 261 L550.6 300.8 L558.7 288.6 L566.7 287.1 L574.8 276.5 L582.9 269.2 L590.9 261.9 L599 262.2 L607.1 256.4 L615.1 257.1 L623.2 253.4 L631.3 249.3 L639.4 254.7 L647.4 252.9 L655.5 255.2 L663.6 250.1 L671.6 249.7 L679.7 252.4 L687.8 257.1 L695.8 255.4 L703.9 258.2 L712 262.5 L720 266.1 L728.1 275.1 L736.2 279.3 L744.2 280.9 L752.3 291.8 L760.4 296.6 L768.5 296.5 L776.5 298.4 L784.6 298.8 L792.7 301.4 L800.7 303.1" stroke="#67406f"/><g stroke="#67406f"><ellipse cx="195.6" cy="296.2" rx="3.0" ry="2.6"/><ellipse cx="203.6" cy="294.9" rx="3.0" ry="2.6"/><ellipse cx="211.7" cy="306.9" rx="3.0" ry="2.6"/><ellipse cx="219.8" cy="306.9" rx="3.0" ry="2.6"/><ellipse cx="227.8" cy="297.3" rx="3.0" ry="2.6"/><ellipse cx="235.9" cy="289.3" rx="3.0" ry="2.6"/><ellipse cx="244" cy="284.2" rx="3.0" ry="2.6"/><ellipse cx="252.1" cy="278.3" rx="3.0" ry="2.6"/><ellipse cx="260.1" cy="274.1" rx="3.0" ry="2.6"/><ellipse cx="268.2" cy="269.9" rx="3.0" ry="2.6"/><ellipse cx="276.3" cy="264.8" rx="3.0" ry="2.6"/><ellipse cx="284.3" cy="262.6" rx="3.0" ry="2.6"/><ellipse cx="292.4" cy="263.7" rx="3.0" ry="2.6"/><ellipse cx="300.5" cy="257.6" rx="3.0" ry="2.6"/><ellipse cx="308.5" cy="254.7" rx="3.0" ry="2.6"/><ellipse cx="316.6" cy="254.5" rx="3.0" ry="2.6"/><ellipse cx="324.7" cy="254.6" rx="3.0" ry="2.6"/><ellipse cx="332.7" cy="251.4" rx="3.0" ry="2.6"/><ellipse cx="340.8" cy="254.6" rx="3.0" ry="2.6"/><ellipse cx="348.9" cy="257.9" rx="3.0" ry="2.6"/><ellipse cx="356.9" cy="261.2" rx="3.0" ry="2.6"/><ellipse cx="365" cy="264.1" rx="3.0" ry="2.6"/><ellipse cx="373.1" cy="265.7" rx="3.0" ry="2.6"/><ellipse cx="381.1" cy="268.9" rx="3.0" ry="2.6"/><ellipse cx="389.2" cy="274.4" rx="3.0" ry="2.6"/><ellipse cx="397.3" cy="284.1" rx="3.0" ry="2.6"/><ellipse cx="405.4" cy="293.9" rx="3.0" ry="2.6"/><ellipse cx="413.4" cy="299.1" rx="3.0" ry="2.6"/><ellipse cx="421.5" cy="261.2" rx="3.0" ry="2.6"/><ellipse cx="429.6" cy="264.8" rx="3.0" ry="2.6"/><ellipse cx="437.6" cy="266.9" rx="3.0" ry="2.6"/><ellipse cx="445.7" cy="269.4" rx="3.0" ry="2.6"/><ellipse cx="453.8" cy="269.5" rx="3.0" ry="2.6"/><ellipse cx="461.8" cy="274.5" rx="3.0" ry="2.6"/><ellipse cx="469.9" cy="272.9" rx="3.0" ry="2.6"/><ellipse cx="478" cy="272.7" rx="3.0" ry="2.6"/><ellipse cx="486" cy="272.2" rx="3.0" ry="2.6"/><ellipse cx="494.1" cy="265.3" rx="3.0" ry="2.6"/><ellipse cx="502.2" cy="263.6" rx="3.0" ry="2.6"/><ellipse cx="510.2" cy="264.9" rx="3.0" ry="2.6"/><ellipse cx="518.3" cy="266.3" rx="3.0" ry="2.6"/><ellipse cx="526.4" cy="263.3" rx="3.0" ry="2.6"/><ellipse cx="534.5" cy="263.8" rx="3.0" ry="2.6"/><ellipse cx="542.5" cy="261" rx="3.0" ry="2.6"/><ellipse cx="550.6" cy="300.8" rx="3.0" ry="2.6"/><ellipse cx="558.7" cy="288.6" rx="3.0" ry="2.6"/><ellipse cx="566.7" cy="287.1" rx="3.0" ry="2.6"/><ellipse cx="574.8" cy="276.5" rx="3.0" ry="2.6"/><ellipse cx="582.9" cy="269.2" rx="3.0" ry="2.6"/><ellipse cx="590.9" cy="261.9" rx="3.0" ry="2.6"/><ellipse cx="599" cy="262.2" rx="3.0" ry="2.6"/><ellipse cx="607.1" cy="256.4" rx="3.0" ry="2.6"/><ellipse cx="615.1" cy="257.1" rx="3.0" ry="2.6"/><ellipse cx="623.2" cy="253.4" rx="3.0" ry="2.6"/><ellipse cx="631.3" cy="249.3" rx="3.0" ry="2.6"/><ellipse cx="639.4" cy="254.7" rx="3.0" ry="2.6"/><ellipse cx="647.4" cy="252.9" rx="3.0" ry="2.6"/><ellipse cx="655.5" cy="255.2" rx="3.0" ry="2.6"/><ellipse cx="663.6" cy="250.1" rx="3.0" ry="2.6"/><ellipse cx="671.6" cy="249.7" rx="3.0" ry="2.6"/><ellipse cx="679.7" cy="252.4" rx="3.0" ry="2.6"/><ellipse cx="687.8" cy="257.1" rx="3.0" ry="2.6"/><ellipse cx="695.8" cy="255.4" rx="3.0" ry="2.6"/><ellipse cx="703.9" cy="258.2" rx="3.0" ry="2.6"/><ellipse cx="712" cy="262.5" rx="3.0" ry="2.6"/><ellipse cx="720" cy="266.1" rx="3.0" ry="2.6"/><ellipse cx="728.1" cy="275.1" rx="3.0" ry="2.6"/><ellipse cx="736.2" cy="279.3" rx="3.0" ry="2.6"/><ellipse cx="744.2" cy="280.9" rx="3.0" ry="2.6"/><ellipse cx="752.3" cy="291.8" rx="3.0" ry="2.6"/><ellipse cx="760.4" cy="296.6" rx="3.0" ry="2.6"/><ellipse cx="768.5" cy="296.5" rx="3.0" ry="2.6"/><ellipse cx="776.5" cy="298.4" rx="3.0" ry="2.6"/><ellipse cx="784.6" cy="298.8" rx="3.0" ry="2.6"/><ellipse cx="792.7" cy="301.4" rx="3.0" ry="2.6"/><ellipse cx="800.7" cy="303.1" rx="3.0" ry="2.6"/></g><path d="M195.6 298.8 L203.6 297.3 L211.7 304.5 L219.8 307.4 L227.8 296.8 L235.9 288 L244 282.8 L252.1 273.7 L260.1 270.7 L268.2 269 L276.3 264.1 L284.3 263.3 L292.4 258.6 L300.5 256.4 L308.5 255.7 L316.6 255.6 L324.7 251.9 L332.7 252 L340.8 253.3 L348.9 260.1 L356.9 258.6 L365 261.9 L373.1 266.4 L381.1 269.1 L389.2 276.4 L397.3 281.9 L405.4 292.5 L413.4 298.2 L421.5 263.6 L429.6 264.1 L437.6 263 L445.7 266.2 L453.8 269.7 L461.8 272.4 L469.9 268 L478 275.9 L486 270.4 L494.1 263.3 L502.2 262 L510.2 265.6 L518.3 266.7 L526.4 259.5 L534.5 261.8 L542.5 262.2 L550.6 298.1 L558.7 287.9 L566.7 286.3 L574.8 273.2 L582.9 266.8 L590.9 265.9 L599 258.6 L607.1 259.6 L615.1 253 L623.2 253 L631.3 248.1 L639.4 254.1 L647.4 252.7 L655.5 250.5 L663.6 252.1 L671.6 252.2 L679.7 252.1 L687.8 254.2 L695.8 257 L703.9 258.4 L712 262.4 L720 266.4 L728.1 267.6 L736.2 277.6 L744.2 280.1 L752.3 289.5 L760.4 296.3 L768.5 302 L776.5 298.4 L784.6 300.1 L792.7 300.7 L800.7 300.9" stroke="#829d5f"/><g stroke="#829d5f"><ellipse cx="195.6" cy="298.8" rx="3.0" ry="2.6"/><ellipse cx="203.6" cy="297.3" rx="3.0" ry="2.6"/><ellipse cx="211.7" cy="304.5" rx="3.0" ry="2.6"/><ellipse cx="219.8" cy="307.4" rx="3.0" ry="2.6"/><ellipse cx="227.8" cy="296.8" rx="3.0" ry="2.6"/><ellipse cx="235.9" cy="288" rx="3.0" ry="2.6"/><ellipse cx="244" cy="282.8" rx="3.0" ry="2.6"/><ellipse cx="252.1" cy="273.7" rx="3.0" ry="2.6"/><ellipse cx="260.1" cy="270.7" rx="3.0" ry="2.6"/><ellipse cx="268.2" cy="269" rx="3.0" ry="2.6"/><ellipse cx="276.3" cy="264.1" rx="3.0" ry="2.6"/><ellipse cx="284.3" cy="263.3" rx="3.0" ry="2.6"/><ellipse cx="292.4" cy="258.6" rx="3.0" ry="2.6"/><ellipse cx="300.5" cy="256.4" rx="3.0" ry="2.6"/><ellipse cx="308.5" cy="255.7" rx="3.0" ry="2.6"/><ellipse cx="316.6" cy="255.6" rx="3.0" ry="2.6"/><ellipse cx="324.7" cy="251.9" rx="3.0" ry="2.6"/><ellipse cx="332.7" cy="252" rx="3.0" ry="2.6"/><ellipse cx="340.8" cy="253.3" rx="3.0" ry="2.6"/><ellipse cx="348.9" cy="260.1" rx="3.0" ry="2.6"/><ellipse cx="356.9" cy="258.6" rx="3.0" ry="2.6"/><ellipse cx="365" cy="261.9" rx="3.0" ry="2.6"/><ellipse cx="373.1" cy="266.4" rx="3.0" ry="2.6"/><ellipse cx="381.1" cy="269.1" rx="3.0" ry="2.6"/><ellipse cx="389.2" cy="276.4" rx="3.0" ry="2.6"/><ellipse cx="397.3" cy="281.9" rx="3.0" ry="2.6"/><ellipse cx="405.4" cy="292.5" rx="3.0" ry="2.6"/><ellipse cx="413.4" cy="298.2" rx="3.0" ry="2.6"/><ellipse cx="421.5" cy="263.6" rx="3.0" ry="2.6"/><ellipse cx="429.6" cy="264.1" rx="3.0" ry="2.6"/><ellipse cx="437.6" cy="263" rx="3.0" ry="2.6"/><ellipse cx="445.7" cy="266.2" rx="3.0" ry="2.6"/><ellipse cx="453.8" cy="269.7" rx="3.0" ry="2.6"/><ellipse cx="461.8" cy="272.4" rx="3.0" ry="2.6"/><ellipse cx="469.9" cy="268" rx="3.0" ry="2.6"/><ellipse cx="478" cy="275.9" rx="3.0" ry="2.6"/><ellipse cx="486" cy="270.4" rx="3.0" ry="2.6"/><ellipse cx="494.1" cy="263.3" rx="3.0" ry="2.6"/><ellipse cx="502.2" cy="262" rx="3.0" ry="2.6"/><ellipse cx="510.2" cy="265.6" rx="3.0" ry="2.6"/><ellipse cx="518.3" cy="266.7" rx="3.0" ry="2.6"/><ellipse cx="526.4" cy="259.5" rx="3.0" ry="2.6"/><ellipse cx="534.5" cy="261.8" rx="3.0" ry="2.6"/><ellipse cx="542.5" cy="262.2" rx="3.0" ry="2.6"/><ellipse cx="550.6" cy="298.1" rx="3.0" ry="2.6"/><ellipse cx="558.7" cy="287.9" rx="3.0" ry="2.6"/><ellipse cx="566.7" cy="286.3" rx="3.0" ry="2.6"/><ellipse cx="574.8" cy="273.2" rx="3.0" ry="2.6"/><ellipse cx="582.9" cy="266.8" rx="3.0" ry="2.6"/><ellipse cx="590.9" cy="265.9" rx="3.0" ry="2.6"/><ellipse cx="599" cy="258.6" rx="3.0" ry="2.6"/><ellipse cx="607.1" cy="259.6" rx="3.0" ry="2.6"/><ellipse cx="615.1" cy="253" rx="3.0" ry="2.6"/><ellipse cx="623.2" cy="253" rx="3.0" ry="2.6"/><ellipse cx="631.3" cy="248.1" rx="3.0" ry="2.6"/><ellipse cx="639.4" cy="254.1" rx="3.0" ry="2.6"/><ellipse cx="647.4" cy="252.7" rx="3.0" ry="2.6"/><ellipse cx="655.5" cy="250.5" rx="3.0" ry="2.6"/><ellipse cx="663.6" cy="252.1" rx="3.0" ry="2.6"/><ellipse cx="671.6" cy="252.2" rx="3.0" ry="2.6"/><ellipse cx="679.7" cy="252.1" rx="3.0" ry="2.6"/><ellipse cx="687.8" cy="254.2" rx="3.0" ry="2.6"/><ellipse cx="695.8" cy="257" rx="3.0" ry="2.6"/><ellipse cx="703.9" cy="258.4" rx="3.0" ry="2.6"/><ellipse cx="712" cy="262.4" rx="3.0" ry="2.6"/><ellipse cx="720" cy="266.4" rx="3.0" ry="2.6"/><ellipse cx="728.1" cy="267.6" rx="3.0" ry="2.6"/><ellipse cx="736.2" cy="277.6" rx="3.0" ry="2.6"/><ellipse cx="744.2" cy="280.1" rx="3.0" ry="2.6"/><ellipse cx="752.3" cy="289.5" rx="3.0" ry="2.6"/><ellipse cx="760.4" cy="296.3" rx="3.0" ry="2.6"/><ellipse cx="768.5" cy="302" rx="3.0" ry="2.6"/><ellipse cx="776.5" cy="298.4" rx="3.0" ry="2.6"/><ellipse cx="784.6" cy="300.1" rx="3.0" ry="2.6"/><ellipse cx="792.7" cy="300.7" rx="3.0" ry="2.6"/><ellipse cx="800.7" cy="300.9" rx="3.0" ry="2.6"/></g><path d="M195.6 300 L203.6 300.6 L211.7 307.1 L219.8 308.3 L227.8 298.3 L235.9 290.9 L244 283.2 L252.1 275.8 L260.1 272.2 L268.2 270.3 L276.3 261.4 L284.3 260.5 L292.4 259.6 L300.5 254.7 L308.5 254.5 L316.6 255 L324.7 249.8 L332.7 252.3 L340.8 255.7 L348.9 257.4 L356.9 259 L365 262.8 L373.1 262.6 L381.1 269.7 L389.2 275.1 L397.3 281 L405.4 290.7 L413.4 297.6 L421.5 262.9 L429.6 264.7 L437.6 265.8 L445.7 267.5 L453.8 267.1 L461.8 273.7 L469.9 269.6 L478 274.3 L486 270.4 L494.1 265.2 L502.2 262.1 L510.2 263.5 L518.3 261.5 L526.4 264.1 L534.5 260.7 L542.5 259 L550.6 298.3 L558.7 288.9 L566.7 284.3 L574.8 277.4 L582.9 269.1 L590.9 264 L599 256.9 L607.1 257.4 L615.1 252.2 L623.2 253.6 L631.3 251 L639.4 251.8 L647.4 254.3 L655.5 251 L663.6 250.4 L671.6 253.8 L679.7 250.5 L687.8 253.2 L695.8 254.4 L703.9 256.5 L712 264.4 L720 265.8 L728.1 269.6 L736.2 278.9 L744.2 280.5 L752.3 291.4 L760.4 300.3 L768.5 298 L776.5 300.9 L784.6 300.2 L792.7 303 L800.7 299.8" stroke="#77afc7"/><g stroke="#77afc7"><ellipse cx="195.6" cy="300" rx="3.0" ry="2.6"/><ellipse cx="203.6" cy="300.6" rx="3.0" ry="2.6"/><ellipse cx="211.7" cy="307.1" rx="3.0" ry="2.6"/><ellipse cx="219.8" cy="308.3" rx="3.0" ry="2.6"/><ellipse cx="227.8" cy="298.3" rx="3.0" ry="2.6"/><ellipse cx="235.9" cy="290.9" rx="3.0" ry="2.6"/><ellipse cx="244" cy="283.2" rx="3.0" ry="2.6"/><ellipse cx="252.1" cy="275.8" rx="3.0" ry="2.6"/><ellipse cx="260.1" cy="272.2" rx="3.0" ry="2.6"/><ellipse cx="268.2" cy="270.3" rx="3.0" ry="2.6"/><ellipse cx="276.3" cy="261.4" rx="3.0" ry="2.6"/><ellipse cx="284.3" cy="260.5" rx="3.0" ry="2.6"/><ellipse cx="292.4" cy="259.6" rx="3.0" ry="2.6"/><ellipse cx="300.5" cy="254.7" rx="3.0" ry="2.6"/><ellipse cx="308.5" cy="254.5" rx="3.0" ry="2.6"/><ellipse cx="316.6" cy="255" rx="3.0" ry="2.6"/><ellipse cx="324.7" cy="249.8" rx="3.0" ry="2.6"/><ellipse cx="332.7" cy="252.3" rx="3.0" ry="2.6"/><ellipse cx="340.8" cy="255.7" rx="3.0" ry="2.6"/><ellipse cx="348.9" cy="257.4" rx="3.0" ry="2.6"/><ellipse cx="356.9" cy="259" rx="3.0" ry="2.6"/><ellipse cx="365" cy="262.8" rx="3.0" ry="2.6"/><ellipse cx="373.1" cy="262.6" rx="3.0" ry="2.6"/><ellipse cx="381.1" cy="269.7" rx="3.0" ry="2.6"/><ellipse cx="389.2" cy="275.1" rx="3.0" ry="2.6"/><ellipse cx="397.3" cy="281" rx="3.0" ry="2.6"/><ellipse cx="405.4" cy="290.7" rx="3.0" ry="2.6"/><ellipse cx="413.4" cy="297.6" rx="3.0" ry="2.6"/><ellipse cx="421.5" cy="262.9" rx="3.0" ry="2.6"/><ellipse cx="429.6" cy="264.7" rx="3.0" ry="2.6"/><ellipse cx="437.6" cy="265.8" rx="3.0" ry="2.6"/><ellipse cx="445.7" cy="267.5" rx="3.0" ry="2.6"/><ellipse cx="453.8" cy="267.1" rx="3.0" ry="2.6"/><ellipse cx="461.8" cy="273.7" rx="3.0" ry="2.6"/><ellipse cx="469.9" cy="269.6" rx="3.0" ry="2.6"/><ellipse cx="478" cy="274.3" rx="3.0" ry="2.6"/><ellipse cx="486" cy="270.4" rx="3.0" ry="2.6"/><ellipse cx="494.1" cy="265.2" rx="3.0" ry="2.6"/><ellipse cx="502.2" cy="262.1" rx="3.0" ry="2.6"/><ellipse cx="510.2" cy="263.5" rx="3.0" ry="2.6"/><ellipse cx="518.3" cy="261.5" rx="3.0" ry="2.6"/><ellipse cx="526.4" cy="264.1" rx="3.0" ry="2.6"/><ellipse cx="534.5" cy="260.7" rx="3.0" ry="2.6"/><ellipse cx="542.5" cy="259" rx="3.0" ry="2.6"/><ellipse cx="550.6" cy="298.3" rx="3.0" ry="2.6"/><ellipse cx="558.7" cy="288.9" rx="3.0" ry="2.6"/><ellipse cx="566.7" cy="284.3" rx="3.0" ry="2.6"/><ellipse cx="574.8" cy="277.4" rx="3.0" ry="2.6"/><ellipse cx="582.9" cy="269.1" rx="3.0" ry="2.6"/><ellipse cx="590.9" cy="264" rx="3.0" ry="2.6"/><ellipse cx="599" cy="256.9" rx="3.0" ry="2.6"/><ellipse cx="607.1" cy="257.4" rx="3.0" ry="2.6"/><ellipse cx="615.1" cy="252.2" rx="3.0" ry="2.6"/><ellipse cx="623.2" cy="253.6" rx="3.0" ry="2.6"/><ellipse cx="631.3" cy="251" rx="3.0" ry="2.6"/><ellipse cx="639.4" cy="251.8" rx="3.0" ry="2.6"/><ellipse cx="647.4" cy="254.3" rx="3.0" ry="2.6"/><ellipse cx="655.5" cy="251" rx="3.0" ry="2.6"/><ellipse cx="663.6" cy="250.4" rx="3.0" ry="2.6"/><ellipse cx="671.6" cy="253.8" rx="3.0" ry="2.6"/><ellipse cx="679.7" cy="250.5" rx="3.0" ry="2.6"/><ellipse cx="687.8" cy="253.2" rx="3.0" ry="2.6"/><ellipse cx="695.8" cy="254.4" rx="3.0" ry="2.6"/><ellipse cx="703.9" cy="256.5" rx="3.0" ry="2.6"/><ellipse cx="712" cy="264.4" rx="3.0" ry="2.6"/><ellipse cx="720" cy="265.8" rx="3.0" ry="2.6"/><ellipse cx="728.1" cy="269.6" rx="3.0" ry="2.6"/><ellipse cx="736.2" cy="278.9" rx="3.0" ry="2.6"/><ellipse cx="744.2" cy="280.5" rx="3.0" ry="2.6"/><ellipse cx="752.3" cy="291.4" rx="3.0" ry="2.6"/><ellipse cx="760.4" cy="300.3" rx="3.0" ry="2.6"/><ellipse cx="768.5" cy="298" rx="3.0" ry="2.6"/><ellipse cx="776.5" cy="300.9" rx="3.0" ry="2.6"/><ellipse cx="784.6" cy="300.2" rx="3.0" ry="2.6"/><ellipse cx="792.7" cy="303" rx="3.0" ry="2.6"/><ellipse cx="800.7" cy="299.8" rx="3.0" ry="2.6"/></g><path d="M195.6 298.6 L203.6 300.7 L211.7 305.7 L219.8 308.3 L227.8 297.8 L235.9 289.7 L244 283.3 L252.1 280.2 L260.1 275.6 L268.2 269.9 L276.3 266.2 L284.3 263.7 L292.4 261.1 L300.5 260.7 L308.5 255.9 L316.6 256.4 L324.7 254.4 L332.7 251.3 L340.8 256.3 L348.9 260.2 L356.9 262.1 L365 261.4 L373.1 266.2 L381.1 268.9 L389.2 276.2 L397.3 286.8 L405.4 294.4 L413.4 299.5 L421.5 260.7 L429.6 261.5 L437.6 263.8 L445.7 267 L453.8 271.2 L461.8 272.4 L469.9 269.3 L478 274.1 L486 267.7 L494.1 268.1 L502.2 262.7 L510.2 264.8 L518.3 267.5 L526.4 261.1 L534.5 262.3 L542.5 261.3 L550.6 300.9 L558.7 291.2 L566.7 281 L574.8 277.5 L582.9 272.2 L590.9 265 L599 263 L607.1 257.4 L615.1 256.5 L623.2 256.2 L631.3 253.7 L639.4 251.8 L647.4 256.1 L655.5 249.9 L663.6 252.6 L671.6 253.6 L679.7 250.7 L687.8 253.7 L695.8 257.7 L703.9 258.6 L712 267.5 L720 269 L728.1 269.5 L736.2 278.3 L744.2 285.7 L752.3 288.4 L760.4 296.8 L768.5 299.5 L776.5 302.8 L784.6 301.2 L792.7 299.8 L800.7 299.1" stroke="#712a38"/><g stroke="#712a38"><ellipse cx="195.6" cy="298.6" rx="3.0" ry="2.6"/><ellipse cx="203.6" cy="300.7" rx="3.0" ry="2.6"/><ellipse cx="211.7" cy="305.7" rx="3.0" ry="2.6"/><ellipse cx="219.8" cy="308.3" rx="3.0" ry="2.6"/><ellipse cx="227.8" cy="297.8" rx="3.0" ry="2.6"/><ellipse cx="235.9" cy="289.7" rx="3.0" ry="2.6"/><ellipse cx="244" cy="283.3" rx="3.0" ry="2.6"/><ellipse cx="252.1" cy="280.2" rx="3.0" ry="2.6"/><ellipse cx="260.1" cy="275.6" rx="3.0" ry="2.6"/><ellipse cx="268.2" cy="269.9" rx="3.0" ry="2.6"/><ellipse cx="276.3" cy="266.2" rx="3.0" ry="2.6"/><ellipse cx="284.3" cy="263.7" rx="3.0" ry="2.6"/><ellipse cx="292.4" cy="261.1" rx="3.0" ry="2.6"/><ellipse cx="300.5" cy="260.7" rx="3.0" ry="2.6"/><ellipse cx="308.5" cy="255.9" rx="3.0" ry="2.6"/><ellipse cx="316.6" cy="256.4" rx="3.0" ry="2.6"/><ellipse cx="324.7" cy="254.4" rx="3.0" ry="2.6"/><ellipse cx="332.7" cy="251.3" rx="3.0" ry="2.6"/><ellipse cx="340.8" cy="256.3" rx="3.0" ry="2.6"/><ellipse cx="348.9" cy="260.2" rx="3.0" ry="2.6"/><ellipse cx="356.9" cy="262.1" rx="3.0" ry="2.6"/><ellipse cx="365" cy="261.4" rx="3.0" ry="2.6"/><ellipse cx="373.1" cy="266.2" rx="3.0" ry="2.6"/><ellipse cx="381.1" cy="268.9" rx="3.0" ry="2.6"/><ellipse cx="389.2" cy="276.2" rx="3.0" ry="2.6"/><ellipse cx="397.3" cy="286.8" rx="3.0" ry="2.6"/><ellipse cx="405.4" cy="294.4" rx="3.0" ry="2.6"/><ellipse cx="413.4" cy="299.5" rx="3.0" ry="2.6"/><ellipse cx="421.5" cy="260.7" rx="3.0" ry="2.6"/><ellipse cx="429.6" cy="261.5" rx="3.0" ry="2.6"/><ellipse cx="437.6" cy="263.8" rx="3.0" ry="2.6"/><ellipse cx="445.7" cy="267" rx="3.0" ry="2.6"/><ellipse cx="453.8" cy="271.2" rx="3.0" ry="2.6"/><ellipse cx="461.8" cy="272.4" rx="3.0" ry="2.6"/><ellipse cx="469.9" cy="269.3" rx="3.0" ry="2.6"/><ellipse cx="478" cy="274.1" rx="3.0" ry="2.6"/><ellipse cx="486" cy="267.7" rx="3.0" ry="2.6"/><ellipse cx="494.1" cy="268.1" rx="3.0" ry="2.6"/><ellipse cx="502.2" cy="262.7" rx="3.0" ry="2.6"/><ellipse cx="510.2" cy="264.8" rx="3.0" ry="2.6"/><ellipse cx="518.3" cy="267.5" rx="3.0" ry="2.6"/><ellipse cx="526.4" cy="261.1" rx="3.0" ry="2.6"/><ellipse cx="534.5" cy="262.3" rx="3.0" ry="2.6"/><ellipse cx="542.5" cy="261.3" rx="3.0" ry="2.6"/><ellipse cx="550.6" cy="300.9" rx="3.0" ry="2.6"/><ellipse cx="558.7" cy="291.2" rx="3.0" ry="2.6"/><ellipse cx="566.7" cy="281" rx="3.0" ry="2.6"/><ellipse cx="574.8" cy="277.5" rx="3.0" ry="2.6"/><ellipse cx="582.9" cy="272.2" rx="3.0" ry="2.6"/><ellipse cx="590.9" cy="265" rx="3.0" ry="2.6"/><ellipse cx="599" cy="263" rx="3.0" ry="2.6"/><ellipse cx="607.1" cy="257.4" rx="3.0" ry="2.6"/><ellipse cx="615.1" cy="256.5" rx="3.0" ry="2.6"/><ellipse cx="623.2" cy="256.2" rx="3.0" ry="2.6"/><ellipse cx="631.3" cy="253.7" rx="3.0" ry="2.6"/><ellipse cx="639.4" cy="251.8" rx="3.0" ry="2.6"/><ellipse cx="647.4" cy="256.1" rx="3.0" ry="2.6"/><ellipse cx="655.5" cy="249.9" rx="3.0" ry="2.6"/><ellipse cx="663.6" cy="252.6" rx="3.0" ry="2.6"/><ellipse cx="671.6" cy="253.6" rx="3.0" ry="2.6"/><ellipse cx="679.7" cy="250.7" rx="3.0" ry="2.6"/><ellipse cx="687.8" cy="253.7" rx="3.0" ry="2.6"/><ellipse cx="695.8" cy="257.7" rx="3.0" ry="2.6"/><ellipse cx="703.9" cy="258.6" rx="3.0" ry="2.6"/><ellipse cx="712" cy="267.5" rx="3.0" ry="2.6"/><ellipse cx="720" cy="269" rx="3.0" ry="2.6"/><ellipse cx="728.1" cy="269.5" rx="3.0" ry="2.6"/><ellipse cx="736.2" cy="278.3" rx="3.0" ry="2.6"/><ellipse cx="744.2" cy="285.7" rx="3.0" ry="2.6"/><ellipse cx="752.3" cy="288.4" rx="3.0" ry="2.6"/><ellipse cx="760.4" cy="296.8" rx="3.0" ry="2.6"/><ellipse cx="768.5" cy="299.5" rx="3.0" ry="2.6"/><ellipse cx="776.5" cy="302.8" rx="3.0" ry="2.6"/><ellipse cx="784.6" cy="301.2" rx="3.0" ry="2.6"/><ellipse cx="792.7" cy="299.8" rx="3.0" ry="2.6"/><ellipse cx="800.7" cy="299.1" rx="3.0" ry="2.6"/></g></g>
<g clip-path="url(#c2)" fill="none" stroke-width="0.85"><path d="M195.6 436 L203.6 444.6 L211.7 430.1 L219.8 426.9 L227.8 436.4 L235.9 429.1 L244 440.2 L252.1 428.7 L260.1 432.9 L268.2 426.6 L276.3 426.3 L284.3 430.2 L292.4 422.7 L300.5 418.7 L308.5 419.8 L316.6 430.4 L324.7 438 L332.7 439.2 L340.8 419.3 L348.9 433.1 L356.9 434.6 L365 441.5 L373.1 433.1 L381.1 442.2 L389.2 434.8 L397.3 438.7 L405.4 438.4 L413.4 433 L421.5 451.5 L429.6 441.3 L437.6 443.2 L445.7 447.5 L453.8 440 L461.8 433.4 L469.9 424.1 L478 430.3 L486 422.7 L494.1 429 L502.2 430.7 L510.2 426.7 L518.3 433.1 L526.4 441 L534.5 448.2 L542.5 448.8 L550.6 431 L558.7 460.3 L566.7 450.9 L574.8 455.8 L582.9 445.1 L590.9 435.5 L599 438.3 L607.1 433.1 L615.1 438.8 L623.2 437.1 L631.3 440.2 L639.4 430.6 L647.4 429.2 L655.5 415.9 L663.6 417.5 L671.6 424.6 L679.7 395.6 L687.8 426.3 L695.8 421.8 L703.9 413.1 L712 422.1 L720 432.2 L728.1 429.8 L736.2 433 L744.2 427.1 L752.3 427.3 L760.4 422.9 L768.5 415.2 L776.5 438.3 L784.6 443.6 L792.7 436 L800.7 448.7" stroke="#2c658a"/><g stroke="#2c658a"><ellipse cx="195.6" cy="436" rx="3.0" ry="2.6"/><ellipse cx="203.6" cy="444.6" rx="3.0" ry="2.6"/><ellipse cx="211.7" cy="430.1" rx="3.0" ry="2.6"/><ellipse cx="219.8" cy="426.9" rx="3.0" ry="2.6"/><ellipse cx="227.8" cy="436.4" rx="3.0" ry="2.6"/><ellipse cx="235.9" cy="429.1" rx="3.0" ry="2.6"/><ellipse cx="244" cy="440.2" rx="3.0" ry="2.6"/><ellipse cx="252.1" cy="428.7" rx="3.0" ry="2.6"/><ellipse cx="260.1" cy="432.9" rx="3.0" ry="2.6"/><ellipse cx="268.2" cy="426.6" rx="3.0" ry="2.6"/><ellipse cx="276.3" cy="426.3" rx="3.0" ry="2.6"/><ellipse cx="284.3" cy="430.2" rx="3.0" ry="2.6"/><ellipse cx="292.4" cy="422.7" rx="3.0" ry="2.6"/><ellipse cx="300.5" cy="418.7" rx="3.0" ry="2.6"/><ellipse cx="308.5" cy="419.8" rx="3.0" ry="2.6"/><ellipse cx="316.6" cy="430.4" rx="3.0" ry="2.6"/><ellipse cx="324.7" cy="438" rx="3.0" ry="2.6"/><ellipse cx="332.7" cy="439.2" rx="3.0" ry="2.6"/><ellipse cx="340.8" cy="419.3" rx="3.0" ry="2.6"/><ellipse cx="348.9" cy="433.1" rx="3.0" ry="2.6"/><ellipse cx="356.9" cy="434.6" rx="3.0" ry="2.6"/><ellipse cx="365" cy="441.5" rx="3.0" ry="2.6"/><ellipse cx="373.1" cy="433.1" rx="3.0" ry="2.6"/><ellipse cx="381.1" cy="442.2" rx="3.0" ry="2.6"/><ellipse cx="389.2" cy="434.8" rx="3.0" ry="2.6"/><ellipse cx="397.3" cy="438.7" rx="3.0" ry="2.6"/><ellipse cx="405.4" cy="438.4" rx="3.0" ry="2.6"/><ellipse cx="413.4" cy="433" rx="3.0" ry="2.6"/><ellipse cx="421.5" cy="451.5" rx="3.0" ry="2.6"/><ellipse cx="429.6" cy="441.3" rx="3.0" ry="2.6"/><ellipse cx="437.6" cy="443.2" rx="3.0" ry="2.6"/><ellipse cx="445.7" cy="447.5" rx="3.0" ry="2.6"/><ellipse cx="453.8" cy="440" rx="3.0" ry="2.6"/><ellipse cx="461.8" cy="433.4" rx="3.0" ry="2.6"/><ellipse cx="469.9" cy="424.1" rx="3.0" ry="2.6"/><ellipse cx="478" cy="430.3" rx="3.0" ry="2.6"/><ellipse cx="486" cy="422.7" rx="3.0" ry="2.6"/><ellipse cx="494.1" cy="429" rx="3.0" ry="2.6"/><ellipse cx="502.2" cy="430.7" rx="3.0" ry="2.6"/><ellipse cx="510.2" cy="426.7" rx="3.0" ry="2.6"/><ellipse cx="518.3" cy="433.1" rx="3.0" ry="2.6"/><ellipse cx="526.4" cy="441" rx="3.0" ry="2.6"/><ellipse cx="534.5" cy="448.2" rx="3.0" ry="2.6"/><ellipse cx="542.5" cy="448.8" rx="3.0" ry="2.6"/><ellipse cx="550.6" cy="431" rx="3.0" ry="2.6"/><ellipse cx="558.7" cy="460.3" rx="3.0" ry="2.6"/><ellipse cx="566.7" cy="450.9" rx="3.0" ry="2.6"/><ellipse cx="574.8" cy="455.8" rx="3.0" ry="2.6"/><ellipse cx="582.9" cy="445.1" rx="3.0" ry="2.6"/><ellipse cx="590.9" cy="435.5" rx="3.0" ry="2.6"/><ellipse cx="599" cy="438.3" rx="3.0" ry="2.6"/><ellipse cx="607.1" cy="433.1" rx="3.0" ry="2.6"/><ellipse cx="615.1" cy="438.8" rx="3.0" ry="2.6"/><ellipse cx="623.2" cy="437.1" rx="3.0" ry="2.6"/><ellipse cx="631.3" cy="440.2" rx="3.0" ry="2.6"/><ellipse cx="639.4" cy="430.6" rx="3.0" ry="2.6"/><ellipse cx="647.4" cy="429.2" rx="3.0" ry="2.6"/><ellipse cx="655.5" cy="415.9" rx="3.0" ry="2.6"/><ellipse cx="663.6" cy="417.5" rx="3.0" ry="2.6"/><ellipse cx="671.6" cy="424.6" rx="3.0" ry="2.6"/><ellipse cx="679.7" cy="395.6" rx="3.0" ry="2.6"/><ellipse cx="687.8" cy="426.3" rx="3.0" ry="2.6"/><ellipse cx="695.8" cy="421.8" rx="3.0" ry="2.6"/><ellipse cx="703.9" cy="413.1" rx="3.0" ry="2.6"/><ellipse cx="712" cy="422.1" rx="3.0" ry="2.6"/><ellipse cx="720" cy="432.2" rx="3.0" ry="2.6"/><ellipse cx="728.1" cy="429.8" rx="3.0" ry="2.6"/><ellipse cx="736.2" cy="433" rx="3.0" ry="2.6"/><ellipse cx="744.2" cy="427.1" rx="3.0" ry="2.6"/><ellipse cx="752.3" cy="427.3" rx="3.0" ry="2.6"/><ellipse cx="760.4" cy="422.9" rx="3.0" ry="2.6"/><ellipse cx="768.5" cy="415.2" rx="3.0" ry="2.6"/><ellipse cx="776.5" cy="438.3" rx="3.0" ry="2.6"/><ellipse cx="784.6" cy="443.6" rx="3.0" ry="2.6"/><ellipse cx="792.7" cy="436" rx="3.0" ry="2.6"/><ellipse cx="800.7" cy="448.7" rx="3.0" ry="2.6"/></g><path d="M195.6 446.9 L203.6 453.2 L211.7 441.9 L219.8 417.2 L227.8 436.1 L235.9 434.5 L244 436.9 L252.1 439.4 L260.1 437.2 L268.2 424.7 L276.3 441.3 L284.3 428.2 L292.4 426.3 L300.5 421.1 L308.5 428.2 L316.6 428.1 L324.7 434 L332.7 435.9 L340.8 433.4 L348.9 437.1 L356.9 441.9 L365 439.8 L373.1 442.6 L381.1 442.9 L389.2 439.2 L397.3 440.7 L405.4 444.5 L413.4 437.5 L421.5 449.3 L429.6 440.5 L437.6 444.6 L445.7 444.8 L453.8 446.2 L461.8 440.3 L469.9 430.6 L478 420.6 L486 420.9 L494.1 427.1 L502.2 431.5 L510.2 434.7 L518.3 446.8 L526.4 442.2 L534.5 449.2 L542.5 457.5 L550.6 457 L558.7 450.7 L566.7 461.8 L574.8 446 L582.9 441 L590.9 432.2 L599 445.7 L607.1 437.7 L615.1 441.2 L623.2 439.5 L631.3 441.1 L639.4 439.6 L647.4 431.5 L655.5 431.2 L663.6 429.4 L671.6 422.6 L679.7 424.3 L687.8 428.1 L695.8 425.6 L703.9 426.7 L712 434.8 L720 428.7 L728.1 429.2 L736.2 423.8 L744.2 438.3 L752.3 427.1 L760.4 431.7 L768.5 428.8 L776.5 440.1 L784.6 442.7 L792.7 444.2 L800.7 446.5" stroke="#a66346"/><g stroke="#a66346"><ellipse cx="195.6" cy="446.9" rx="3.0" ry="2.6"/><ellipse cx="203.6" cy="453.2" rx="3.0" ry="2.6"/><ellipse cx="211.7" cy="441.9" rx="3.0" ry="2.6"/><ellipse cx="219.8" cy="417.2" rx="3.0" ry="2.6"/><ellipse cx="227.8" cy="436.1" rx="3.0" ry="2.6"/><ellipse cx="235.9" cy="434.5" rx="3.0" ry="2.6"/><ellipse cx="244" cy="436.9" rx="3.0" ry="2.6"/><ellipse cx="252.1" cy="439.4" rx="3.0" ry="2.6"/><ellipse cx="260.1" cy="437.2" rx="3.0" ry="2.6"/><ellipse cx="268.2" cy="424.7" rx="3.0" ry="2.6"/><ellipse cx="276.3" cy="441.3" rx="3.0" ry="2.6"/><ellipse cx="284.3" cy="428.2" rx="3.0" ry="2.6"/><ellipse cx="292.4" cy="426.3" rx="3.0" ry="2.6"/><ellipse cx="300.5" cy="421.1" rx="3.0" ry="2.6"/><ellipse cx="308.5" cy="428.2" rx="3.0" ry="2.6"/><ellipse cx="316.6" cy="428.1" rx="3.0" ry="2.6"/><ellipse cx="324.7" cy="434" rx="3.0" ry="2.6"/><ellipse cx="332.7" cy="435.9" rx="3.0" ry="2.6"/><ellipse cx="340.8" cy="433.4" rx="3.0" ry="2.6"/><ellipse cx="348.9" cy="437.1" rx="3.0" ry="2.6"/><ellipse cx="356.9" cy="441.9" rx="3.0" ry="2.6"/><ellipse cx="365" cy="439.8" rx="3.0" ry="2.6"/><ellipse cx="373.1" cy="442.6" rx="3.0" ry="2.6"/><ellipse cx="381.1" cy="442.9" rx="3.0" ry="2.6"/><ellipse cx="389.2" cy="439.2" rx="3.0" ry="2.6"/><ellipse cx="397.3" cy="440.7" rx="3.0" ry="2.6"/><ellipse cx="405.4" cy="444.5" rx="3.0" ry="2.6"/><ellipse cx="413.4" cy="437.5" rx="3.0" ry="2.6"/><ellipse cx="421.5" cy="449.3" rx="3.0" ry="2.6"/><ellipse cx="429.6" cy="440.5" rx="3.0" ry="2.6"/><ellipse cx="437.6" cy="444.6" rx="3.0" ry="2.6"/><ellipse cx="445.7" cy="444.8" rx="3.0" ry="2.6"/><ellipse cx="453.8" cy="446.2" rx="3.0" ry="2.6"/><ellipse cx="461.8" cy="440.3" rx="3.0" ry="2.6"/><ellipse cx="469.9" cy="430.6" rx="3.0" ry="2.6"/><ellipse cx="478" cy="420.6" rx="3.0" ry="2.6"/><ellipse cx="486" cy="420.9" rx="3.0" ry="2.6"/><ellipse cx="494.1" cy="427.1" rx="3.0" ry="2.6"/><ellipse cx="502.2" cy="431.5" rx="3.0" ry="2.6"/><ellipse cx="510.2" cy="434.7" rx="3.0" ry="2.6"/><ellipse cx="518.3" cy="446.8" rx="3.0" ry="2.6"/><ellipse cx="526.4" cy="442.2" rx="3.0" ry="2.6"/><ellipse cx="534.5" cy="449.2" rx="3.0" ry="2.6"/><ellipse cx="542.5" cy="457.5" rx="3.0" ry="2.6"/><ellipse cx="550.6" cy="457" rx="3.0" ry="2.6"/><ellipse cx="558.7" cy="450.7" rx="3.0" ry="2.6"/><ellipse cx="566.7" cy="461.8" rx="3.0" ry="2.6"/><ellipse cx="574.8" cy="446" rx="3.0" ry="2.6"/><ellipse cx="582.9" cy="441" rx="3.0" ry="2.6"/><ellipse cx="590.9" cy="432.2" rx="3.0" ry="2.6"/><ellipse cx="599" cy="445.7" rx="3.0" ry="2.6"/><ellipse cx="607.1" cy="437.7" rx="3.0" ry="2.6"/><ellipse cx="615.1" cy="441.2" rx="3.0" ry="2.6"/><ellipse cx="623.2" cy="439.5" rx="3.0" ry="2.6"/><ellipse cx="631.3" cy="441.1" rx="3.0" ry="2.6"/><ellipse cx="639.4" cy="439.6" rx="3.0" ry="2.6"/><ellipse cx="647.4" cy="431.5" rx="3.0" ry="2.6"/><ellipse cx="655.5" cy="431.2" rx="3.0" ry="2.6"/><ellipse cx="663.6" cy="429.4" rx="3.0" ry="2.6"/><ellipse cx="671.6" cy="422.6" rx="3.0" ry="2.6"/><ellipse cx="679.7" cy="424.3" rx="3.0" ry="2.6"/><ellipse cx="687.8" cy="428.1" rx="3.0" ry="2.6"/><ellipse cx="695.8" cy="425.6" rx="3.0" ry="2.6"/><ellipse cx="703.9" cy="426.7" rx="3.0" ry="2.6"/><ellipse cx="712" cy="434.8" rx="3.0" ry="2.6"/><ellipse cx="720" cy="428.7" rx="3.0" ry="2.6"/><ellipse cx="728.1" cy="429.2" rx="3.0" ry="2.6"/><ellipse cx="736.2" cy="423.8" rx="3.0" ry="2.6"/><ellipse cx="744.2" cy="438.3" rx="3.0" ry="2.6"/><ellipse cx="752.3" cy="427.1" rx="3.0" ry="2.6"/><ellipse cx="760.4" cy="431.7" rx="3.0" ry="2.6"/><ellipse cx="768.5" cy="428.8" rx="3.0" ry="2.6"/><ellipse cx="776.5" cy="440.1" rx="3.0" ry="2.6"/><ellipse cx="784.6" cy="442.7" rx="3.0" ry="2.6"/><ellipse cx="792.7" cy="444.2" rx="3.0" ry="2.6"/><ellipse cx="800.7" cy="446.5" rx="3.0" ry="2.6"/></g><path d="M195.6 432.8 L203.6 441.8 L211.7 430.1 L219.8 439.4 L227.8 432.1 L235.9 439.1 L244 434.5 L252.1 437.2 L260.1 430.8 L268.2 427.5 L276.3 428.2 L284.3 429.7 L292.4 421.7 L300.5 417.1 L308.5 430.3 L316.6 423.5 L324.7 443.3 L332.7 432.6 L340.8 428.5 L348.9 429.5 L356.9 436.1 L365 440.8 L373.1 444.5 L381.1 449.2 L389.2 441.5 L397.3 447.3 L405.4 445.5 L413.4 437.6 L421.5 453.8 L429.6 445.6 L437.6 446.4 L445.7 438.4 L453.8 437.4 L461.8 437.3 L469.9 441.2 L478 424.9 L486 423.2 L494.1 427.2 L502.2 429.9 L510.2 433.8 L518.3 434.6 L526.4 441.2 L534.5 475.9 L542.5 456.6 L550.6 454.6 L558.7 453.1 L566.7 458.4 L574.8 454.2 L582.9 446.9 L590.9 446.1 L599 439.6 L607.1 437.5 L615.1 438.5 L623.2 436.1 L631.3 446.6 L639.4 436.4 L647.4 434.8 L655.5 423.8 L663.6 431.7 L671.6 421.7 L679.7 420.7 L687.8 419.9 L695.8 421.9 L703.9 422.4 L712 421 L720 428 L728.1 429.9 L736.2 432.6 L744.2 437.4 L752.3 431.2 L760.4 435.9 L768.5 427.3 L776.5 436.5 L784.6 439.2 L792.7 449.3 L800.7 447.9" stroke="#cfb169"/><g stroke="#cfb169"><ellipse cx="195.6" cy="432.8" rx="3.0" ry="2.6"/><ellipse cx="203.6" cy="441.8" rx="3.0" ry="2.6"/><ellipse cx="211.7" cy="430.1" rx="3.0" ry="2.6"/><ellipse cx="219.8" cy="439.4" rx="3.0" ry="2.6"/><ellipse cx="227.8" cy="432.1" rx="3.0" ry="2.6"/><ellipse cx="235.9" cy="439.1" rx="3.0" ry="2.6"/><ellipse cx="244" cy="434.5" rx="3.0" ry="2.6"/><ellipse cx="252.1" cy="437.2" rx="3.0" ry="2.6"/><ellipse cx="260.1" cy="430.8" rx="3.0" ry="2.6"/><ellipse cx="268.2" cy="427.5" rx="3.0" ry="2.6"/><ellipse cx="276.3" cy="428.2" rx="3.0" ry="2.6"/><ellipse cx="284.3" cy="429.7" rx="3.0" ry="2.6"/><ellipse cx="292.4" cy="421.7" rx="3.0" ry="2.6"/><ellipse cx="300.5" cy="417.1" rx="3.0" ry="2.6"/><ellipse cx="308.5" cy="430.3" rx="3.0" ry="2.6"/><ellipse cx="316.6" cy="423.5" rx="3.0" ry="2.6"/><ellipse cx="324.7" cy="443.3" rx="3.0" ry="2.6"/><ellipse cx="332.7" cy="432.6" rx="3.0" ry="2.6"/><ellipse cx="340.8" cy="428.5" rx="3.0" ry="2.6"/><ellipse cx="348.9" cy="429.5" rx="3.0" ry="2.6"/><ellipse cx="356.9" cy="436.1" rx="3.0" ry="2.6"/><ellipse cx="365" cy="440.8" rx="3.0" ry="2.6"/><ellipse cx="373.1" cy="444.5" rx="3.0" ry="2.6"/><ellipse cx="381.1" cy="449.2" rx="3.0" ry="2.6"/><ellipse cx="389.2" cy="441.5" rx="3.0" ry="2.6"/><ellipse cx="397.3" cy="447.3" rx="3.0" ry="2.6"/><ellipse cx="405.4" cy="445.5" rx="3.0" ry="2.6"/><ellipse cx="413.4" cy="437.6" rx="3.0" ry="2.6"/><ellipse cx="421.5" cy="453.8" rx="3.0" ry="2.6"/><ellipse cx="429.6" cy="445.6" rx="3.0" ry="2.6"/><ellipse cx="437.6" cy="446.4" rx="3.0" ry="2.6"/><ellipse cx="445.7" cy="438.4" rx="3.0" ry="2.6"/><ellipse cx="453.8" cy="437.4" rx="3.0" ry="2.6"/><ellipse cx="461.8" cy="437.3" rx="3.0" ry="2.6"/><ellipse cx="469.9" cy="441.2" rx="3.0" ry="2.6"/><ellipse cx="478" cy="424.9" rx="3.0" ry="2.6"/><ellipse cx="486" cy="423.2" rx="3.0" ry="2.6"/><ellipse cx="494.1" cy="427.2" rx="3.0" ry="2.6"/><ellipse cx="502.2" cy="429.9" rx="3.0" ry="2.6"/><ellipse cx="510.2" cy="433.8" rx="3.0" ry="2.6"/><ellipse cx="518.3" cy="434.6" rx="3.0" ry="2.6"/><ellipse cx="526.4" cy="441.2" rx="3.0" ry="2.6"/><ellipse cx="534.5" cy="475.9" rx="3.0" ry="2.6"/><ellipse cx="542.5" cy="456.6" rx="3.0" ry="2.6"/><ellipse cx="550.6" cy="454.6" rx="3.0" ry="2.6"/><ellipse cx="558.7" cy="453.1" rx="3.0" ry="2.6"/><ellipse cx="566.7" cy="458.4" rx="3.0" ry="2.6"/><ellipse cx="574.8" cy="454.2" rx="3.0" ry="2.6"/><ellipse cx="582.9" cy="446.9" rx="3.0" ry="2.6"/><ellipse cx="590.9" cy="446.1" rx="3.0" ry="2.6"/><ellipse cx="599" cy="439.6" rx="3.0" ry="2.6"/><ellipse cx="607.1" cy="437.5" rx="3.0" ry="2.6"/><ellipse cx="615.1" cy="438.5" rx="3.0" ry="2.6"/><ellipse cx="623.2" cy="436.1" rx="3.0" ry="2.6"/><ellipse cx="631.3" cy="446.6" rx="3.0" ry="2.6"/><ellipse cx="639.4" cy="436.4" rx="3.0" ry="2.6"/><ellipse cx="647.4" cy="434.8" rx="3.0" ry="2.6"/><ellipse cx="655.5" cy="423.8" rx="3.0" ry="2.6"/><ellipse cx="663.6" cy="431.7" rx="3.0" ry="2.6"/><ellipse cx="671.6" cy="421.7" rx="3.0" ry="2.6"/><ellipse cx="679.7" cy="420.7" rx="3.0" ry="2.6"/><ellipse cx="687.8" cy="419.9" rx="3.0" ry="2.6"/><ellipse cx="695.8" cy="421.9" rx="3.0" ry="2.6"/><ellipse cx="703.9" cy="422.4" rx="3.0" ry="2.6"/><ellipse cx="712" cy="421" rx="3.0" ry="2.6"/><ellipse cx="720" cy="428" rx="3.0" ry="2.6"/><ellipse cx="728.1" cy="429.9" rx="3.0" ry="2.6"/><ellipse cx="736.2" cy="432.6" rx="3.0" ry="2.6"/><ellipse cx="744.2" cy="437.4" rx="3.0" ry="2.6"/><ellipse cx="752.3" cy="431.2" rx="3.0" ry="2.6"/><ellipse cx="760.4" cy="435.9" rx="3.0" ry="2.6"/><ellipse cx="768.5" cy="427.3" rx="3.0" ry="2.6"/><ellipse cx="776.5" cy="436.5" rx="3.0" ry="2.6"/><ellipse cx="784.6" cy="439.2" rx="3.0" ry="2.6"/><ellipse cx="792.7" cy="449.3" rx="3.0" ry="2.6"/><ellipse cx="800.7" cy="447.9" rx="3.0" ry="2.6"/></g><path d="M195.6 439.3 L203.6 451.1 L211.7 437.1 L219.8 439.6 L227.8 429.6 L235.9 436.4 L244 440.9 L252.1 433.8 L260.1 431.6 L268.2 433.4 L276.3 433.1 L284.3 430.1 L292.4 428.5 L300.5 431.2 L308.5 426.6 L316.6 424.5 L324.7 431.2 L332.7 436.2 L340.8 434.4 L348.9 437 L356.9 433.5 L365 437.2 L373.1 443.6 L381.1 442.1 L389.2 445.8 L397.3 444 L405.4 444.1 L413.4 446.4 L421.5 450.2 L429.6 440.4 L437.6 449.2 L445.7 446.2 L453.8 440.1 L461.8 438.2 L469.9 437.1 L478 418.2 L486 420 L494.1 424.3 L502.2 436.5 L510.2 425.4 L518.3 445.8 L526.4 447.2 L534.5 446.7 L542.5 449.1 L550.6 456.5 L558.7 459 L566.7 452.7 L574.8 461.5 L582.9 440.9 L590.9 437.6 L599 444.3 L607.1 435.1 L615.1 435.3 L623.2 438.7 L631.3 437.7 L639.4 429.6 L647.4 438.1 L655.5 426.8 L663.6 429.2 L671.6 420.4 L679.7 423.5 L687.8 423.9 L695.8 426.4 L703.9 424.6 L712 421.7 L720 428.4 L728.1 421.9 L736.2 427.6 L744.2 427.5 L752.3 431.8 L760.4 424 L768.5 423.7 L776.5 441.1 L784.6 442.5 L792.7 448.4 L800.7 454.2" stroke="#67406f"/><g stroke="#67406f"><ellipse cx="195.6" cy="439.3" rx="3.0" ry="2.6"/><ellipse cx="203.6" cy="451.1" rx="3.0" ry="2.6"/><ellipse cx="211.7" cy="437.1" rx="3.0" ry="2.6"/><ellipse cx="219.8" cy="439.6" rx="3.0" ry="2.6"/><ellipse cx="227.8" cy="429.6" rx="3.0" ry="2.6"/><ellipse cx="235.9" cy="436.4" rx="3.0" ry="2.6"/><ellipse cx="244" cy="440.9" rx="3.0" ry="2.6"/><ellipse cx="252.1" cy="433.8" rx="3.0" ry="2.6"/><ellipse cx="260.1" cy="431.6" rx="3.0" ry="2.6"/><ellipse cx="268.2" cy="433.4" rx="3.0" ry="2.6"/><ellipse cx="276.3" cy="433.1" rx="3.0" ry="2.6"/><ellipse cx="284.3" cy="430.1" rx="3.0" ry="2.6"/><ellipse cx="292.4" cy="428.5" rx="3.0" ry="2.6"/><ellipse cx="300.5" cy="431.2" rx="3.0" ry="2.6"/><ellipse cx="308.5" cy="426.6" rx="3.0" ry="2.6"/><ellipse cx="316.6" cy="424.5" rx="3.0" ry="2.6"/><ellipse cx="324.7" cy="431.2" rx="3.0" ry="2.6"/><ellipse cx="332.7" cy="436.2" rx="3.0" ry="2.6"/><ellipse cx="340.8" cy="434.4" rx="3.0" ry="2.6"/><ellipse cx="348.9" cy="437" rx="3.0" ry="2.6"/><ellipse cx="356.9" cy="433.5" rx="3.0" ry="2.6"/><ellipse cx="365" cy="437.2" rx="3.0" ry="2.6"/><ellipse cx="373.1" cy="443.6" rx="3.0" ry="2.6"/><ellipse cx="381.1" cy="442.1" rx="3.0" ry="2.6"/><ellipse cx="389.2" cy="445.8" rx="3.0" ry="2.6"/><ellipse cx="397.3" cy="444" rx="3.0" ry="2.6"/><ellipse cx="405.4" cy="444.1" rx="3.0" ry="2.6"/><ellipse cx="413.4" cy="446.4" rx="3.0" ry="2.6"/><ellipse cx="421.5" cy="450.2" rx="3.0" ry="2.6"/><ellipse cx="429.6" cy="440.4" rx="3.0" ry="2.6"/><ellipse cx="437.6" cy="449.2" rx="3.0" ry="2.6"/><ellipse cx="445.7" cy="446.2" rx="3.0" ry="2.6"/><ellipse cx="453.8" cy="440.1" rx="3.0" ry="2.6"/><ellipse cx="461.8" cy="438.2" rx="3.0" ry="2.6"/><ellipse cx="469.9" cy="437.1" rx="3.0" ry="2.6"/><ellipse cx="478" cy="418.2" rx="3.0" ry="2.6"/><ellipse cx="486" cy="420" rx="3.0" ry="2.6"/><ellipse cx="494.1" cy="424.3" rx="3.0" ry="2.6"/><ellipse cx="502.2" cy="436.5" rx="3.0" ry="2.6"/><ellipse cx="510.2" cy="425.4" rx="3.0" ry="2.6"/><ellipse cx="518.3" cy="445.8" rx="3.0" ry="2.6"/><ellipse cx="526.4" cy="447.2" rx="3.0" ry="2.6"/><ellipse cx="534.5" cy="446.7" rx="3.0" ry="2.6"/><ellipse cx="542.5" cy="449.1" rx="3.0" ry="2.6"/><ellipse cx="550.6" cy="456.5" rx="3.0" ry="2.6"/><ellipse cx="558.7" cy="459" rx="3.0" ry="2.6"/><ellipse cx="566.7" cy="452.7" rx="3.0" ry="2.6"/><ellipse cx="574.8" cy="461.5" rx="3.0" ry="2.6"/><ellipse cx="582.9" cy="440.9" rx="3.0" ry="2.6"/><ellipse cx="590.9" cy="437.6" rx="3.0" ry="2.6"/><ellipse cx="599" cy="444.3" rx="3.0" ry="2.6"/><ellipse cx="607.1" cy="435.1" rx="3.0" ry="2.6"/><ellipse cx="615.1" cy="435.3" rx="3.0" ry="2.6"/><ellipse cx="623.2" cy="438.7" rx="3.0" ry="2.6"/><ellipse cx="631.3" cy="437.7" rx="3.0" ry="2.6"/><ellipse cx="639.4" cy="429.6" rx="3.0" ry="2.6"/><ellipse cx="647.4" cy="438.1" rx="3.0" ry="2.6"/><ellipse cx="655.5" cy="426.8" rx="3.0" ry="2.6"/><ellipse cx="663.6" cy="429.2" rx="3.0" ry="2.6"/><ellipse cx="671.6" cy="420.4" rx="3.0" ry="2.6"/><ellipse cx="679.7" cy="423.5" rx="3.0" ry="2.6"/><ellipse cx="687.8" cy="423.9" rx="3.0" ry="2.6"/><ellipse cx="695.8" cy="426.4" rx="3.0" ry="2.6"/><ellipse cx="703.9" cy="424.6" rx="3.0" ry="2.6"/><ellipse cx="712" cy="421.7" rx="3.0" ry="2.6"/><ellipse cx="720" cy="428.4" rx="3.0" ry="2.6"/><ellipse cx="728.1" cy="421.9" rx="3.0" ry="2.6"/><ellipse cx="736.2" cy="427.6" rx="3.0" ry="2.6"/><ellipse cx="744.2" cy="427.5" rx="3.0" ry="2.6"/><ellipse cx="752.3" cy="431.8" rx="3.0" ry="2.6"/><ellipse cx="760.4" cy="424" rx="3.0" ry="2.6"/><ellipse cx="768.5" cy="423.7" rx="3.0" ry="2.6"/><ellipse cx="776.5" cy="441.1" rx="3.0" ry="2.6"/><ellipse cx="784.6" cy="442.5" rx="3.0" ry="2.6"/><ellipse cx="792.7" cy="448.4" rx="3.0" ry="2.6"/><ellipse cx="800.7" cy="454.2" rx="3.0" ry="2.6"/></g><path d="M195.6 438.4 L203.6 450.1 L211.7 437.8 L219.8 434.6 L227.8 435.5 L235.9 435.2 L244 483.7 L252.1 425.2 L260.1 429 L268.2 427.1 L276.3 433 L284.3 422.9 L292.4 417 L300.5 414.4 L308.5 430.8 L316.6 422.9 L324.7 427.2 L332.7 428.1 L340.8 434.1 L348.9 434 L356.9 431.5 L365 433.5 L373.1 441.1 L381.1 444.1 L389.2 437.4 L397.3 448.6 L405.4 432.8 L413.4 436.5 L421.5 445.8 L429.6 445.9 L437.6 443.6 L445.7 439.4 L453.8 446.8 L461.8 425.2 L469.9 436.9 L478 400.2 L486 420 L494.1 423.3 L502.2 425.9 L510.2 430.6 L518.3 436.2 L526.4 442.6 L534.5 449 L542.5 459.4 L550.6 445 L558.7 451.7 L566.7 449.5 L574.8 452.8 L582.9 439.2 L590.9 436.7 L599 439.3 L607.1 429.3 L615.1 442.6 L623.2 435.5 L631.3 441.1 L639.4 434 L647.4 426.3 L655.5 428.7 L663.6 424 L671.6 424 L679.7 414.3 L687.8 426.7 L695.8 430.7 L703.9 419.3 L712 427.2 L720 426 L728.1 420 L736.2 431.5 L744.2 431.4 L752.3 427.1 L760.4 422.9 L768.5 425.8 L776.5 430.6 L784.6 432.3 L792.7 446.2 L800.7 442.7" stroke="#829d5f"/><g stroke="#829d5f"><ellipse cx="195.6" cy="438.4" rx="3.0" ry="2.6"/><ellipse cx="203.6" cy="450.1" rx="3.0" ry="2.6"/><ellipse cx="211.7" cy="437.8" rx="3.0" ry="2.6"/><ellipse cx="219.8" cy="434.6" rx="3.0" ry="2.6"/><ellipse cx="227.8" cy="435.5" rx="3.0" ry="2.6"/><ellipse cx="235.9" cy="435.2" rx="3.0" ry="2.6"/><ellipse cx="244" cy="483.7" rx="3.0" ry="2.6"/><ellipse cx="252.1" cy="425.2" rx="3.0" ry="2.6"/><ellipse cx="260.1" cy="429" rx="3.0" ry="2.6"/><ellipse cx="268.2" cy="427.1" rx="3.0" ry="2.6"/><ellipse cx="276.3" cy="433" rx="3.0" ry="2.6"/><ellipse cx="284.3" cy="422.9" rx="3.0" ry="2.6"/><ellipse cx="292.4" cy="417" rx="3.0" ry="2.6"/><ellipse cx="300.5" cy="414.4" rx="3.0" ry="2.6"/><ellipse cx="308.5" cy="430.8" rx="3.0" ry="2.6"/><ellipse cx="316.6" cy="422.9" rx="3.0" ry="2.6"/><ellipse cx="324.7" cy="427.2" rx="3.0" ry="2.6"/><ellipse cx="332.7" cy="428.1" rx="3.0" ry="2.6"/><ellipse cx="340.8" cy="434.1" rx="3.0" ry="2.6"/><ellipse cx="348.9" cy="434" rx="3.0" ry="2.6"/><ellipse cx="356.9" cy="431.5" rx="3.0" ry="2.6"/><ellipse cx="365" cy="433.5" rx="3.0" ry="2.6"/><ellipse cx="373.1" cy="441.1" rx="3.0" ry="2.6"/><ellipse cx="381.1" cy="444.1" rx="3.0" ry="2.6"/><ellipse cx="389.2" cy="437.4" rx="3.0" ry="2.6"/><ellipse cx="397.3" cy="448.6" rx="3.0" ry="2.6"/><ellipse cx="405.4" cy="432.8" rx="3.0" ry="2.6"/><ellipse cx="413.4" cy="436.5" rx="3.0" ry="2.6"/><ellipse cx="421.5" cy="445.8" rx="3.0" ry="2.6"/><ellipse cx="429.6" cy="445.9" rx="3.0" ry="2.6"/><ellipse cx="437.6" cy="443.6" rx="3.0" ry="2.6"/><ellipse cx="445.7" cy="439.4" rx="3.0" ry="2.6"/><ellipse cx="453.8" cy="446.8" rx="3.0" ry="2.6"/><ellipse cx="461.8" cy="425.2" rx="3.0" ry="2.6"/><ellipse cx="469.9" cy="436.9" rx="3.0" ry="2.6"/><ellipse cx="478" cy="400.2" rx="3.0" ry="2.6"/><ellipse cx="486" cy="420" rx="3.0" ry="2.6"/><ellipse cx="494.1" cy="423.3" rx="3.0" ry="2.6"/><ellipse cx="502.2" cy="425.9" rx="3.0" ry="2.6"/><ellipse cx="510.2" cy="430.6" rx="3.0" ry="2.6"/><ellipse cx="518.3" cy="436.2" rx="3.0" ry="2.6"/><ellipse cx="526.4" cy="442.6" rx="3.0" ry="2.6"/><ellipse cx="534.5" cy="449" rx="3.0" ry="2.6"/><ellipse cx="542.5" cy="459.4" rx="3.0" ry="2.6"/><ellipse cx="550.6" cy="445" rx="3.0" ry="2.6"/><ellipse cx="558.7" cy="451.7" rx="3.0" ry="2.6"/><ellipse cx="566.7" cy="449.5" rx="3.0" ry="2.6"/><ellipse cx="574.8" cy="452.8" rx="3.0" ry="2.6"/><ellipse cx="582.9" cy="439.2" rx="3.0" ry="2.6"/><ellipse cx="590.9" cy="436.7" rx="3.0" ry="2.6"/><ellipse cx="599" cy="439.3" rx="3.0" ry="2.6"/><ellipse cx="607.1" cy="429.3" rx="3.0" ry="2.6"/><ellipse cx="615.1" cy="442.6" rx="3.0" ry="2.6"/><ellipse cx="623.2" cy="435.5" rx="3.0" ry="2.6"/><ellipse cx="631.3" cy="441.1" rx="3.0" ry="2.6"/><ellipse cx="639.4" cy="434" rx="3.0" ry="2.6"/><ellipse cx="647.4" cy="426.3" rx="3.0" ry="2.6"/><ellipse cx="655.5" cy="428.7" rx="3.0" ry="2.6"/><ellipse cx="663.6" cy="424" rx="3.0" ry="2.6"/><ellipse cx="671.6" cy="424" rx="3.0" ry="2.6"/><ellipse cx="679.7" cy="414.3" rx="3.0" ry="2.6"/><ellipse cx="687.8" cy="426.7" rx="3.0" ry="2.6"/><ellipse cx="695.8" cy="430.7" rx="3.0" ry="2.6"/><ellipse cx="703.9" cy="419.3" rx="3.0" ry="2.6"/><ellipse cx="712" cy="427.2" rx="3.0" ry="2.6"/><ellipse cx="720" cy="426" rx="3.0" ry="2.6"/><ellipse cx="728.1" cy="420" rx="3.0" ry="2.6"/><ellipse cx="736.2" cy="431.5" rx="3.0" ry="2.6"/><ellipse cx="744.2" cy="431.4" rx="3.0" ry="2.6"/><ellipse cx="752.3" cy="427.1" rx="3.0" ry="2.6"/><ellipse cx="760.4" cy="422.9" rx="3.0" ry="2.6"/><ellipse cx="768.5" cy="425.8" rx="3.0" ry="2.6"/><ellipse cx="776.5" cy="430.6" rx="3.0" ry="2.6"/><ellipse cx="784.6" cy="432.3" rx="3.0" ry="2.6"/><ellipse cx="792.7" cy="446.2" rx="3.0" ry="2.6"/><ellipse cx="800.7" cy="442.7" rx="3.0" ry="2.6"/></g><path d="M195.6 434.2 L203.6 449.2 L211.7 434.7 L219.8 439 L227.8 440.3 L235.9 445.6 L244 439.3 L252.1 432.1 L260.1 430.4 L268.2 435.4 L276.3 437 L284.3 433.3 L292.4 432.8 L300.5 417.4 L308.5 424.9 L316.6 431.1 L324.7 441 L332.7 440.9 L340.8 427 L348.9 434.3 L356.9 442.9 L365 436 L373.1 447.3 L381.1 442.4 L389.2 450.5 L397.3 449.5 L405.4 441.7 L413.4 439.7 L421.5 447.6 L429.6 448.7 L437.6 439.2 L445.7 461.3 L453.8 445.5 L461.8 436.1 L469.9 439.1 L478 428.3 L486 430.7 L494.1 429.9 L502.2 433.1 L510.2 428.2 L518.3 436.2 L526.4 462.6 L534.5 452.9 L542.5 457.3 L550.6 455.5 L558.7 456.7 L566.7 463 L574.8 451.8 L582.9 451.8 L590.9 443.7 L599 443.7 L607.1 441.1 L615.1 433.1 L623.2 441.9 L631.3 434.8 L639.4 432.6 L647.4 439.7 L655.5 427.3 L663.6 422.9 L671.6 427.8 L679.7 422.9 L687.8 429.8 L695.8 428.2 L703.9 427.9 L712 430.2 L720 425.2 L728.1 423.6 L736.2 432.1 L744.2 433.9 L752.3 429 L760.4 430.7 L768.5 433 L776.5 435.2 L784.6 449.1 L792.7 445.4 L800.7 459.7" stroke="#77afc7"/><g stroke="#77afc7"><ellipse cx="195.6" cy="434.2" rx="3.0" ry="2.6"/><ellipse cx="203.6" cy="449.2" rx="3.0" ry="2.6"/><ellipse cx="211.7" cy="434.7" rx="3.0" ry="2.6"/><ellipse cx="219.8" cy="439" rx="3.0" ry="2.6"/><ellipse cx="227.8" cy="440.3" rx="3.0" ry="2.6"/><ellipse cx="235.9" cy="445.6" rx="3.0" ry="2.6"/><ellipse cx="244" cy="439.3" rx="3.0" ry="2.6"/><ellipse cx="252.1" cy="432.1" rx="3.0" ry="2.6"/><ellipse cx="260.1" cy="430.4" rx="3.0" ry="2.6"/><ellipse cx="268.2" cy="435.4" rx="3.0" ry="2.6"/><ellipse cx="276.3" cy="437" rx="3.0" ry="2.6"/><ellipse cx="284.3" cy="433.3" rx="3.0" ry="2.6"/><ellipse cx="292.4" cy="432.8" rx="3.0" ry="2.6"/><ellipse cx="300.5" cy="417.4" rx="3.0" ry="2.6"/><ellipse cx="308.5" cy="424.9" rx="3.0" ry="2.6"/><ellipse cx="316.6" cy="431.1" rx="3.0" ry="2.6"/><ellipse cx="324.7" cy="441" rx="3.0" ry="2.6"/><ellipse cx="332.7" cy="440.9" rx="3.0" ry="2.6"/><ellipse cx="340.8" cy="427" rx="3.0" ry="2.6"/><ellipse cx="348.9" cy="434.3" rx="3.0" ry="2.6"/><ellipse cx="356.9" cy="442.9" rx="3.0" ry="2.6"/><ellipse cx="365" cy="436" rx="3.0" ry="2.6"/><ellipse cx="373.1" cy="447.3" rx="3.0" ry="2.6"/><ellipse cx="381.1" cy="442.4" rx="3.0" ry="2.6"/><ellipse cx="389.2" cy="450.5" rx="3.0" ry="2.6"/><ellipse cx="397.3" cy="449.5" rx="3.0" ry="2.6"/><ellipse cx="405.4" cy="441.7" rx="3.0" ry="2.6"/><ellipse cx="413.4" cy="439.7" rx="3.0" ry="2.6"/><ellipse cx="421.5" cy="447.6" rx="3.0" ry="2.6"/><ellipse cx="429.6" cy="448.7" rx="3.0" ry="2.6"/><ellipse cx="437.6" cy="439.2" rx="3.0" ry="2.6"/><ellipse cx="445.7" cy="461.3" rx="3.0" ry="2.6"/><ellipse cx="453.8" cy="445.5" rx="3.0" ry="2.6"/><ellipse cx="461.8" cy="436.1" rx="3.0" ry="2.6"/><ellipse cx="469.9" cy="439.1" rx="3.0" ry="2.6"/><ellipse cx="478" cy="428.3" rx="3.0" ry="2.6"/><ellipse cx="486" cy="430.7" rx="3.0" ry="2.6"/><ellipse cx="494.1" cy="429.9" rx="3.0" ry="2.6"/><ellipse cx="502.2" cy="433.1" rx="3.0" ry="2.6"/><ellipse cx="510.2" cy="428.2" rx="3.0" ry="2.6"/><ellipse cx="518.3" cy="436.2" rx="3.0" ry="2.6"/><ellipse cx="526.4" cy="462.6" rx="3.0" ry="2.6"/><ellipse cx="534.5" cy="452.9" rx="3.0" ry="2.6"/><ellipse cx="542.5" cy="457.3" rx="3.0" ry="2.6"/><ellipse cx="550.6" cy="455.5" rx="3.0" ry="2.6"/><ellipse cx="558.7" cy="456.7" rx="3.0" ry="2.6"/><ellipse cx="566.7" cy="463" rx="3.0" ry="2.6"/><ellipse cx="574.8" cy="451.8" rx="3.0" ry="2.6"/><ellipse cx="582.9" cy="451.8" rx="3.0" ry="2.6"/><ellipse cx="590.9" cy="443.7" rx="3.0" ry="2.6"/><ellipse cx="599" cy="443.7" rx="3.0" ry="2.6"/><ellipse cx="607.1" cy="441.1" rx="3.0" ry="2.6"/><ellipse cx="615.1" cy="433.1" rx="3.0" ry="2.6"/><ellipse cx="623.2" cy="441.9" rx="3.0" ry="2.6"/><ellipse cx="631.3" cy="434.8" rx="3.0" ry="2.6"/><ellipse cx="639.4" cy="432.6" rx="3.0" ry="2.6"/><ellipse cx="647.4" cy="439.7" rx="3.0" ry="2.6"/><ellipse cx="655.5" cy="427.3" rx="3.0" ry="2.6"/><ellipse cx="663.6" cy="422.9" rx="3.0" ry="2.6"/><ellipse cx="671.6" cy="427.8" rx="3.0" ry="2.6"/><ellipse cx="679.7" cy="422.9" rx="3.0" ry="2.6"/><ellipse cx="687.8" cy="429.8" rx="3.0" ry="2.6"/><ellipse cx="695.8" cy="428.2" rx="3.0" ry="2.6"/><ellipse cx="703.9" cy="427.9" rx="3.0" ry="2.6"/><ellipse cx="712" cy="430.2" rx="3.0" ry="2.6"/><ellipse cx="720" cy="425.2" rx="3.0" ry="2.6"/><ellipse cx="728.1" cy="423.6" rx="3.0" ry="2.6"/><ellipse cx="736.2" cy="432.1" rx="3.0" ry="2.6"/><ellipse cx="744.2" cy="433.9" rx="3.0" ry="2.6"/><ellipse cx="752.3" cy="429" rx="3.0" ry="2.6"/><ellipse cx="760.4" cy="430.7" rx="3.0" ry="2.6"/><ellipse cx="768.5" cy="433" rx="3.0" ry="2.6"/><ellipse cx="776.5" cy="435.2" rx="3.0" ry="2.6"/><ellipse cx="784.6" cy="449.1" rx="3.0" ry="2.6"/><ellipse cx="792.7" cy="445.4" rx="3.0" ry="2.6"/><ellipse cx="800.7" cy="459.7" rx="3.0" ry="2.6"/></g><path d="M195.6 439.3 L203.6 438.8 L211.7 423.5 L219.8 436.4 L227.8 425.9 L235.9 438.4 L244 439.8 L252.1 429.2 L260.1 426.9 L268.2 429.5 L276.3 437.4 L284.3 425.2 L292.4 423.7 L300.5 421.4 L308.5 423.6 L316.6 433.9 L324.7 436 L332.7 423.6 L340.8 420.7 L348.9 433.8 L356.9 436.6 L365 433.2 L373.1 432.7 L381.1 436.7 L389.2 446.1 L397.3 441.7 L405.4 437.9 L413.4 430.1 L421.5 441.5 L429.6 437.6 L437.6 435.4 L445.7 443.6 L453.8 433.5 L461.8 434.6 L469.9 428.8 L478 418.4 L486 423.6 L494.1 428 L502.2 436.1 L510.2 427.9 L518.3 435.1 L526.4 442.5 L534.5 444 L542.5 459 L550.6 448.8 L558.7 452 L566.7 450.9 L574.8 446.4 L582.9 432.4 L590.9 438.1 L599 442.5 L607.1 436.1 L615.1 434.5 L623.2 433.7 L631.3 439.8 L639.4 428 L647.4 436.6 L655.5 420.1 L663.6 421.3 L671.6 419.1 L679.7 409.9 L687.8 423.2 L695.8 423.8 L703.9 419 L712 421.6 L720 429.9 L728.1 423 L736.2 430.5 L744.2 426.7 L752.3 421.5 L760.4 424 L768.5 423.6 L776.5 433.8 L784.6 447.8 L792.7 440.7 L800.7 447.9" stroke="#712a38"/><g stroke="#712a38"><ellipse cx="195.6" cy="439.3" rx="3.0" ry="2.6"/><ellipse cx="203.6" cy="438.8" rx="3.0" ry="2.6"/><ellipse cx="211.7" cy="423.5" rx="3.0" ry="2.6"/><ellipse cx="219.8" cy="436.4" rx="3.0" ry="2.6"/><ellipse cx="227.8" cy="425.9" rx="3.0" ry="2.6"/><ellipse cx="235.9" cy="438.4" rx="3.0" ry="2.6"/><ellipse cx="244" cy="439.8" rx="3.0" ry="2.6"/><ellipse cx="252.1" cy="429.2" rx="3.0" ry="2.6"/><ellipse cx="260.1" cy="426.9" rx="3.0" ry="2.6"/><ellipse cx="268.2" cy="429.5" rx="3.0" ry="2.6"/><ellipse cx="276.3" cy="437.4" rx="3.0" ry="2.6"/><ellipse cx="284.3" cy="425.2" rx="3.0" ry="2.6"/><ellipse cx="292.4" cy="423.7" rx="3.0" ry="2.6"/><ellipse cx="300.5" cy="421.4" rx="3.0" ry="2.6"/><ellipse cx="308.5" cy="423.6" rx="3.0" ry="2.6"/><ellipse cx="316.6" cy="433.9" rx="3.0" ry="2.6"/><ellipse cx="324.7" cy="436" rx="3.0" ry="2.6"/><ellipse cx="332.7" cy="423.6" rx="3.0" ry="2.6"/><ellipse cx="340.8" cy="420.7" rx="3.0" ry="2.6"/><ellipse cx="348.9" cy="433.8" rx="3.0" ry="2.6"/><ellipse cx="356.9" cy="436.6" rx="3.0" ry="2.6"/><ellipse cx="365" cy="433.2" rx="3.0" ry="2.6"/><ellipse cx="373.1" cy="432.7" rx="3.0" ry="2.6"/><ellipse cx="381.1" cy="436.7" rx="3.0" ry="2.6"/><ellipse cx="389.2" cy="446.1" rx="3.0" ry="2.6"/><ellipse cx="397.3" cy="441.7" rx="3.0" ry="2.6"/><ellipse cx="405.4" cy="437.9" rx="3.0" ry="2.6"/><ellipse cx="413.4" cy="430.1" rx="3.0" ry="2.6"/><ellipse cx="421.5" cy="441.5" rx="3.0" ry="2.6"/><ellipse cx="429.6" cy="437.6" rx="3.0" ry="2.6"/><ellipse cx="437.6" cy="435.4" rx="3.0" ry="2.6"/><ellipse cx="445.7" cy="443.6" rx="3.0" ry="2.6"/><ellipse cx="453.8" cy="433.5" rx="3.0" ry="2.6"/><ellipse cx="461.8" cy="434.6" rx="3.0" ry="2.6"/><ellipse cx="469.9" cy="428.8" rx="3.0" ry="2.6"/><ellipse cx="478" cy="418.4" rx="3.0" ry="2.6"/><ellipse cx="486" cy="423.6" rx="3.0" ry="2.6"/><ellipse cx="494.1" cy="428" rx="3.0" ry="2.6"/><ellipse cx="502.2" cy="436.1" rx="3.0" ry="2.6"/><ellipse cx="510.2" cy="427.9" rx="3.0" ry="2.6"/><ellipse cx="518.3" cy="435.1" rx="3.0" ry="2.6"/><ellipse cx="526.4" cy="442.5" rx="3.0" ry="2.6"/><ellipse cx="534.5" cy="444" rx="3.0" ry="2.6"/><ellipse cx="542.5" cy="459" rx="3.0" ry="2.6"/><ellipse cx="550.6" cy="448.8" rx="3.0" ry="2.6"/><ellipse cx="558.7" cy="452" rx="3.0" ry="2.6"/><ellipse cx="566.7" cy="450.9" rx="3.0" ry="2.6"/><ellipse cx="574.8" cy="446.4" rx="3.0" ry="2.6"/><ellipse cx="582.9" cy="432.4" rx="3.0" ry="2.6"/><ellipse cx="590.9" cy="438.1" rx="3.0" ry="2.6"/><ellipse cx="599" cy="442.5" rx="3.0" ry="2.6"/><ellipse cx="607.1" cy="436.1" rx="3.0" ry="2.6"/><ellipse cx="615.1" cy="434.5" rx="3.0" ry="2.6"/><ellipse cx="623.2" cy="433.7" rx="3.0" ry="2.6"/><ellipse cx="631.3" cy="439.8" rx="3.0" ry="2.6"/><ellipse cx="639.4" cy="428" rx="3.0" ry="2.6"/><ellipse cx="647.4" cy="436.6" rx="3.0" ry="2.6"/><ellipse cx="655.5" cy="420.1" rx="3.0" ry="2.6"/><ellipse cx="663.6" cy="421.3" rx="3.0" ry="2.6"/><ellipse cx="671.6" cy="419.1" rx="3.0" ry="2.6"/><ellipse cx="679.7" cy="409.9" rx="3.0" ry="2.6"/><ellipse cx="687.8" cy="423.2" rx="3.0" ry="2.6"/><ellipse cx="695.8" cy="423.8" rx="3.0" ry="2.6"/><ellipse cx="703.9" cy="419" rx="3.0" ry="2.6"/><ellipse cx="712" cy="421.6" rx="3.0" ry="2.6"/><ellipse cx="720" cy="429.9" rx="3.0" ry="2.6"/><ellipse cx="728.1" cy="423" rx="3.0" ry="2.6"/><ellipse cx="736.2" cy="430.5" rx="3.0" ry="2.6"/><ellipse cx="744.2" cy="426.7" rx="3.0" ry="2.6"/><ellipse cx="752.3" cy="421.5" rx="3.0" ry="2.6"/><ellipse cx="760.4" cy="424" rx="3.0" ry="2.6"/><ellipse cx="768.5" cy="423.6" rx="3.0" ry="2.6"/><ellipse cx="776.5" cy="433.8" rx="3.0" ry="2.6"/><ellipse cx="784.6" cy="447.8" rx="3.0" ry="2.6"/><ellipse cx="792.7" cy="440.7" rx="3.0" ry="2.6"/><ellipse cx="800.7" cy="447.9" rx="3.0" ry="2.6"/></g><path d="M195.6 438.9 L203.6 447.9 L211.7 433.1 L219.8 429.5 L227.8 435.1 L235.9 431.5 L244 442.6 L252.1 436.6 L260.1 431.1 L268.2 431.1 L276.3 438.8 L284.3 430.2 L292.4 419.4 L300.5 427.6 L308.5 429 L316.6 433.3 L324.7 438.3 L332.7 430.9 L340.8 427.2 L348.9 442.6 L356.9 429.7 L365 439.8 L373.1 442.1 L381.1 435.1 L389.2 443.9 L397.3 450.1 L405.4 443.6 L413.4 441.6 L421.5 453.3 L429.6 443.6 L437.6 439.3 L445.7 442.8 L453.8 448.3 L461.8 427.2 L469.9 437 L478 424.2 L486 422 L494.1 424.1 L502.2 432.4 L510.2 429.1 L518.3 429.3 L526.4 443.1 L534.5 453.1 L542.5 452 L550.6 454.5 L558.7 456.3 L566.7 451.3 L574.8 450.7 L582.9 443.4 L590.9 434.9 L599 441.7 L607.1 441.5 L615.1 433.5 L623.2 440.1 L631.3 433.4 L639.4 437.4 L647.4 432.2 L655.5 424.7 L663.6 433.5 L671.6 429.8 L679.7 425.1 L687.8 418.5 L695.8 433.5 L703.9 419.5 L712 423 L720 424.5 L728.1 423.7 L736.2 431.8 L744.2 431.8 L752.3 428.7 L760.4 424.8 L768.5 422.5 L776.5 437.9 L784.6 445.2 L792.7 448.8 L800.7 450.9" stroke="#2c658a"/><g stroke="#2c658a"><ellipse cx="195.6" cy="438.9" rx="3.0" ry="2.6"/><ellipse cx="203.6" cy="447.9" rx="3.0" ry="2.6"/><ellipse cx="211.7" cy="433.1" rx="3.0" ry="2.6"/><ellipse cx="219.8" cy="429.5" rx="3.0" ry="2.6"/><ellipse cx="227.8" cy="435.1" rx="3.0" ry="2.6"/><ellipse cx="235.9" cy="431.5" rx="3.0" ry="2.6"/><ellipse cx="244" cy="442.6" rx="3.0" ry="2.6"/><ellipse cx="252.1" cy="436.6" rx="3.0" ry="2.6"/><ellipse cx="260.1" cy="431.1" rx="3.0" ry="2.6"/><ellipse cx="268.2" cy="431.1" rx="3.0" ry="2.6"/><ellipse cx="276.3" cy="438.8" rx="3.0" ry="2.6"/><ellipse cx="284.3" cy="430.2" rx="3.0" ry="2.6"/><ellipse cx="292.4" cy="419.4" rx="3.0" ry="2.6"/><ellipse cx="300.5" cy="427.6" rx="3.0" ry="2.6"/><ellipse cx="308.5" cy="429" rx="3.0" ry="2.6"/><ellipse cx="316.6" cy="433.3" rx="3.0" ry="2.6"/><ellipse cx="324.7" cy="438.3" rx="3.0" ry="2.6"/><ellipse cx="332.7" cy="430.9" rx="3.0" ry="2.6"/><ellipse cx="340.8" cy="427.2" rx="3.0" ry="2.6"/><ellipse cx="348.9" cy="442.6" rx="3.0" ry="2.6"/><ellipse cx="356.9" cy="429.7" rx="3.0" ry="2.6"/><ellipse cx="365" cy="439.8" rx="3.0" ry="2.6"/><ellipse cx="373.1" cy="442.1" rx="3.0" ry="2.6"/><ellipse cx="381.1" cy="435.1" rx="3.0" ry="2.6"/><ellipse cx="389.2" cy="443.9" rx="3.0" ry="2.6"/><ellipse cx="397.3" cy="450.1" rx="3.0" ry="2.6"/><ellipse cx="405.4" cy="443.6" rx="3.0" ry="2.6"/><ellipse cx="413.4" cy="441.6" rx="3.0" ry="2.6"/><ellipse cx="421.5" cy="453.3" rx="3.0" ry="2.6"/><ellipse cx="429.6" cy="443.6" rx="3.0" ry="2.6"/><ellipse cx="437.6" cy="439.3" rx="3.0" ry="2.6"/><ellipse cx="445.7" cy="442.8" rx="3.0" ry="2.6"/><ellipse cx="453.8" cy="448.3" rx="3.0" ry="2.6"/><ellipse cx="461.8" cy="427.2" rx="3.0" ry="2.6"/><ellipse cx="469.9" cy="437" rx="3.0" ry="2.6"/><ellipse cx="478" cy="424.2" rx="3.0" ry="2.6"/><ellipse cx="486" cy="422" rx="3.0" ry="2.6"/><ellipse cx="494.1" cy="424.1" rx="3.0" ry="2.6"/><ellipse cx="502.2" cy="432.4" rx="3.0" ry="2.6"/><ellipse cx="510.2" cy="429.1" rx="3.0" ry="2.6"/><ellipse cx="518.3" cy="429.3" rx="3.0" ry="2.6"/><ellipse cx="526.4" cy="443.1" rx="3.0" ry="2.6"/><ellipse cx="534.5" cy="453.1" rx="3.0" ry="2.6"/><ellipse cx="542.5" cy="452" rx="3.0" ry="2.6"/><ellipse cx="550.6" cy="454.5" rx="3.0" ry="2.6"/><ellipse cx="558.7" cy="456.3" rx="3.0" ry="2.6"/><ellipse cx="566.7" cy="451.3" rx="3.0" ry="2.6"/><ellipse cx="574.8" cy="450.7" rx="3.0" ry="2.6"/><ellipse cx="582.9" cy="443.4" rx="3.0" ry="2.6"/><ellipse cx="590.9" cy="434.9" rx="3.0" ry="2.6"/><ellipse cx="599" cy="441.7" rx="3.0" ry="2.6"/><ellipse cx="607.1" cy="441.5" rx="3.0" ry="2.6"/><ellipse cx="615.1" cy="433.5" rx="3.0" ry="2.6"/><ellipse cx="623.2" cy="440.1" rx="3.0" ry="2.6"/><ellipse cx="631.3" cy="433.4" rx="3.0" ry="2.6"/><ellipse cx="639.4" cy="437.4" rx="3.0" ry="2.6"/><ellipse cx="647.4" cy="432.2" rx="3.0" ry="2.6"/><ellipse cx="655.5" cy="424.7" rx="3.0" ry="2.6"/><ellipse cx="663.6" cy="433.5" rx="3.0" ry="2.6"/><ellipse cx="671.6" cy="429.8" rx="3.0" ry="2.6"/><ellipse cx="679.7" cy="425.1" rx="3.0" ry="2.6"/><ellipse cx="687.8" cy="418.5" rx="3.0" ry="2.6"/><ellipse cx="695.8" cy="433.5" rx="3.0" ry="2.6"/><ellipse cx="703.9" cy="419.5" rx="3.0" ry="2.6"/><ellipse cx="712" cy="423" rx="3.0" ry="2.6"/><ellipse cx="720" cy="424.5" rx="3.0" ry="2.6"/><ellipse cx="728.1" cy="423.7" rx="3.0" ry="2.6"/><ellipse cx="736.2" cy="431.8" rx="3.0" ry="2.6"/><ellipse cx="744.2" cy="431.8" rx="3.0" ry="2.6"/><ellipse cx="752.3" cy="428.7" rx="3.0" ry="2.6"/><ellipse cx="760.4" cy="424.8" rx="3.0" ry="2.6"/><ellipse cx="768.5" cy="422.5" rx="3.0" ry="2.6"/><ellipse cx="776.5" cy="437.9" rx="3.0" ry="2.6"/><ellipse cx="784.6" cy="445.2" rx="3.0" ry="2.6"/><ellipse cx="792.7" cy="448.8" rx="3.0" ry="2.6"/><ellipse cx="800.7" cy="450.9" rx="3.0" ry="2.6"/></g><path d="M195.6 445.5 L203.6 449.5 L211.7 437.6 L219.8 438.7 L227.8 445.6 L235.9 441.6 L244 438.7 L252.1 434.3 L260.1 443.2 L268.2 435.2 L276.3 432.7 L284.3 428.2 L292.4 422.6 L300.5 420.6 L308.5 432.1 L316.6 428.9 L324.7 440.3 L332.7 440 L340.8 426.1 L348.9 440.3 L356.9 442.5 L365 441.9 L373.1 446.2 L381.1 440.9 L389.2 444.8 L397.3 441.8 L405.4 442.1 L413.4 444.1 L421.5 447.5 L429.6 447.9 L437.6 447.9 L445.7 447.9 L453.8 445.2 L461.8 433 L469.9 438.3 L478 426.2 L486 425.2 L494.1 435.7 L502.2 438.6 L510.2 434.9 L518.3 438.5 L526.4 445.1 L534.5 449.4 L542.5 456.2 L550.6 455.9 L558.7 455.8 L566.7 459.3 L574.8 460.8 L582.9 446.6 L590.9 447.6 L599 446 L607.1 442.1 L615.1 442.6 L623.2 441.7 L631.3 444.9 L639.4 439.4 L647.4 444.9 L655.5 428.4 L663.6 432.2 L671.6 424.6 L679.7 431.2 L687.8 430.8 L695.8 427.4 L703.9 434.4 L712 432.1 L720 429.1 L728.1 429.1 L736.2 439 L744.2 433.7 L752.3 432 L760.4 433.7 L768.5 425.3 L776.5 440.1 L784.6 445.1 L792.7 451.2 L800.7 453.2" stroke="#a66346"/><g stroke="#a66346"><ellipse cx="195.6" cy="445.5" rx="3.0" ry="2.6"/><ellipse cx="203.6" cy="449.5" rx="3.0" ry="2.6"/><ellipse cx="211.7" cy="437.6" rx="3.0" ry="2.6"/><ellipse cx="219.8" cy="438.7" rx="3.0" ry="2.6"/><ellipse cx="227.8" cy="445.6" rx="3.0" ry="2.6"/><ellipse cx="235.9" cy="441.6" rx="3.0" ry="2.6"/><ellipse cx="244" cy="438.7" rx="3.0" ry="2.6"/><ellipse cx="252.1" cy="434.3" rx="3.0" ry="2.6"/><ellipse cx="260.1" cy="443.2" rx="3.0" ry="2.6"/><ellipse cx="268.2" cy="435.2" rx="3.0" ry="2.6"/><ellipse cx="276.3" cy="432.7" rx="3.0" ry="2.6"/><ellipse cx="284.3" cy="428.2" rx="3.0" ry="2.6"/><ellipse cx="292.4" cy="422.6" rx="3.0" ry="2.6"/><ellipse cx="300.5" cy="420.6" rx="3.0" ry="2.6"/><ellipse cx="308.5" cy="432.1" rx="3.0" ry="2.6"/><ellipse cx="316.6" cy="428.9" rx="3.0" ry="2.6"/><ellipse cx="324.7" cy="440.3" rx="3.0" ry="2.6"/><ellipse cx="332.7" cy="440" rx="3.0" ry="2.6"/><ellipse cx="340.8" cy="426.1" rx="3.0" ry="2.6"/><ellipse cx="348.9" cy="440.3" rx="3.0" ry="2.6"/><ellipse cx="356.9" cy="442.5" rx="3.0" ry="2.6"/><ellipse cx="365" cy="441.9" rx="3.0" ry="2.6"/><ellipse cx="373.1" cy="446.2" rx="3.0" ry="2.6"/><ellipse cx="381.1" cy="440.9" rx="3.0" ry="2.6"/><ellipse cx="389.2" cy="444.8" rx="3.0" ry="2.6"/><ellipse cx="397.3" cy="441.8" rx="3.0" ry="2.6"/><ellipse cx="405.4" cy="442.1" rx="3.0" ry="2.6"/><ellipse cx="413.4" cy="444.1" rx="3.0" ry="2.6"/><ellipse cx="421.5" cy="447.5" rx="3.0" ry="2.6"/><ellipse cx="429.6" cy="447.9" rx="3.0" ry="2.6"/><ellipse cx="437.6" cy="447.9" rx="3.0" ry="2.6"/><ellipse cx="445.7" cy="447.9" rx="3.0" ry="2.6"/><ellipse cx="453.8" cy="445.2" rx="3.0" ry="2.6"/><ellipse cx="461.8" cy="433" rx="3.0" ry="2.6"/><ellipse cx="469.9" cy="438.3" rx="3.0" ry="2.6"/><ellipse cx="478" cy="426.2" rx="3.0" ry="2.6"/><ellipse cx="486" cy="425.2" rx="3.0" ry="2.6"/><ellipse cx="494.1" cy="435.7" rx="3.0" ry="2.6"/><ellipse cx="502.2" cy="438.6" rx="3.0" ry="2.6"/><ellipse cx="510.2" cy="434.9" rx="3.0" ry="2.6"/><ellipse cx="518.3" cy="438.5" rx="3.0" ry="2.6"/><ellipse cx="526.4" cy="445.1" rx="3.0" ry="2.6"/><ellipse cx="534.5" cy="449.4" rx="3.0" ry="2.6"/><ellipse cx="542.5" cy="456.2" rx="3.0" ry="2.6"/><ellipse cx="550.6" cy="455.9" rx="3.0" ry="2.6"/><ellipse cx="558.7" cy="455.8" rx="3.0" ry="2.6"/><ellipse cx="566.7" cy="459.3" rx="3.0" ry="2.6"/><ellipse cx="574.8" cy="460.8" rx="3.0" ry="2.6"/><ellipse cx="582.9" cy="446.6" rx="3.0" ry="2.6"/><ellipse cx="590.9" cy="447.6" rx="3.0" ry="2.6"/><ellipse cx="599" cy="446" rx="3.0" ry="2.6"/><ellipse cx="607.1" cy="442.1" rx="3.0" ry="2.6"/><ellipse cx="615.1" cy="442.6" rx="3.0" ry="2.6"/><ellipse cx="623.2" cy="441.7" rx="3.0" ry="2.6"/><ellipse cx="631.3" cy="444.9" rx="3.0" ry="2.6"/><ellipse cx="639.4" cy="439.4" rx="3.0" ry="2.6"/><ellipse cx="647.4" cy="444.9" rx="3.0" ry="2.6"/><ellipse cx="655.5" cy="428.4" rx="3.0" ry="2.6"/><ellipse cx="663.6" cy="432.2" rx="3.0" ry="2.6"/><ellipse cx="671.6" cy="424.6" rx="3.0" ry="2.6"/><ellipse cx="679.7" cy="431.2" rx="3.0" ry="2.6"/><ellipse cx="687.8" cy="430.8" rx="3.0" ry="2.6"/><ellipse cx="695.8" cy="427.4" rx="3.0" ry="2.6"/><ellipse cx="703.9" cy="434.4" rx="3.0" ry="2.6"/><ellipse cx="712" cy="432.1" rx="3.0" ry="2.6"/><ellipse cx="720" cy="429.1" rx="3.0" ry="2.6"/><ellipse cx="728.1" cy="429.1" rx="3.0" ry="2.6"/><ellipse cx="736.2" cy="439" rx="3.0" ry="2.6"/><ellipse cx="744.2" cy="433.7" rx="3.0" ry="2.6"/><ellipse cx="752.3" cy="432" rx="3.0" ry="2.6"/><ellipse cx="760.4" cy="433.7" rx="3.0" ry="2.6"/><ellipse cx="768.5" cy="425.3" rx="3.0" ry="2.6"/><ellipse cx="776.5" cy="440.1" rx="3.0" ry="2.6"/><ellipse cx="784.6" cy="445.1" rx="3.0" ry="2.6"/><ellipse cx="792.7" cy="451.2" rx="3.0" ry="2.6"/><ellipse cx="800.7" cy="453.2" rx="3.0" ry="2.6"/></g><path d="M195.6 432.5 L203.6 443 L211.7 435.1 L219.8 435.7 L227.8 430.8 L235.9 438.9 L244 433.1 L252.1 432.5 L260.1 433.2 L268.2 439.1 L276.3 431.3 L284.3 426.5 L292.4 424.3 L300.5 425.5 L308.5 419.7 L316.6 429.3 L324.7 438.7 L332.7 436.8 L340.8 428.3 L348.9 439.4 L356.9 440.4 L365 429.4 L373.1 434.1 L381.1 437.8 L389.2 437.8 L397.3 442.4 L405.4 448.2 L413.4 433.5 L421.5 443.8 L429.6 440.2 L437.6 451.1 L445.7 439.1 L453.8 436.7 L461.8 437.4 L469.9 432.4 L478 421.5 L486 422.6 L494.1 422.7 L502.2 430.8 L510.2 428.1 L518.3 437 L526.4 450 L534.5 452.9 L542.5 445.6 L550.6 450 L558.7 449.2 L566.7 447.3 L574.8 444.9 L582.9 439.9 L590.9 441.2 L599 440.9 L607.1 444 L615.1 438.2 L623.2 434.8 L631.3 446.6 L639.4 433.9 L647.4 431.2 L655.5 420.4 L663.6 429.6 L671.6 426.3 L679.7 428.4 L687.8 429 L695.8 423.3 L703.9 415.6 L712 432.6 L720 420.7 L728.1 424.8 L736.2 431.9 L744.2 423.9 L752.3 437.8 L760.4 427 L768.5 424.7 L776.5 429.1 L784.6 434.6 L792.7 438.5 L800.7 452.2" stroke="#cfb169"/><g stroke="#cfb169"><ellipse cx="195.6" cy="432.5" rx="3.0" ry="2.6"/><ellipse cx="203.6" cy="443" rx="3.0" ry="2.6"/><ellipse cx="211.7" cy="435.1" rx="3.0" ry="2.6"/><ellipse cx="219.8" cy="435.7" rx="3.0" ry="2.6"/><ellipse cx="227.8" cy="430.8" rx="3.0" ry="2.6"/><ellipse cx="235.9" cy="438.9" rx="3.0" ry="2.6"/><ellipse cx="244" cy="433.1" rx="3.0" ry="2.6"/><ellipse cx="252.1" cy="432.5" rx="3.0" ry="2.6"/><ellipse cx="260.1" cy="433.2" rx="3.0" ry="2.6"/><ellipse cx="268.2" cy="439.1" rx="3.0" ry="2.6"/><ellipse cx="276.3" cy="431.3" rx="3.0" ry="2.6"/><ellipse cx="284.3" cy="426.5" rx="3.0" ry="2.6"/><ellipse cx="292.4" cy="424.3" rx="3.0" ry="2.6"/><ellipse cx="300.5" cy="425.5" rx="3.0" ry="2.6"/><ellipse cx="308.5" cy="419.7" rx="3.0" ry="2.6"/><ellipse cx="316.6" cy="429.3" rx="3.0" ry="2.6"/><ellipse cx="324.7" cy="438.7" rx="3.0" ry="2.6"/><ellipse cx="332.7" cy="436.8" rx="3.0" ry="2.6"/><ellipse cx="340.8" cy="428.3" rx="3.0" ry="2.6"/><ellipse cx="348.9" cy="439.4" rx="3.0" ry="2.6"/><ellipse cx="356.9" cy="440.4" rx="3.0" ry="2.6"/><ellipse cx="365" cy="429.4" rx="3.0" ry="2.6"/><ellipse cx="373.1" cy="434.1" rx="3.0" ry="2.6"/><ellipse cx="381.1" cy="437.8" rx="3.0" ry="2.6"/><ellipse cx="389.2" cy="437.8" rx="3.0" ry="2.6"/><ellipse cx="397.3" cy="442.4" rx="3.0" ry="2.6"/><ellipse cx="405.4" cy="448.2" rx="3.0" ry="2.6"/><ellipse cx="413.4" cy="433.5" rx="3.0" ry="2.6"/><ellipse cx="421.5" cy="443.8" rx="3.0" ry="2.6"/><ellipse cx="429.6" cy="440.2" rx="3.0" ry="2.6"/><ellipse cx="437.6" cy="451.1" rx="3.0" ry="2.6"/><ellipse cx="445.7" cy="439.1" rx="3.0" ry="2.6"/><ellipse cx="453.8" cy="436.7" rx="3.0" ry="2.6"/><ellipse cx="461.8" cy="437.4" rx="3.0" ry="2.6"/><ellipse cx="469.9" cy="432.4" rx="3.0" ry="2.6"/><ellipse cx="478" cy="421.5" rx="3.0" ry="2.6"/><ellipse cx="486" cy="422.6" rx="3.0" ry="2.6"/><ellipse cx="494.1" cy="422.7" rx="3.0" ry="2.6"/><ellipse cx="502.2" cy="430.8" rx="3.0" ry="2.6"/><ellipse cx="510.2" cy="428.1" rx="3.0" ry="2.6"/><ellipse cx="518.3" cy="437" rx="3.0" ry="2.6"/><ellipse cx="526.4" cy="450" rx="3.0" ry="2.6"/><ellipse cx="534.5" cy="452.9" rx="3.0" ry="2.6"/><ellipse cx="542.5" cy="445.6" rx="3.0" ry="2.6"/><ellipse cx="550.6" cy="450" rx="3.0" ry="2.6"/><ellipse cx="558.7" cy="449.2" rx="3.0" ry="2.6"/><ellipse cx="566.7" cy="447.3" rx="3.0" ry="2.6"/><ellipse cx="574.8" cy="444.9" rx="3.0" ry="2.6"/><ellipse cx="582.9" cy="439.9" rx="3.0" ry="2.6"/><ellipse cx="590.9" cy="441.2" rx="3.0" ry="2.6"/><ellipse cx="599" cy="440.9" rx="3.0" ry="2.6"/><ellipse cx="607.1" cy="444" rx="3.0" ry="2.6"/><ellipse cx="615.1" cy="438.2" rx="3.0" ry="2.6"/><ellipse cx="623.2" cy="434.8" rx="3.0" ry="2.6"/><ellipse cx="631.3" cy="446.6" rx="3.0" ry="2.6"/><ellipse cx="639.4" cy="433.9" rx="3.0" ry="2.6"/><ellipse cx="647.4" cy="431.2" rx="3.0" ry="2.6"/><ellipse cx="655.5" cy="420.4" rx="3.0" ry="2.6"/><ellipse cx="663.6" cy="429.6" rx="3.0" ry="2.6"/><ellipse cx="671.6" cy="426.3" rx="3.0" ry="2.6"/><ellipse cx="679.7" cy="428.4" rx="3.0" ry="2.6"/><ellipse cx="687.8" cy="429" rx="3.0" ry="2.6"/><ellipse cx="695.8" cy="423.3" rx="3.0" ry="2.6"/><ellipse cx="703.9" cy="415.6" rx="3.0" ry="2.6"/><ellipse cx="712" cy="432.6" rx="3.0" ry="2.6"/><ellipse cx="720" cy="420.7" rx="3.0" ry="2.6"/><ellipse cx="728.1" cy="424.8" rx="3.0" ry="2.6"/><ellipse cx="736.2" cy="431.9" rx="3.0" ry="2.6"/><ellipse cx="744.2" cy="423.9" rx="3.0" ry="2.6"/><ellipse cx="752.3" cy="437.8" rx="3.0" ry="2.6"/><ellipse cx="760.4" cy="427" rx="3.0" ry="2.6"/><ellipse cx="768.5" cy="424.7" rx="3.0" ry="2.6"/><ellipse cx="776.5" cy="429.1" rx="3.0" ry="2.6"/><ellipse cx="784.6" cy="434.6" rx="3.0" ry="2.6"/><ellipse cx="792.7" cy="438.5" rx="3.0" ry="2.6"/><ellipse cx="800.7" cy="452.2" rx="3.0" ry="2.6"/></g><path d="M195.6 430 L203.6 441.2 L211.7 429.3 L219.8 434 L227.8 435 L235.9 441.1 L244 425.3 L252.1 435.2 L260.1 438.9 L268.2 428.4 L276.3 430.5 L284.3 425.2 L292.4 415.5 L300.5 421.2 L308.5 424.5 L316.6 430.5 L324.7 434.6 L332.7 434.1 L340.8 427.4 L348.9 425.3 L356.9 432.8 L365 439.5 L373.1 430.2 L381.1 437.1 L389.2 438.6 L397.3 440.3 L405.4 436 L413.4 434.2 L421.5 441.5 L429.6 436.5 L437.6 435.8 L445.7 445 L453.8 441.1 L461.8 436.9 L469.9 427.3 L478 419.7 L486 422.7 L494.1 423.4 L502.2 421.6 L510.2 424.2 L518.3 440.7 L526.4 442.5 L534.5 444.3 L542.5 452.2 L550.6 448 L558.7 448.2 L566.7 449.3 L574.8 455.4 L582.9 437.7 L590.9 437.6 L599 439 L607.1 437 L615.1 441.8 L623.2 442.5 L631.3 438.7 L639.4 437.9 L647.4 441.2 L655.5 419.7 L663.6 429.1 L671.6 425.2 L679.7 416.6 L687.8 431 L695.8 418.3 L703.9 425.3 L712 423.3 L720 427.2 L728.1 423.8 L736.2 427.8 L744.2 430.4 L752.3 436.2 L760.4 431.5 L768.5 424.3 L776.5 429.5 L784.6 443.2 L792.7 442.7 L800.7 450.5" stroke="#67406f"/><g stroke="#67406f"><ellipse cx="195.6" cy="430" rx="3.0" ry="2.6"/><ellipse cx="203.6" cy="441.2" rx="3.0" ry="2.6"/><ellipse cx="211.7" cy="429.3" rx="3.0" ry="2.6"/><ellipse cx="219.8" cy="434" rx="3.0" ry="2.6"/><ellipse cx="227.8" cy="435" rx="3.0" ry="2.6"/><ellipse cx="235.9" cy="441.1" rx="3.0" ry="2.6"/><ellipse cx="244" cy="425.3" rx="3.0" ry="2.6"/><ellipse cx="252.1" cy="435.2" rx="3.0" ry="2.6"/><ellipse cx="260.1" cy="438.9" rx="3.0" ry="2.6"/><ellipse cx="268.2" cy="428.4" rx="3.0" ry="2.6"/><ellipse cx="276.3" cy="430.5" rx="3.0" ry="2.6"/><ellipse cx="284.3" cy="425.2" rx="3.0" ry="2.6"/><ellipse cx="292.4" cy="415.5" rx="3.0" ry="2.6"/><ellipse cx="300.5" cy="421.2" rx="3.0" ry="2.6"/><ellipse cx="308.5" cy="424.5" rx="3.0" ry="2.6"/><ellipse cx="316.6" cy="430.5" rx="3.0" ry="2.6"/><ellipse cx="324.7" cy="434.6" rx="3.0" ry="2.6"/><ellipse cx="332.7" cy="434.1" rx="3.0" ry="2.6"/><ellipse cx="340.8" cy="427.4" rx="3.0" ry="2.6"/><ellipse cx="348.9" cy="425.3" rx="3.0" ry="2.6"/><ellipse cx="356.9" cy="432.8" rx="3.0" ry="2.6"/><ellipse cx="365" cy="439.5" rx="3.0" ry="2.6"/><ellipse cx="373.1" cy="430.2" rx="3.0" ry="2.6"/><ellipse cx="381.1" cy="437.1" rx="3.0" ry="2.6"/><ellipse cx="389.2" cy="438.6" rx="3.0" ry="2.6"/><ellipse cx="397.3" cy="440.3" rx="3.0" ry="2.6"/><ellipse cx="405.4" cy="436" rx="3.0" ry="2.6"/><ellipse cx="413.4" cy="434.2" rx="3.0" ry="2.6"/><ellipse cx="421.5" cy="441.5" rx="3.0" ry="2.6"/><ellipse cx="429.6" cy="436.5" rx="3.0" ry="2.6"/><ellipse cx="437.6" cy="435.8" rx="3.0" ry="2.6"/><ellipse cx="445.7" cy="445" rx="3.0" ry="2.6"/><ellipse cx="453.8" cy="441.1" rx="3.0" ry="2.6"/><ellipse cx="461.8" cy="436.9" rx="3.0" ry="2.6"/><ellipse cx="469.9" cy="427.3" rx="3.0" ry="2.6"/><ellipse cx="478" cy="419.7" rx="3.0" ry="2.6"/><ellipse cx="486" cy="422.7" rx="3.0" ry="2.6"/><ellipse cx="494.1" cy="423.4" rx="3.0" ry="2.6"/><ellipse cx="502.2" cy="421.6" rx="3.0" ry="2.6"/><ellipse cx="510.2" cy="424.2" rx="3.0" ry="2.6"/><ellipse cx="518.3" cy="440.7" rx="3.0" ry="2.6"/><ellipse cx="526.4" cy="442.5" rx="3.0" ry="2.6"/><ellipse cx="534.5" cy="444.3" rx="3.0" ry="2.6"/><ellipse cx="542.5" cy="452.2" rx="3.0" ry="2.6"/><ellipse cx="550.6" cy="448" rx="3.0" ry="2.6"/><ellipse cx="558.7" cy="448.2" rx="3.0" ry="2.6"/><ellipse cx="566.7" cy="449.3" rx="3.0" ry="2.6"/><ellipse cx="574.8" cy="455.4" rx="3.0" ry="2.6"/><ellipse cx="582.9" cy="437.7" rx="3.0" ry="2.6"/><ellipse cx="590.9" cy="437.6" rx="3.0" ry="2.6"/><ellipse cx="599" cy="439" rx="3.0" ry="2.6"/><ellipse cx="607.1" cy="437" rx="3.0" ry="2.6"/><ellipse cx="615.1" cy="441.8" rx="3.0" ry="2.6"/><ellipse cx="623.2" cy="442.5" rx="3.0" ry="2.6"/><ellipse cx="631.3" cy="438.7" rx="3.0" ry="2.6"/><ellipse cx="639.4" cy="437.9" rx="3.0" ry="2.6"/><ellipse cx="647.4" cy="441.2" rx="3.0" ry="2.6"/><ellipse cx="655.5" cy="419.7" rx="3.0" ry="2.6"/><ellipse cx="663.6" cy="429.1" rx="3.0" ry="2.6"/><ellipse cx="671.6" cy="425.2" rx="3.0" ry="2.6"/><ellipse cx="679.7" cy="416.6" rx="3.0" ry="2.6"/><ellipse cx="687.8" cy="431" rx="3.0" ry="2.6"/><ellipse cx="695.8" cy="418.3" rx="3.0" ry="2.6"/><ellipse cx="703.9" cy="425.3" rx="3.0" ry="2.6"/><ellipse cx="712" cy="423.3" rx="3.0" ry="2.6"/><ellipse cx="720" cy="427.2" rx="3.0" ry="2.6"/><ellipse cx="728.1" cy="423.8" rx="3.0" ry="2.6"/><ellipse cx="736.2" cy="427.8" rx="3.0" ry="2.6"/><ellipse cx="744.2" cy="430.4" rx="3.0" ry="2.6"/><ellipse cx="752.3" cy="436.2" rx="3.0" ry="2.6"/><ellipse cx="760.4" cy="431.5" rx="3.0" ry="2.6"/><ellipse cx="768.5" cy="424.3" rx="3.0" ry="2.6"/><ellipse cx="776.5" cy="429.5" rx="3.0" ry="2.6"/><ellipse cx="784.6" cy="443.2" rx="3.0" ry="2.6"/><ellipse cx="792.7" cy="442.7" rx="3.0" ry="2.6"/><ellipse cx="800.7" cy="450.5" rx="3.0" ry="2.6"/></g><path d="M195.6 432.4 L203.6 450.7 L211.7 430.6 L219.8 434.9 L227.8 435.4 L235.9 440.4 L244 437.5 L252.1 438.5 L260.1 436.5 L268.2 422.5 L276.3 423.9 L284.3 426.7 L292.4 421 L300.5 425.8 L308.5 432.2 L316.6 436 L324.7 434.8 L332.7 426.8 L340.8 429.3 L348.9 438.4 L356.9 436.4 L365 441 L373.1 445.1 L381.1 442.7 L389.2 444.7 L397.3 447.8 L405.4 444.2 L413.4 442 L421.5 447.4 L429.6 435.6 L437.6 443.3 L445.7 435.8 L453.8 448.9 L461.8 433.4 L469.9 437.3 L478 424.9 L486 421.1 L494.1 424.4 L502.2 425.6 L510.2 432.8 L518.3 442.1 L526.4 443.8 L534.5 446.6 L542.5 455.9 L550.6 446.7 L558.7 446.9 L566.7 457.7 L574.8 450 L582.9 437.3 L590.9 446 L599 439.5 L607.1 436.4 L615.1 442.8 L623.2 432.3 L631.3 437.1 L639.4 436.2 L647.4 432.2 L655.5 422.7 L663.6 421.6 L671.6 420.4 L679.7 418 L687.8 429 L695.8 426.8 L703.9 422.3 L712 435 L720 418 L728.1 427.6 L736.2 433.7 L744.2 439.1 L752.3 428.1 L760.4 425.9 L768.5 427.5 L776.5 438.2 L784.6 445.5 L792.7 449.1 L800.7 452.5" stroke="#829d5f"/><g stroke="#829d5f"><ellipse cx="195.6" cy="432.4" rx="3.0" ry="2.6"/><ellipse cx="203.6" cy="450.7" rx="3.0" ry="2.6"/><ellipse cx="211.7" cy="430.6" rx="3.0" ry="2.6"/><ellipse cx="219.8" cy="434.9" rx="3.0" ry="2.6"/><ellipse cx="227.8" cy="435.4" rx="3.0" ry="2.6"/><ellipse cx="235.9" cy="440.4" rx="3.0" ry="2.6"/><ellipse cx="244" cy="437.5" rx="3.0" ry="2.6"/><ellipse cx="252.1" cy="438.5" rx="3.0" ry="2.6"/><ellipse cx="260.1" cy="436.5" rx="3.0" ry="2.6"/><ellipse cx="268.2" cy="422.5" rx="3.0" ry="2.6"/><ellipse cx="276.3" cy="423.9" rx="3.0" ry="2.6"/><ellipse cx="284.3" cy="426.7" rx="3.0" ry="2.6"/><ellipse cx="292.4" cy="421" rx="3.0" ry="2.6"/><ellipse cx="300.5" cy="425.8" rx="3.0" ry="2.6"/><ellipse cx="308.5" cy="432.2" rx="3.0" ry="2.6"/><ellipse cx="316.6" cy="436" rx="3.0" ry="2.6"/><ellipse cx="324.7" cy="434.8" rx="3.0" ry="2.6"/><ellipse cx="332.7" cy="426.8" rx="3.0" ry="2.6"/><ellipse cx="340.8" cy="429.3" rx="3.0" ry="2.6"/><ellipse cx="348.9" cy="438.4" rx="3.0" ry="2.6"/><ellipse cx="356.9" cy="436.4" rx="3.0" ry="2.6"/><ellipse cx="365" cy="441" rx="3.0" ry="2.6"/><ellipse cx="373.1" cy="445.1" rx="3.0" ry="2.6"/><ellipse cx="381.1" cy="442.7" rx="3.0" ry="2.6"/><ellipse cx="389.2" cy="444.7" rx="3.0" ry="2.6"/><ellipse cx="397.3" cy="447.8" rx="3.0" ry="2.6"/><ellipse cx="405.4" cy="444.2" rx="3.0" ry="2.6"/><ellipse cx="413.4" cy="442" rx="3.0" ry="2.6"/><ellipse cx="421.5" cy="447.4" rx="3.0" ry="2.6"/><ellipse cx="429.6" cy="435.6" rx="3.0" ry="2.6"/><ellipse cx="437.6" cy="443.3" rx="3.0" ry="2.6"/><ellipse cx="445.7" cy="435.8" rx="3.0" ry="2.6"/><ellipse cx="453.8" cy="448.9" rx="3.0" ry="2.6"/><ellipse cx="461.8" cy="433.4" rx="3.0" ry="2.6"/><ellipse cx="469.9" cy="437.3" rx="3.0" ry="2.6"/><ellipse cx="478" cy="424.9" rx="3.0" ry="2.6"/><ellipse cx="486" cy="421.1" rx="3.0" ry="2.6"/><ellipse cx="494.1" cy="424.4" rx="3.0" ry="2.6"/><ellipse cx="502.2" cy="425.6" rx="3.0" ry="2.6"/><ellipse cx="510.2" cy="432.8" rx="3.0" ry="2.6"/><ellipse cx="518.3" cy="442.1" rx="3.0" ry="2.6"/><ellipse cx="526.4" cy="443.8" rx="3.0" ry="2.6"/><ellipse cx="534.5" cy="446.6" rx="3.0" ry="2.6"/><ellipse cx="542.5" cy="455.9" rx="3.0" ry="2.6"/><ellipse cx="550.6" cy="446.7" rx="3.0" ry="2.6"/><ellipse cx="558.7" cy="446.9" rx="3.0" ry="2.6"/><ellipse cx="566.7" cy="457.7" rx="3.0" ry="2.6"/><ellipse cx="574.8" cy="450" rx="3.0" ry="2.6"/><ellipse cx="582.9" cy="437.3" rx="3.0" ry="2.6"/><ellipse cx="590.9" cy="446" rx="3.0" ry="2.6"/><ellipse cx="599" cy="439.5" rx="3.0" ry="2.6"/><ellipse cx="607.1" cy="436.4" rx="3.0" ry="2.6"/><ellipse cx="615.1" cy="442.8" rx="3.0" ry="2.6"/><ellipse cx="623.2" cy="432.3" rx="3.0" ry="2.6"/><ellipse cx="631.3" cy="437.1" rx="3.0" ry="2.6"/><ellipse cx="639.4" cy="436.2" rx="3.0" ry="2.6"/><ellipse cx="647.4" cy="432.2" rx="3.0" ry="2.6"/><ellipse cx="655.5" cy="422.7" rx="3.0" ry="2.6"/><ellipse cx="663.6" cy="421.6" rx="3.0" ry="2.6"/><ellipse cx="671.6" cy="420.4" rx="3.0" ry="2.6"/><ellipse cx="679.7" cy="418" rx="3.0" ry="2.6"/><ellipse cx="687.8" cy="429" rx="3.0" ry="2.6"/><ellipse cx="695.8" cy="426.8" rx="3.0" ry="2.6"/><ellipse cx="703.9" cy="422.3" rx="3.0" ry="2.6"/><ellipse cx="712" cy="435" rx="3.0" ry="2.6"/><ellipse cx="720" cy="418" rx="3.0" ry="2.6"/><ellipse cx="728.1" cy="427.6" rx="3.0" ry="2.6"/><ellipse cx="736.2" cy="433.7" rx="3.0" ry="2.6"/><ellipse cx="744.2" cy="439.1" rx="3.0" ry="2.6"/><ellipse cx="752.3" cy="428.1" rx="3.0" ry="2.6"/><ellipse cx="760.4" cy="425.9" rx="3.0" ry="2.6"/><ellipse cx="768.5" cy="427.5" rx="3.0" ry="2.6"/><ellipse cx="776.5" cy="438.2" rx="3.0" ry="2.6"/><ellipse cx="784.6" cy="445.5" rx="3.0" ry="2.6"/><ellipse cx="792.7" cy="449.1" rx="3.0" ry="2.6"/><ellipse cx="800.7" cy="452.5" rx="3.0" ry="2.6"/></g><path d="M195.6 435.7 L203.6 446.8 L211.7 433.1 L219.8 434.3 L227.8 430.5 L235.9 436 L244 435.1 L252.1 436.7 L260.1 437.2 L268.2 433.9 L276.3 430.2 L284.3 427.8 L292.4 427.8 L300.5 429.3 L308.5 432.8 L316.6 428.6 L324.7 432.9 L332.7 433.4 L340.8 437 L348.9 437 L356.9 436.4 L365 442.6 L373.1 439.5 L381.1 444.5 L389.2 448.5 L397.3 451.6 L405.4 438.8 L413.4 438.4 L421.5 454.2 L429.6 448 L437.6 440.5 L445.7 443.1 L453.8 445.2 L461.8 429.7 L469.9 435.5 L478 430.7 L486 418.8 L494.1 429.5 L502.2 430.9 L510.2 432.2 L518.3 443 L526.4 450 L534.5 450.7 L542.5 448.7 L550.6 456.8 L558.7 450.2 L566.7 452.6 L574.8 458.3 L582.9 442.4 L590.9 437.5 L599 446.2 L607.1 445.3 L615.1 437.1 L623.2 444.7 L631.3 438 L639.4 444 L647.4 436.6 L655.5 430.9 L663.6 433.3 L671.6 425.9 L679.7 421 L687.8 428.3 L695.8 432 L703.9 423.9 L712 436.5 L720 425.6 L728.1 425.8 L736.2 423.8 L744.2 429.4 L752.3 429.6 L760.4 426.8 L768.5 426.8 L776.5 444.1 L784.6 437.3 L792.7 445.5 L800.7 455.3" stroke="#77afc7"/><g stroke="#77afc7"><ellipse cx="195.6" cy="435.7" rx="3.0" ry="2.6"/><ellipse cx="203.6" cy="446.8" rx="3.0" ry="2.6"/><ellipse cx="211.7" cy="433.1" rx="3.0" ry="2.6"/><ellipse cx="219.8" cy="434.3" rx="3.0" ry="2.6"/><ellipse cx="227.8" cy="430.5" rx="3.0" ry="2.6"/><ellipse cx="235.9" cy="436" rx="3.0" ry="2.6"/><ellipse cx="244" cy="435.1" rx="3.0" ry="2.6"/><ellipse cx="252.1" cy="436.7" rx="3.0" ry="2.6"/><ellipse cx="260.1" cy="437.2" rx="3.0" ry="2.6"/><ellipse cx="268.2" cy="433.9" rx="3.0" ry="2.6"/><ellipse cx="276.3" cy="430.2" rx="3.0" ry="2.6"/><ellipse cx="284.3" cy="427.8" rx="3.0" ry="2.6"/><ellipse cx="292.4" cy="427.8" rx="3.0" ry="2.6"/><ellipse cx="300.5" cy="429.3" rx="3.0" ry="2.6"/><ellipse cx="308.5" cy="432.8" rx="3.0" ry="2.6"/><ellipse cx="316.6" cy="428.6" rx="3.0" ry="2.6"/><ellipse cx="324.7" cy="432.9" rx="3.0" ry="2.6"/><ellipse cx="332.7" cy="433.4" rx="3.0" ry="2.6"/><ellipse cx="340.8" cy="437" rx="3.0" ry="2.6"/><ellipse cx="348.9" cy="437" rx="3.0" ry="2.6"/><ellipse cx="356.9" cy="436.4" rx="3.0" ry="2.6"/><ellipse cx="365" cy="442.6" rx="3.0" ry="2.6"/><ellipse cx="373.1" cy="439.5" rx="3.0" ry="2.6"/><ellipse cx="381.1" cy="444.5" rx="3.0" ry="2.6"/><ellipse cx="389.2" cy="448.5" rx="3.0" ry="2.6"/><ellipse cx="397.3" cy="451.6" rx="3.0" ry="2.6"/><ellipse cx="405.4" cy="438.8" rx="3.0" ry="2.6"/><ellipse cx="413.4" cy="438.4" rx="3.0" ry="2.6"/><ellipse cx="421.5" cy="454.2" rx="3.0" ry="2.6"/><ellipse cx="429.6" cy="448" rx="3.0" ry="2.6"/><ellipse cx="437.6" cy="440.5" rx="3.0" ry="2.6"/><ellipse cx="445.7" cy="443.1" rx="3.0" ry="2.6"/><ellipse cx="453.8" cy="445.2" rx="3.0" ry="2.6"/><ellipse cx="461.8" cy="429.7" rx="3.0" ry="2.6"/><ellipse cx="469.9" cy="435.5" rx="3.0" ry="2.6"/><ellipse cx="478" cy="430.7" rx="3.0" ry="2.6"/><ellipse cx="486" cy="418.8" rx="3.0" ry="2.6"/><ellipse cx="494.1" cy="429.5" rx="3.0" ry="2.6"/><ellipse cx="502.2" cy="430.9" rx="3.0" ry="2.6"/><ellipse cx="510.2" cy="432.2" rx="3.0" ry="2.6"/><ellipse cx="518.3" cy="443" rx="3.0" ry="2.6"/><ellipse cx="526.4" cy="450" rx="3.0" ry="2.6"/><ellipse cx="534.5" cy="450.7" rx="3.0" ry="2.6"/><ellipse cx="542.5" cy="448.7" rx="3.0" ry="2.6"/><ellipse cx="550.6" cy="456.8" rx="3.0" ry="2.6"/><ellipse cx="558.7" cy="450.2" rx="3.0" ry="2.6"/><ellipse cx="566.7" cy="452.6" rx="3.0" ry="2.6"/><ellipse cx="574.8" cy="458.3" rx="3.0" ry="2.6"/><ellipse cx="582.9" cy="442.4" rx="3.0" ry="2.6"/><ellipse cx="590.9" cy="437.5" rx="3.0" ry="2.6"/><ellipse cx="599" cy="446.2" rx="3.0" ry="2.6"/><ellipse cx="607.1" cy="445.3" rx="3.0" ry="2.6"/><ellipse cx="615.1" cy="437.1" rx="3.0" ry="2.6"/><ellipse cx="623.2" cy="444.7" rx="3.0" ry="2.6"/><ellipse cx="631.3" cy="438" rx="3.0" ry="2.6"/><ellipse cx="639.4" cy="444" rx="3.0" ry="2.6"/><ellipse cx="647.4" cy="436.6" rx="3.0" ry="2.6"/><ellipse cx="655.5" cy="430.9" rx="3.0" ry="2.6"/><ellipse cx="663.6" cy="433.3" rx="3.0" ry="2.6"/><ellipse cx="671.6" cy="425.9" rx="3.0" ry="2.6"/><ellipse cx="679.7" cy="421" rx="3.0" ry="2.6"/><ellipse cx="687.8" cy="428.3" rx="3.0" ry="2.6"/><ellipse cx="695.8" cy="432" rx="3.0" ry="2.6"/><ellipse cx="703.9" cy="423.9" rx="3.0" ry="2.6"/><ellipse cx="712" cy="436.5" rx="3.0" ry="2.6"/><ellipse cx="720" cy="425.6" rx="3.0" ry="2.6"/><ellipse cx="728.1" cy="425.8" rx="3.0" ry="2.6"/><ellipse cx="736.2" cy="423.8" rx="3.0" ry="2.6"/><ellipse cx="744.2" cy="429.4" rx="3.0" ry="2.6"/><ellipse cx="752.3" cy="429.6" rx="3.0" ry="2.6"/><ellipse cx="760.4" cy="426.8" rx="3.0" ry="2.6"/><ellipse cx="768.5" cy="426.8" rx="3.0" ry="2.6"/><ellipse cx="776.5" cy="444.1" rx="3.0" ry="2.6"/><ellipse cx="784.6" cy="437.3" rx="3.0" ry="2.6"/><ellipse cx="792.7" cy="445.5" rx="3.0" ry="2.6"/><ellipse cx="800.7" cy="455.3" rx="3.0" ry="2.6"/></g><path d="M195.6 433.1 L203.6 444.8 L211.7 439.7 L219.8 434 L227.8 428.9 L235.9 439.6 L244 435.2 L252.1 438.7 L260.1 437.3 L268.2 428.6 L276.3 426.1 L284.3 429.1 L292.4 427.5 L300.5 421 L308.5 428.3 L316.6 427.8 L324.7 434.6 L332.7 440.2 L340.8 436.6 L348.9 437.2 L356.9 434.6 L365 438.3 L373.1 436.5 L381.1 450.4 L389.2 443.6 L397.3 449.7 L405.4 442.7 L413.4 439.4 L421.5 455.4 L429.6 445.4 L437.6 450.3 L445.7 445.4 L453.8 448.4 L461.8 439.5 L469.9 434.1 L478 429.8 L486 419.4 L494.1 432.3 L502.2 429.6 L510.2 432 L518.3 444 L526.4 446.7 L534.5 454.3 L542.5 457.2 L550.6 454.5 L558.7 449.2 L566.7 456.2 L574.8 447.6 L582.9 442.5 L590.9 446.4 L599 451.1 L607.1 435.3 L615.1 447.5 L623.2 437.7 L631.3 436.4 L639.4 435.2 L647.4 437.8 L655.5 429.4 L663.6 426.7 L671.6 427 L679.7 424.9 L687.8 428.3 L695.8 422.7 L703.9 428.4 L712 428.2 L720 433.8 L728.1 431.9 L736.2 437.8 L744.2 434.9 L752.3 429 L760.4 427.5 L768.5 429.9 L776.5 436.6 L784.6 446 L792.7 447 L800.7 453.7" stroke="#712a38"/><g stroke="#712a38"><ellipse cx="195.6" cy="433.1" rx="3.0" ry="2.6"/><ellipse cx="203.6" cy="444.8" rx="3.0" ry="2.6"/><ellipse cx="211.7" cy="439.7" rx="3.0" ry="2.6"/><ellipse cx="219.8" cy="434" rx="3.0" ry="2.6"/><ellipse cx="227.8" cy="428.9" rx="3.0" ry="2.6"/><ellipse cx="235.9" cy="439.6" rx="3.0" ry="2.6"/><ellipse cx="244" cy="435.2" rx="3.0" ry="2.6"/><ellipse cx="252.1" cy="438.7" rx="3.0" ry="2.6"/><ellipse cx="260.1" cy="437.3" rx="3.0" ry="2.6"/><ellipse cx="268.2" cy="428.6" rx="3.0" ry="2.6"/><ellipse cx="276.3" cy="426.1" rx="3.0" ry="2.6"/><ellipse cx="284.3" cy="429.1" rx="3.0" ry="2.6"/><ellipse cx="292.4" cy="427.5" rx="3.0" ry="2.6"/><ellipse cx="300.5" cy="421" rx="3.0" ry="2.6"/><ellipse cx="308.5" cy="428.3" rx="3.0" ry="2.6"/><ellipse cx="316.6" cy="427.8" rx="3.0" ry="2.6"/><ellipse cx="324.7" cy="434.6" rx="3.0" ry="2.6"/><ellipse cx="332.7" cy="440.2" rx="3.0" ry="2.6"/><ellipse cx="340.8" cy="436.6" rx="3.0" ry="2.6"/><ellipse cx="348.9" cy="437.2" rx="3.0" ry="2.6"/><ellipse cx="356.9" cy="434.6" rx="3.0" ry="2.6"/><ellipse cx="365" cy="438.3" rx="3.0" ry="2.6"/><ellipse cx="373.1" cy="436.5" rx="3.0" ry="2.6"/><ellipse cx="381.1" cy="450.4" rx="3.0" ry="2.6"/><ellipse cx="389.2" cy="443.6" rx="3.0" ry="2.6"/><ellipse cx="397.3" cy="449.7" rx="3.0" ry="2.6"/><ellipse cx="405.4" cy="442.7" rx="3.0" ry="2.6"/><ellipse cx="413.4" cy="439.4" rx="3.0" ry="2.6"/><ellipse cx="421.5" cy="455.4" rx="3.0" ry="2.6"/><ellipse cx="429.6" cy="445.4" rx="3.0" ry="2.6"/><ellipse cx="437.6" cy="450.3" rx="3.0" ry="2.6"/><ellipse cx="445.7" cy="445.4" rx="3.0" ry="2.6"/><ellipse cx="453.8" cy="448.4" rx="3.0" ry="2.6"/><ellipse cx="461.8" cy="439.5" rx="3.0" ry="2.6"/><ellipse cx="469.9" cy="434.1" rx="3.0" ry="2.6"/><ellipse cx="478" cy="429.8" rx="3.0" ry="2.6"/><ellipse cx="486" cy="419.4" rx="3.0" ry="2.6"/><ellipse cx="494.1" cy="432.3" rx="3.0" ry="2.6"/><ellipse cx="502.2" cy="429.6" rx="3.0" ry="2.6"/><ellipse cx="510.2" cy="432" rx="3.0" ry="2.6"/><ellipse cx="518.3" cy="444" rx="3.0" ry="2.6"/><ellipse cx="526.4" cy="446.7" rx="3.0" ry="2.6"/><ellipse cx="534.5" cy="454.3" rx="3.0" ry="2.6"/><ellipse cx="542.5" cy="457.2" rx="3.0" ry="2.6"/><ellipse cx="550.6" cy="454.5" rx="3.0" ry="2.6"/><ellipse cx="558.7" cy="449.2" rx="3.0" ry="2.6"/><ellipse cx="566.7" cy="456.2" rx="3.0" ry="2.6"/><ellipse cx="574.8" cy="447.6" rx="3.0" ry="2.6"/><ellipse cx="582.9" cy="442.5" rx="3.0" ry="2.6"/><ellipse cx="590.9" cy="446.4" rx="3.0" ry="2.6"/><ellipse cx="599" cy="451.1" rx="3.0" ry="2.6"/><ellipse cx="607.1" cy="435.3" rx="3.0" ry="2.6"/><ellipse cx="615.1" cy="447.5" rx="3.0" ry="2.6"/><ellipse cx="623.2" cy="437.7" rx="3.0" ry="2.6"/><ellipse cx="631.3" cy="436.4" rx="3.0" ry="2.6"/><ellipse cx="639.4" cy="435.2" rx="3.0" ry="2.6"/><ellipse cx="647.4" cy="437.8" rx="3.0" ry="2.6"/><ellipse cx="655.5" cy="429.4" rx="3.0" ry="2.6"/><ellipse cx="663.6" cy="426.7" rx="3.0" ry="2.6"/><ellipse cx="671.6" cy="427" rx="3.0" ry="2.6"/><ellipse cx="679.7" cy="424.9" rx="3.0" ry="2.6"/><ellipse cx="687.8" cy="428.3" rx="3.0" ry="2.6"/><ellipse cx="695.8" cy="422.7" rx="3.0" ry="2.6"/><ellipse cx="703.9" cy="428.4" rx="3.0" ry="2.6"/><ellipse cx="712" cy="428.2" rx="3.0" ry="2.6"/><ellipse cx="720" cy="433.8" rx="3.0" ry="2.6"/><ellipse cx="728.1" cy="431.9" rx="3.0" ry="2.6"/><ellipse cx="736.2" cy="437.8" rx="3.0" ry="2.6"/><ellipse cx="744.2" cy="434.9" rx="3.0" ry="2.6"/><ellipse cx="752.3" cy="429" rx="3.0" ry="2.6"/><ellipse cx="760.4" cy="427.5" rx="3.0" ry="2.6"/><ellipse cx="768.5" cy="429.9" rx="3.0" ry="2.6"/><ellipse cx="776.5" cy="436.6" rx="3.0" ry="2.6"/><ellipse cx="784.6" cy="446" rx="3.0" ry="2.6"/><ellipse cx="792.7" cy="447" rx="3.0" ry="2.6"/><ellipse cx="800.7" cy="453.7" rx="3.0" ry="2.6"/></g></g>
<path d="M268.2 142.7 v-6 M268.2 38.2 v6 M348.9 142.7 v-6 M348.9 38.2 v6 M429.6 142.7 v-6 M429.6 38.2 v6 M510.2 142.7 v-6 M510.2 38.2 v6 M590.9 142.7 v-6 M590.9 38.2 v6 M671.6 142.7 v-6 M671.6 38.2 v6 M752.3 142.7 v-6 M752.3 38.2 v6 M187.5 90.4 h6 M833.0 90.4 h-6 M268.2 315.4 v-6 M268.2 210.8 v6 M348.9 315.4 v-6 M348.9 210.8 v6 M429.6 315.4 v-6 M429.6 210.8 v6 M510.2 315.4 v-6 M510.2 210.8 v6 M590.9 315.4 v-6 M590.9 210.8 v6 M671.6 315.4 v-6 M671.6 210.8 v6 M752.3 315.4 v-6 M752.3 210.8 v6 M187.5 263.1 h6 M833.0 263.1 h-6 M268.2 488.9 v-6 M268.2 384.6 v6 M348.9 488.9 v-6 M348.9 384.6 v6 M429.6 488.9 v-6 M429.6 384.6 v6 M510.2 488.9 v-6 M510.2 384.6 v6 M590.9 488.9 v-6 M590.9 384.6 v6 M671.6 488.9 v-6 M671.6 384.6 v6 M752.3 488.9 v-6 M752.3 384.6 v6 M187.5 436.8 h6 M833.0 436.8 h-6" stroke="#8a8a8a" stroke-width="1" fill="none"/>
<g fill="none" stroke="#a0a0a0" stroke-width="1.45"><rect x="187.5" y="38.2" width="645.5" height="104.49999999999999"/><rect x="187.5" y="210.8" width="645.5" height="104.59999999999997"/><rect x="187.5" y="384.6" width="645.5" height="104.29999999999995"/></g>
<text x="182" y="42.8" text-anchor="end" class="tk" textLength="25.8" lengthAdjust="spacingAndGlyphs">200</text>
<text x="182.3" y="94.9" text-anchor="end" class="tk" textLength="9.4" lengthAdjust="spacingAndGlyphs">0</text>
<text x="182" y="147.4" text-anchor="end" class="tk" textLength="25.8" lengthAdjust="spacingAndGlyphs">200</text>
<rect x="144.5" y="142.8" width="9.8" height="1.25" fill="#3a3a3a"/>
<text x="187.5" y="162.8" text-anchor="middle" class="tk">0</text>
<text x="268.2" y="162.8" text-anchor="middle" class="tk">10</text>
<text x="348.9" y="162.8" text-anchor="middle" class="tk">20</text>
<text x="429.6" y="162.8" text-anchor="middle" class="tk">30</text>
<text x="510.2" y="162.8" text-anchor="middle" class="tk">40</text>
<text x="590.9" y="162.8" text-anchor="middle" class="tk">50</text>
<text x="671.6" y="162.8" text-anchor="middle" class="tk">60</text>
<text x="752.3" y="162.8" text-anchor="middle" class="tk">70</text>
<text x="833" y="162.8" text-anchor="middle" class="tk">80</text>
<text x="444.0" y="189" class="xl" textLength="132.7" lengthAdjust="spacingAndGlyphs">Measured Point</text>
<text transform="translate(135 90.6) rotate(-90)"  x="-38.9" class="xl" textLength="77.8" lengthAdjust="spacingAndGlyphs">Ex ( &#956;m )</text>
<text x="182" y="215.4" text-anchor="end" class="tk" textLength="25.8" lengthAdjust="spacingAndGlyphs">200</text>
<text x="182.3" y="267.6" text-anchor="end" class="tk" textLength="9.4" lengthAdjust="spacingAndGlyphs">0</text>
<text x="182" y="320.1" text-anchor="end" class="tk" textLength="25.8" lengthAdjust="spacingAndGlyphs">200</text>
<rect x="144.5" y="315.5" width="9.8" height="1.25" fill="#3a3a3a"/>
<text x="187.5" y="335.5" text-anchor="middle" class="tk">0</text>
<text x="268.2" y="335.5" text-anchor="middle" class="tk">10</text>
<text x="348.9" y="335.5" text-anchor="middle" class="tk">20</text>
<text x="429.6" y="335.5" text-anchor="middle" class="tk">30</text>
<text x="510.2" y="335.5" text-anchor="middle" class="tk">40</text>
<text x="590.9" y="335.5" text-anchor="middle" class="tk">50</text>
<text x="671.6" y="335.5" text-anchor="middle" class="tk">60</text>
<text x="752.3" y="335.5" text-anchor="middle" class="tk">70</text>
<text x="833" y="335.5" text-anchor="middle" class="tk">80</text>
<text x="444.0" y="361.7" class="xl" textLength="132.7" lengthAdjust="spacingAndGlyphs">Measured Point</text>
<text transform="translate(135 263.3) rotate(-90)"  x="-38.9" class="xl" textLength="77.8" lengthAdjust="spacingAndGlyphs">Ey ( &#956;m )</text>
<text x="182" y="389.2" text-anchor="end" class="tk" textLength="25.8" lengthAdjust="spacingAndGlyphs">200</text>
<text x="182.3" y="441.2" text-anchor="end" class="tk" textLength="9.4" lengthAdjust="spacingAndGlyphs">0</text>
<text x="182" y="493.6" text-anchor="end" class="tk" textLength="25.8" lengthAdjust="spacingAndGlyphs">200</text>
<rect x="144.5" y="489" width="9.8" height="1.25" fill="#3a3a3a"/>
<text x="187.5" y="509" text-anchor="middle" class="tk">0</text>
<text x="268.2" y="509" text-anchor="middle" class="tk">10</text>
<text x="348.9" y="509" text-anchor="middle" class="tk">20</text>
<text x="429.6" y="509" text-anchor="middle" class="tk">30</text>
<text x="510.2" y="509" text-anchor="middle" class="tk">40</text>
<text x="590.9" y="509" text-anchor="middle" class="tk">50</text>
<text x="671.6" y="509" text-anchor="middle" class="tk">60</text>
<text x="752.3" y="509" text-anchor="middle" class="tk">70</text>
<text x="833" y="509" text-anchor="middle" class="tk">80</text>
<text x="441.5" y="535.2" class="xl" textLength="132.7" lengthAdjust="spacingAndGlyphs">Measured Point</text>
<text transform="translate(135 436.9) rotate(-90)"  x="-38.9" class="xl" textLength="77.8" lengthAdjust="spacingAndGlyphs">Ez ( &#956;m )</text>
<text x="241.2" y="62.3" class="ann" fill="#1866a3" stroke="#1866a3" textLength="104.2" lengthAdjust="spacingAndGlyphs">XY: P1 to P28</text>
<text x="427.1" y="58.6" class="ann" fill="#bc161d" stroke="#bc161d" textLength="114.2" lengthAdjust="spacingAndGlyphs">XZ: P29 to P44</text>
<text x="613.3" y="58.3" class="ann" fill="#1c9e5c" stroke="#1c9e5c" textLength="113.4" lengthAdjust="spacingAndGlyphs">YZ: P45 to P76</text>
<g stroke-width="2.5"><line x1="198.3" y1="38" x2="198.3" y2="489" stroke="#1a6189"/><line x1="415.0" y1="38" x2="415.0" y2="489" stroke="#1a6189"/><line x1="423.4" y1="38" x2="423.4" y2="489" stroke="#a8191e"/><line x1="542.9" y1="38" x2="542.9" y2="489" stroke="#a8191e"/><line x1="551.0" y1="38" x2="551.0" y2="489" stroke="#1f9058"/><line x1="802.5" y1="38" x2="802.5" y2="489" stroke="#1f9058"/></g>
<text x="310" y="15.9" class="ti" textLength="305.8" lengthAdjust="spacingAndGlyphs">23rd of July (Ambient temperature = 23.4</text>
<g fill="none" stroke="#000" stroke-width="1.35"><ellipse cx="618.8" cy="7.7" rx="1.75" ry="1.7"/><ellipse cx="685.4" cy="7.6" rx="2.1" ry="1.9"/></g>
<text transform="translate(621.5 15.7) scale(0.74 1.02)" class="cc">C</text>
<text transform="translate(688.4 16.0) scale(0.74 1.06)" class="cc">C</text>
<text x="634.0" y="15.4" class="ti" style="font-size:16.8px">&#177;</text>
<text x="646.6" y="15.9" class="ti" textLength="31.2" lengthAdjust="spacingAndGlyphs">0.15</text>
<text transform="translate(697.0 16.1) scale(1.4 1.02)" class="pr">)</text>
</svg>
</body></html>
